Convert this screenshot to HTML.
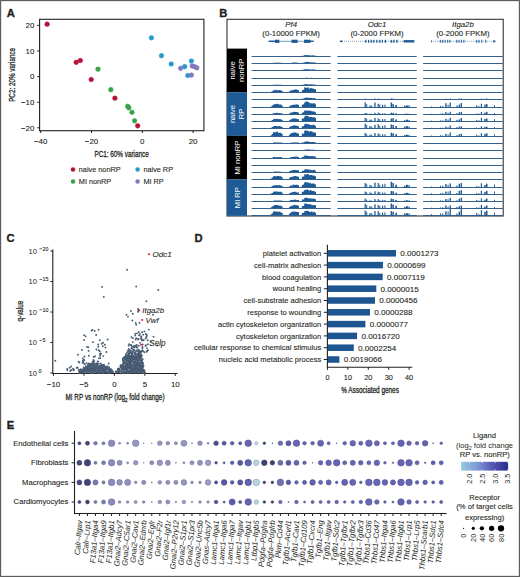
<!DOCTYPE html>
<html><head><meta charset="utf-8"><style>
html,body{margin:0;padding:0;background:#fff;}
#fig{position:relative;width:520px;height:577px;overflow:hidden;background:#fff;}
svg{position:absolute;left:0;top:0;font-family:"Liberation Sans", sans-serif;}
</style></head><body><div id="fig">
<svg width="520" height="577" viewBox="0 0 520 577">
<rect x="0.6" y="0.6" width="518.8" height="575.8" fill="none" stroke="#555" stroke-width="1.1"/>
<g id="A">
<text x="6.70" y="16.50" font-size="11.2" text-anchor="start" fill="#231f20" font-weight="bold" stroke="#231f20" stroke-width="0.35">A</text>
<rect x="39.6" y="19.3" width="164.3" height="111.4" fill="none" stroke="#231f20" stroke-width="1.1"/>
<line x1="37.2" y1="25.40" x2="39.6" y2="25.40" stroke="#231f20" stroke-width="1"/>
<text x="34.40" y="28.20" font-size="7.9" text-anchor="end" fill="#231f20" stroke="#231f20" stroke-width="0.1" >20</text>
<line x1="37.2" y1="51.00" x2="39.6" y2="51.00" stroke="#231f20" stroke-width="1"/>
<text x="34.40" y="53.80" font-size="7.9" text-anchor="end" fill="#231f20" stroke="#231f20" stroke-width="0.1" >10</text>
<line x1="37.2" y1="76.60" x2="39.6" y2="76.60" stroke="#231f20" stroke-width="1"/>
<text x="34.40" y="79.40" font-size="7.9" text-anchor="end" fill="#231f20" stroke="#231f20" stroke-width="0.1" >0</text>
<line x1="37.2" y1="102.20" x2="39.6" y2="102.20" stroke="#231f20" stroke-width="1"/>
<text x="34.40" y="105.00" font-size="7.9" text-anchor="end" fill="#231f20" stroke="#231f20" stroke-width="0.1" >−10</text>
<line x1="37.2" y1="127.80" x2="39.6" y2="127.80" stroke="#231f20" stroke-width="1"/>
<text x="34.40" y="130.60" font-size="7.9" text-anchor="end" fill="#231f20" stroke="#231f20" stroke-width="0.1" >−20</text>
<line x1="40.70" y1="130.7" x2="40.70" y2="133.0" stroke="#231f20" stroke-width="1"/>
<text x="40.70" y="144.20" font-size="7.9" text-anchor="middle" fill="#231f20" stroke="#231f20" stroke-width="0.1" >−40</text>
<line x1="91.50" y1="130.7" x2="91.50" y2="133.0" stroke="#231f20" stroke-width="1"/>
<text x="91.50" y="144.20" font-size="7.9" text-anchor="middle" fill="#231f20" stroke="#231f20" stroke-width="0.1" >−20</text>
<line x1="142.30" y1="130.7" x2="142.30" y2="133.0" stroke="#231f20" stroke-width="1"/>
<text x="142.30" y="144.20" font-size="7.9" text-anchor="middle" fill="#231f20" stroke="#231f20" stroke-width="0.1" >0</text>
<line x1="193.10" y1="130.7" x2="193.10" y2="133.0" stroke="#231f20" stroke-width="1"/>
<text x="193.10" y="144.20" font-size="7.9" text-anchor="middle" fill="#231f20" stroke="#231f20" stroke-width="0.1" >20</text>
<text transform="translate(121.6,157.0) scale(0.739,1)" font-size="8.6" text-anchor="middle" fill="#231f20" stroke="#231f20" stroke-width="0.28">PC1: 60% variance</text>
<text transform="translate(14.8,74.9) rotate(-90) scale(0.734,1)" font-size="8.6" text-anchor="middle" fill="#231f20" stroke="#231f20" stroke-width="0.28">PC2: 20% variance</text>
<circle cx="47.1" cy="24.2" r="2.35" fill="#b5123a" stroke="#b5123a" stroke-width="0.5" stroke-opacity="0.9"/>
<circle cx="76.2" cy="62.3" r="2.35" fill="#b5123a" stroke="#b5123a" stroke-width="0.5" stroke-opacity="0.9"/>
<circle cx="80.3" cy="60.5" r="2.35" fill="#b5123a" stroke="#b5123a" stroke-width="0.5" stroke-opacity="0.9"/>
<circle cx="91.2" cy="79.5" r="2.35" fill="#b5123a" stroke="#b5123a" stroke-width="0.5" stroke-opacity="0.9"/>
<circle cx="114.9" cy="98.2" r="2.35" fill="#b5123a" stroke="#b5123a" stroke-width="0.5" stroke-opacity="0.9"/>
<circle cx="137.7" cy="125.8" r="2.35" fill="#b5123a" stroke="#b5123a" stroke-width="0.5" stroke-opacity="0.9"/>
<circle cx="98.0" cy="69.2" r="2.35" fill="#37a347" stroke="#37a347" stroke-width="0.5" stroke-opacity="0.9"/>
<circle cx="110.8" cy="89.7" r="2.35" fill="#37a347" stroke="#37a347" stroke-width="0.5" stroke-opacity="0.9"/>
<circle cx="127.7" cy="106.3" r="2.35" fill="#37a347" stroke="#37a347" stroke-width="0.5" stroke-opacity="0.9"/>
<circle cx="128.8" cy="107.8" r="2.35" fill="#37a347" stroke="#37a347" stroke-width="0.5" stroke-opacity="0.9"/>
<circle cx="132.0" cy="112.3" r="2.35" fill="#37a347" stroke="#37a347" stroke-width="0.5" stroke-opacity="0.9"/>
<circle cx="134.6" cy="120.8" r="2.35" fill="#37a347" stroke="#37a347" stroke-width="0.5" stroke-opacity="0.9"/>
<circle cx="151.4" cy="37.8" r="2.35" fill="#2598d0" stroke="#2598d0" stroke-width="0.5" stroke-opacity="0.9"/>
<circle cx="161.5" cy="55.7" r="2.35" fill="#2598d0" stroke="#2598d0" stroke-width="0.5" stroke-opacity="0.9"/>
<circle cx="171.2" cy="64.0" r="2.35" fill="#2598d0" stroke="#2598d0" stroke-width="0.5" stroke-opacity="0.9"/>
<circle cx="184.7" cy="66.7" r="2.35" fill="#2598d0" stroke="#2598d0" stroke-width="0.5" stroke-opacity="0.9"/>
<circle cx="191.4" cy="61.1" r="2.35" fill="#2598d0" stroke="#2598d0" stroke-width="0.5" stroke-opacity="0.9"/>
<circle cx="187.8" cy="75.5" r="2.35" fill="#2598d0" stroke="#2598d0" stroke-width="0.5" stroke-opacity="0.9"/>
<circle cx="180.6" cy="68.3" r="2.35" fill="#8676bc" stroke="#8676bc" stroke-width="0.5" stroke-opacity="0.9"/>
<circle cx="191.4" cy="75.1" r="2.35" fill="#8676bc" stroke="#8676bc" stroke-width="0.5" stroke-opacity="0.9"/>
<circle cx="192.2" cy="66.0" r="2.35" fill="#8676bc" stroke="#8676bc" stroke-width="0.5" stroke-opacity="0.9"/>
<circle cx="194.5" cy="66.7" r="2.35" fill="#8676bc" stroke="#8676bc" stroke-width="0.5" stroke-opacity="0.9"/>
<circle cx="196.8" cy="67.8" r="2.35" fill="#8676bc" stroke="#8676bc" stroke-width="0.5" stroke-opacity="0.9"/>
<circle cx="73.0" cy="169.6" r="2.25" fill="#b5123a"/>
<text x="78.80" y="172.20" font-size="7.3" text-anchor="start" fill="#231f20" stroke="#231f20" stroke-width="0.1" >naive nonRP</text>
<circle cx="73.0" cy="181.4" r="2.25" fill="#37a347"/>
<text x="78.80" y="184.00" font-size="7.3" text-anchor="start" fill="#231f20" stroke="#231f20" stroke-width="0.1" >MI nonRP</text>
<circle cx="137.6" cy="169.6" r="2.25" fill="#2598d0"/>
<text x="143.40" y="172.20" font-size="7.3" text-anchor="start" fill="#231f20" stroke="#231f20" stroke-width="0.1" >naive RP</text>
<circle cx="137.6" cy="181.4" r="2.25" fill="#8676bc"/>
<text x="143.40" y="184.00" font-size="7.3" text-anchor="start" fill="#231f20" stroke="#231f20" stroke-width="0.1" >MI RP</text>
</g>
<g id="B">
<text x="219.30" y="16.50" font-size="11.2" text-anchor="start" fill="#231f20" font-weight="bold" stroke="#231f20" stroke-width="0.35">B</text>
<rect x="227.0" y="19.3" width="276.2" height="196.7" fill="none" stroke="#333" stroke-width="1.1"/>
<rect x="227.0" y="48.60" width="20" height="43.62" fill="#000"/>
<text transform="translate(235.05,70.41) rotate(-90)" font-size="7.6" text-anchor="middle" fill="#fff">naive</text>
<text transform="translate(243.95,70.41) rotate(-90)" font-size="7.6" text-anchor="middle" fill="#fff">nonRP</text>
<rect x="227.0" y="92.22" width="20" height="43.62" fill="#1d5a96"/>
<text transform="translate(235.05,114.03) rotate(-90)" font-size="7.6" text-anchor="middle" fill="#fff">naive</text>
<text transform="translate(243.95,114.03) rotate(-90)" font-size="7.6" text-anchor="middle" fill="#fff">RP</text>
<rect x="227.0" y="135.84" width="20" height="43.62" fill="#000"/>
<text transform="translate(239.50,157.65) rotate(-90)" font-size="7.6" text-anchor="middle" fill="#fff">MI nonRP</text>
<rect x="227.0" y="179.46" width="20" height="36.35" fill="#1d5a96"/>
<text transform="translate(239.50,197.63) rotate(-90)" font-size="7.6" text-anchor="middle" fill="#fff">MI RP</text>
<text x="291.15" y="27.30" font-size="7.8" text-anchor="middle" fill="#231f20" stroke="#231f20" stroke-width="0.1" font-style="italic">Pf4</text>
<text x="291.15" y="36.40" font-size="7.8" text-anchor="middle" fill="#231f20" stroke="#231f20" stroke-width="0.1" >(0-10000 FPKM)</text>
<text x="377.05" y="27.30" font-size="7.8" text-anchor="middle" fill="#231f20" stroke="#231f20" stroke-width="0.1" font-style="italic">Odc1</text>
<text x="377.05" y="36.40" font-size="7.8" text-anchor="middle" fill="#231f20" stroke="#231f20" stroke-width="0.1" >(0-2000 FPKM)</text>
<text x="462.90" y="27.30" font-size="7.8" text-anchor="middle" fill="#231f20" stroke="#231f20" stroke-width="0.1" font-style="italic">Itga2b</text>
<text x="462.90" y="36.40" font-size="7.8" text-anchor="middle" fill="#231f20" stroke="#231f20" stroke-width="0.1" >(0-2000 FPKM)</text>
<line x1="268.7" y1="41.3" x2="313.7" y2="41.3" stroke="#1d5a96" stroke-width="0.6"/>
<rect x="268.7" y="40.60" width="6.30" height="1.4" fill="#1d5a96"/>
<rect x="275" y="39.70" width="4.40" height="3.2" fill="#1d5a96"/>
<rect x="291.5" y="39.70" width="6.10" height="3.2" fill="#1d5a96"/>
<rect x="304" y="39.70" width="6.60" height="3.2" fill="#1d5a96"/>
<rect x="310.6" y="40.60" width="3.10" height="1.4" fill="#1d5a96"/>
<line x1="342" y1="41.3" x2="403.6" y2="41.3" stroke="#1d5a96" stroke-width="0.6" stroke-dasharray="1,1"/>
<rect x="339.9" y="40.50" width="2.50" height="1.6" fill="#1d5a96"/>
<rect x="365.2" y="39.80" width="1.20" height="3.0" fill="#1d5a96"/>
<rect x="368" y="39.80" width="1.20" height="3.0" fill="#1d5a96"/>
<rect x="370.6" y="39.80" width="1.20" height="3.0" fill="#1d5a96"/>
<rect x="373.2" y="39.80" width="1.20" height="3.0" fill="#1d5a96"/>
<rect x="376.2" y="39.80" width="1.20" height="3.0" fill="#1d5a96"/>
<rect x="379.2" y="39.80" width="1.20" height="3.0" fill="#1d5a96"/>
<rect x="381.8" y="39.80" width="1.20" height="3.0" fill="#1d5a96"/>
<rect x="384.8" y="39.80" width="1.20" height="3.0" fill="#1d5a96"/>
<rect x="390.6" y="39.80" width="1.30" height="3.0" fill="#1d5a96"/>
<rect x="393.2" y="39.80" width="1.30" height="3.0" fill="#1d5a96"/>
<rect x="396.2" y="39.80" width="1.30" height="3.0" fill="#1d5a96"/>
<rect x="403.6" y="40.10" width="10.70" height="2.4" fill="#1d5a96"/>
<line x1="431.2" y1="41.3" x2="495.8" y2="41.3" stroke="#1d5a96" stroke-width="0.6" stroke-dasharray="1,1"/>
<rect x="439.8" y="39.80" width="1.30" height="3.0" fill="#4f7fae"/>
<rect x="442.0" y="39.80" width="1.30" height="3.0" fill="#4f7fae"/>
<rect x="444.5" y="39.80" width="1.30" height="3.0" fill="#4f7fae"/>
<rect x="447.0" y="39.80" width="1.30" height="3.0" fill="#4f7fae"/>
<rect x="449.2" y="39.80" width="1.30" height="3.0" fill="#4f7fae"/>
<rect x="456.0" y="39.80" width="1.30" height="3.0" fill="#4f7fae"/>
<rect x="458.4" y="39.80" width="1.30" height="3.0" fill="#4f7fae"/>
<rect x="460.8" y="39.80" width="1.30" height="3.0" fill="#4f7fae"/>
<rect x="463.2" y="39.80" width="1.30" height="3.0" fill="#4f7fae"/>
<rect x="476.0" y="39.80" width="1.30" height="3.0" fill="#4f7fae"/>
<rect x="478.4" y="39.80" width="1.30" height="3.0" fill="#4f7fae"/>
<rect x="481.0" y="39.80" width="1.30" height="3.0" fill="#4f7fae"/>
<rect x="485.0" y="39.80" width="1.30" height="3.0" fill="#4f7fae"/>
<path d="M493.4,39.699999999999996 L495.8,41.3 L493.4,42.9 Z" fill="#1d5a96"/>
<rect x="431.2" y="40.3" width="0.8" height="2" fill="#1d5a96"/>
<path d="M270.60,56.50 L270.60,56.35 L271.81,56.35 L271.81,56.21 L273.02,56.21 L273.02,56.02 L274.23,56.02 L274.23,55.95 L275.44,55.95 L275.44,56.00 L276.65,56.00 L276.65,55.95 L277.86,55.95 L277.86,56.10 L279.07,56.10 L279.07,56.03 L280.28,56.03 L280.28,56.03 L281.49,56.03 L281.49,56.19 L282.70,56.19 L282.70,56.50 Z M289.00,56.50 L289.00,56.40 L290.25,56.40 L290.25,56.37 L291.50,56.37 L291.50,56.33 L292.75,56.33 L292.75,56.32 L294.00,56.32 L294.00,56.30 L295.25,56.30 L295.25,56.30 L296.50,56.30 L296.50,56.33 L297.75,56.33 L297.75,56.35 L299.00,56.35 L299.00,56.50 Z M301.80,56.50 L301.80,55.84 L302.98,55.84 L302.98,55.65 L304.17,55.65 L304.17,55.09 L305.35,55.09 L305.35,55.21 L306.53,55.21 L306.53,55.00 L307.72,55.00 L307.72,55.29 L308.90,55.29 L308.90,55.28 L310.08,55.28 L310.08,55.42 L311.27,55.42 L311.27,55.51 L312.45,55.51 L312.45,55.36 L313.63,55.36 L313.63,55.52 L314.82,55.52 L314.82,55.72 L316.00,55.72 L316.00,56.50 Z " fill="#1d5a96"/>
<line x1="251.6" y1="56.50" x2="330.7" y2="56.50" stroke="#34608c" stroke-width="1"/>
<line x1="337.4" y1="56.50" x2="416.7" y2="56.50" stroke="#34608c" stroke-width="1"/>
<line x1="423.1" y1="56.50" x2="502.7" y2="56.50" stroke="#34608c" stroke-width="1"/>
<path d="M270.60,63.50 L270.60,63.25 L271.81,63.25 L271.81,62.99 L273.02,62.99 L273.02,62.72 L274.23,62.72 L274.23,62.67 L275.44,62.67 L275.44,62.65 L276.65,62.65 L276.65,62.60 L277.86,62.60 L277.86,62.69 L279.07,62.69 L279.07,62.65 L280.28,62.65 L280.28,62.78 L281.49,62.78 L281.49,62.99 L282.70,62.99 L282.70,63.50 Z M289.00,63.50 L289.00,63.08 L290.25,63.08 L290.25,62.90 L291.50,62.90 L291.50,62.70 L292.75,62.70 L292.75,62.59 L294.00,62.59 L294.00,62.52 L295.25,62.52 L295.25,62.50 L296.50,62.50 L296.50,62.70 L297.75,62.70 L297.75,62.83 L299.00,62.83 L299.00,63.50 Z M301.80,63.50 L301.80,62.71 L302.98,62.71 L302.98,62.66 L304.17,62.66 L304.17,62.18 L305.35,62.18 L305.35,61.94 L306.53,61.94 L306.53,61.87 L307.72,61.87 L307.72,61.96 L308.90,61.96 L308.90,62.31 L310.08,62.31 L310.08,62.29 L311.27,62.29 L311.27,62.44 L312.45,62.44 L312.45,62.25 L313.63,62.25 L313.63,62.45 L314.82,62.45 L314.82,62.55 L316.00,62.55 L316.00,63.50 Z " fill="#1d5a96"/>
<line x1="251.6" y1="63.50" x2="330.7" y2="63.50" stroke="#34608c" stroke-width="1"/>
<line x1="337.4" y1="63.50" x2="416.7" y2="63.50" stroke="#34608c" stroke-width="1"/>
<line x1="423.1" y1="63.50" x2="502.7" y2="63.50" stroke="#34608c" stroke-width="1"/>
<path d="M270.60,70.50 L270.60,70.47 L271.81,70.47 L271.81,70.45 L273.02,70.45 L273.02,70.41 L274.23,70.41 L274.23,70.40 L275.44,70.40 L275.44,70.41 L276.65,70.41 L276.65,70.41 L277.86,70.41 L277.86,70.42 L279.07,70.42 L279.07,70.40 L280.28,70.40 L280.28,70.42 L281.49,70.42 L281.49,70.44 L282.70,70.44 L282.70,70.50 Z M289.00,70.50 L289.00,70.27 L290.25,70.27 L290.25,70.18 L291.50,70.18 L291.50,70.07 L292.75,70.07 L292.75,70.03 L294.00,70.03 L294.00,70.01 L295.25,70.01 L295.25,69.94 L296.50,69.94 L296.50,70.07 L297.75,70.07 L297.75,70.15 L299.00,70.15 L299.00,70.50 Z M301.80,70.50 L301.80,69.78 L302.98,69.78 L302.98,69.80 L304.17,69.80 L304.17,69.35 L305.35,69.35 L305.35,69.25 L306.53,69.25 L306.53,69.24 L307.72,69.24 L307.72,69.13 L308.90,69.13 L308.90,69.47 L310.08,69.47 L310.08,69.47 L311.27,69.47 L311.27,69.44 L312.45,69.44 L312.45,69.51 L313.63,69.51 L313.63,69.42 L314.82,69.42 L314.82,69.66 L316.00,69.66 L316.00,70.50 Z " fill="#1d5a96"/>
<line x1="251.6" y1="70.50" x2="330.7" y2="70.50" stroke="#34608c" stroke-width="1"/>
<line x1="337.4" y1="70.50" x2="416.7" y2="70.50" stroke="#34608c" stroke-width="1"/>
<line x1="423.1" y1="70.50" x2="502.7" y2="70.50" stroke="#34608c" stroke-width="1"/>
<path d="M270.60,78.50 L270.60,78.47 L271.81,78.47 L271.81,78.44 L273.02,78.44 L273.02,78.40 L274.23,78.40 L274.23,78.41 L275.44,78.41 L275.44,78.41 L276.65,78.41 L276.65,78.41 L277.86,78.41 L277.86,78.42 L279.07,78.42 L279.07,78.42 L280.28,78.42 L280.28,78.42 L281.49,78.42 L281.49,78.44 L282.70,78.44 L282.70,78.50 Z M289.00,78.50 L289.00,78.45 L290.25,78.45 L290.25,78.43 L291.50,78.43 L291.50,78.42 L292.75,78.42 L292.75,78.41 L294.00,78.41 L294.00,78.40 L295.25,78.40 L295.25,78.40 L296.50,78.40 L296.50,78.41 L297.75,78.41 L297.75,78.41 L299.00,78.41 L299.00,78.50 Z M301.80,78.50 L301.80,78.14 L302.98,78.14 L302.98,78.15 L304.17,78.15 L304.17,77.90 L305.35,77.90 L305.35,77.87 L306.53,77.87 L306.53,77.72 L307.72,77.72 L307.72,77.90 L308.90,77.90 L308.90,77.89 L310.08,77.89 L310.08,77.84 L311.27,77.84 L311.27,78.00 L312.45,78.00 L312.45,77.99 L313.63,77.99 L313.63,77.98 L314.82,77.98 L314.82,78.04 L316.00,78.04 L316.00,78.50 Z " fill="#1d5a96"/>
<line x1="251.6" y1="78.50" x2="330.7" y2="78.50" stroke="#34608c" stroke-width="1"/>
<line x1="337.4" y1="78.50" x2="416.7" y2="78.50" stroke="#34608c" stroke-width="1"/>
<line x1="423.1" y1="78.50" x2="502.7" y2="78.50" stroke="#34608c" stroke-width="1"/>
<path d="M270.60,85.50 L270.60,85.29 L271.81,85.29 L271.81,85.05 L273.02,85.05 L273.02,84.86 L274.23,84.86 L274.23,84.70 L275.44,84.70 L275.44,84.65 L276.65,84.65 L276.65,84.74 L277.86,84.74 L277.86,84.70 L279.07,84.70 L279.07,84.72 L280.28,84.72 L280.28,84.76 L281.49,84.76 L281.49,85.08 L282.70,85.08 L282.70,85.50 Z M289.00,85.50 L289.00,85.26 L290.25,85.26 L290.25,85.15 L291.50,85.15 L291.50,85.06 L292.75,85.06 L292.75,85.04 L294.00,85.04 L294.00,84.94 L295.25,84.94 L295.25,84.98 L296.50,84.98 L296.50,85.00 L297.75,85.00 L297.75,85.08 L299.00,85.08 L299.00,85.50 Z M301.80,85.50 L301.80,84.79 L302.98,84.79 L302.98,84.67 L304.17,84.67 L304.17,84.13 L305.35,84.13 L305.35,84.08 L306.53,84.08 L306.53,84.22 L307.72,84.22 L307.72,84.15 L308.90,84.15 L308.90,84.41 L310.08,84.41 L310.08,84.29 L311.27,84.29 L311.27,84.40 L312.45,84.40 L312.45,84.38 L313.63,84.38 L313.63,84.43 L314.82,84.43 L314.82,84.69 L316.00,84.69 L316.00,85.50 Z " fill="#1d5a96"/>
<line x1="251.6" y1="85.50" x2="330.7" y2="85.50" stroke="#34608c" stroke-width="1"/>
<line x1="337.4" y1="85.50" x2="416.7" y2="85.50" stroke="#34608c" stroke-width="1"/>
<line x1="423.1" y1="85.50" x2="502.7" y2="85.50" stroke="#34608c" stroke-width="1"/>
<path d="M270.60,92.50 L270.60,91.68 L271.81,91.68 L271.81,91.19 L273.02,91.19 L273.02,90.27 L274.23,90.27 L274.23,90.22 L275.44,90.22 L275.44,89.84 L276.65,89.84 L276.65,90.21 L277.86,90.21 L277.86,90.16 L279.07,90.16 L279.07,90.07 L280.28,90.07 L280.28,90.27 L281.49,90.27 L281.49,91.03 L282.70,91.03 L282.70,92.50 Z M289.00,92.50 L289.00,91.19 L290.25,91.19 L290.25,90.45 L291.50,90.45 L291.50,90.21 L292.75,90.21 L292.75,89.77 L294.00,89.77 L294.00,89.66 L295.25,89.66 L295.25,89.30 L296.50,89.30 L296.50,89.69 L297.75,89.69 L297.75,90.33 L299.00,90.33 L299.00,92.50 Z M301.80,92.50 L301.80,90.28 L302.98,90.28 L302.98,89.85 L304.17,89.85 L304.17,87.20 L305.35,87.20 L305.35,88.07 L306.53,88.07 L306.53,87.56 L307.72,87.56 L307.72,87.44 L308.90,87.44 L308.90,88.64 L310.08,88.64 L310.08,87.94 L311.27,87.94 L311.27,88.13 L312.45,88.13 L312.45,88.46 L313.63,88.46 L313.63,89.08 L314.82,89.08 L314.82,89.19 L316.00,89.19 L316.00,92.50 Z " fill="#1d5a96"/>
<line x1="251.6" y1="92.50" x2="330.7" y2="92.50" stroke="#34608c" stroke-width="1"/>
<line x1="337.4" y1="92.50" x2="416.7" y2="92.50" stroke="#34608c" stroke-width="1"/>
<line x1="423.1" y1="92.50" x2="502.7" y2="92.50" stroke="#34608c" stroke-width="1"/>
<path d="M270.60,99.50 L270.60,99.41 L271.81,99.41 L271.81,99.32 L273.02,99.32 L273.02,99.26 L274.23,99.26 L274.23,99.21 L275.44,99.21 L275.44,99.25 L276.65,99.25 L276.65,99.19 L277.86,99.19 L277.86,99.25 L279.07,99.25 L279.07,99.23 L280.28,99.23 L280.28,99.23 L281.49,99.23 L281.49,99.34 L282.70,99.34 L282.70,99.50 Z M289.00,99.50 L289.00,99.25 L290.25,99.25 L290.25,99.10 L291.50,99.10 L291.50,98.95 L292.75,98.95 L292.75,98.93 L294.00,98.93 L294.00,98.88 L295.25,98.88 L295.25,98.84 L296.50,98.84 L296.50,98.97 L297.75,98.97 L297.75,99.03 L299.00,99.03 L299.00,99.50 Z M301.80,99.50 L301.80,98.67 L302.98,98.67 L302.98,98.44 L304.17,98.44 L304.17,97.99 L305.35,97.99 L305.35,97.59 L306.53,97.59 L306.53,97.77 L307.72,97.77 L307.72,97.76 L308.90,97.76 L308.90,98.09 L310.08,98.09 L310.08,97.81 L311.27,97.81 L311.27,98.12 L312.45,98.12 L312.45,98.16 L313.63,98.16 L313.63,98.01 L314.82,98.01 L314.82,98.40 L316.00,98.40 L316.00,99.50 Z " fill="#1d5a96"/>
<line x1="251.6" y1="99.50" x2="330.7" y2="99.50" stroke="#34608c" stroke-width="1"/>
<line x1="337.4" y1="99.50" x2="416.7" y2="99.50" stroke="#34608c" stroke-width="1"/>
<rect x="364.60" y="98.65" width="1.2" height="0.85" fill="#1d5a96"/>
<rect x="366.20" y="98.89" width="1.0" height="0.61" fill="#1d5a96"/>
<rect x="369.40" y="98.96" width="1.3" height="0.54" fill="#1d5a96"/>
<rect x="371.20" y="99.09" width="1.0" height="0.41" fill="#1d5a96"/>
<rect x="374.30" y="98.61" width="1.3" height="0.89" fill="#1d5a96"/>
<rect x="377.60" y="98.68" width="1.2" height="0.82" fill="#1d5a96"/>
<rect x="379.30" y="98.85" width="1.0" height="0.65" fill="#1d5a96"/>
<rect x="382.00" y="99.04" width="1.2" height="0.46" fill="#1d5a96"/>
<rect x="384.40" y="98.91" width="1.1" height="0.59" fill="#1d5a96"/>
<rect x="390.60" y="98.51" width="1.5" height="0.99" fill="#1d5a96"/>
<rect x="392.40" y="98.70" width="1.5" height="0.80" fill="#1d5a96"/>
<rect x="395.30" y="98.96" width="1.6" height="0.54" fill="#1d5a96"/>
<rect x="404.00" y="99.15" width="1.6" height="0.35" fill="#1d5a96"/>
<rect x="406.00" y="99.03" width="2.0" height="0.47" fill="#1d5a96"/>
<rect x="408.40" y="99.11" width="1.3" height="0.39" fill="#1d5a96"/>
<line x1="423.1" y1="99.50" x2="502.7" y2="99.50" stroke="#34608c" stroke-width="1"/>
<rect x="431.00" y="99.22" width="0.8" height="0.28" fill="#1d5a96"/>
<rect x="440.00" y="99.09" width="1.0" height="0.41" fill="#1d5a96"/>
<rect x="442.30" y="99.14" width="1.0" height="0.36" fill="#1d5a96"/>
<rect x="445.20" y="98.73" width="1.4" height="0.77" fill="#1d5a96"/>
<rect x="447.60" y="98.87" width="1.0" height="0.63" fill="#1d5a96"/>
<rect x="449.60" y="98.57" width="1.3" height="0.93" fill="#1d5a96"/>
<rect x="456.30" y="99.02" width="1.2" height="0.48" fill="#1d5a96"/>
<rect x="458.60" y="98.68" width="1.4" height="0.82" fill="#1d5a96"/>
<rect x="460.60" y="98.61" width="1.4" height="0.89" fill="#1d5a96"/>
<rect x="476.20" y="99.09" width="1.0" height="0.41" fill="#1d5a96"/>
<rect x="478.40" y="99.10" width="1.0" height="0.40" fill="#1d5a96"/>
<rect x="480.80" y="98.57" width="1.2" height="0.93" fill="#1d5a96"/>
<rect x="484.20" y="98.77" width="1.5" height="0.73" fill="#1d5a96"/>
<rect x="486.00" y="98.62" width="1.5" height="0.88" fill="#1d5a96"/>
<rect x="494.00" y="98.96" width="0.9" height="0.54" fill="#1d5a96"/>
<path d="M270.60,107.50 L270.60,106.48 L271.81,106.48 L271.81,105.39 L273.02,105.39 L273.02,104.43 L274.23,104.43 L274.23,104.25 L275.44,104.25 L275.44,103.92 L276.65,103.92 L276.65,103.78 L277.86,103.78 L277.86,104.20 L279.07,104.20 L279.07,104.56 L280.28,104.56 L280.28,104.59 L281.49,104.59 L281.49,105.49 L282.70,105.49 L282.70,107.50 Z M289.00,107.50 L289.00,106.23 L290.25,106.23 L290.25,105.48 L291.50,105.48 L291.50,105.09 L292.75,105.09 L292.75,104.65 L294.00,104.65 L294.00,104.85 L295.25,104.85 L295.25,104.44 L296.50,104.44 L296.50,104.32 L297.75,104.32 L297.75,105.11 L299.00,105.11 L299.00,107.50 Z M301.80,107.50 L301.80,104.87 L302.98,104.87 L302.98,104.34 L304.17,104.34 L304.17,102.47 L305.35,102.47 L305.35,101.46 L306.53,101.46 L306.53,101.50 L307.72,101.50 L307.72,101.90 L308.90,101.90 L308.90,102.81 L310.08,102.81 L310.08,103.35 L311.27,103.35 L311.27,103.56 L312.45,103.56 L312.45,103.44 L313.63,103.44 L313.63,103.05 L314.82,103.05 L314.82,104.30 L316.00,104.30 L316.00,107.50 Z " fill="#1d5a96"/>
<line x1="251.6" y1="107.50" x2="330.7" y2="107.50" stroke="#34608c" stroke-width="1"/>
<line x1="337.4" y1="107.50" x2="416.7" y2="107.50" stroke="#34608c" stroke-width="1"/>
<rect x="364.60" y="102.30" width="1.2" height="5.20" fill="#1d5a96"/>
<rect x="366.20" y="104.08" width="1.0" height="3.42" fill="#1d5a96"/>
<rect x="369.40" y="105.41" width="1.3" height="2.09" fill="#1d5a96"/>
<rect x="371.20" y="105.57" width="1.0" height="1.93" fill="#1d5a96"/>
<rect x="374.30" y="102.58" width="1.3" height="4.92" fill="#1d5a96"/>
<rect x="377.60" y="103.71" width="1.2" height="3.79" fill="#1d5a96"/>
<rect x="379.30" y="104.35" width="1.0" height="3.15" fill="#1d5a96"/>
<rect x="382.00" y="104.76" width="1.2" height="2.74" fill="#1d5a96"/>
<rect x="384.40" y="104.65" width="1.1" height="2.85" fill="#1d5a96"/>
<rect x="390.60" y="102.56" width="1.5" height="4.94" fill="#1d5a96"/>
<rect x="392.40" y="104.07" width="1.5" height="3.43" fill="#1d5a96"/>
<rect x="395.30" y="104.94" width="1.6" height="2.56" fill="#1d5a96"/>
<rect x="404.00" y="105.70" width="1.6" height="1.80" fill="#1d5a96"/>
<rect x="406.00" y="105.46" width="2.0" height="2.04" fill="#1d5a96"/>
<rect x="408.40" y="105.38" width="1.3" height="2.12" fill="#1d5a96"/>
<line x1="423.1" y1="107.50" x2="502.7" y2="107.50" stroke="#34608c" stroke-width="1"/>
<rect x="431.00" y="106.38" width="0.8" height="1.12" fill="#1d5a96"/>
<rect x="440.00" y="105.99" width="1.0" height="1.51" fill="#1d5a96"/>
<rect x="442.30" y="105.74" width="1.0" height="1.76" fill="#1d5a96"/>
<rect x="445.20" y="103.22" width="1.4" height="4.28" fill="#1d5a96"/>
<rect x="447.60" y="104.76" width="1.0" height="2.74" fill="#1d5a96"/>
<rect x="449.60" y="102.53" width="1.3" height="4.97" fill="#1d5a96"/>
<rect x="456.30" y="105.53" width="1.2" height="1.97" fill="#1d5a96"/>
<rect x="458.60" y="104.59" width="1.4" height="2.91" fill="#1d5a96"/>
<rect x="460.60" y="103.05" width="1.4" height="4.45" fill="#1d5a96"/>
<rect x="476.20" y="105.22" width="1.0" height="2.28" fill="#1d5a96"/>
<rect x="478.40" y="105.83" width="1.0" height="1.67" fill="#1d5a96"/>
<rect x="480.80" y="103.73" width="1.2" height="3.77" fill="#1d5a96"/>
<rect x="484.20" y="104.57" width="1.5" height="2.93" fill="#1d5a96"/>
<rect x="486.00" y="104.01" width="1.5" height="3.49" fill="#1d5a96"/>
<rect x="494.00" y="105.19" width="0.9" height="2.31" fill="#1d5a96"/>
<path d="M270.60,114.50 L270.60,114.07 L271.81,114.07 L271.81,113.68 L273.02,113.68 L273.02,113.13 L274.23,113.13 L274.23,113.14 L275.44,113.14 L275.44,113.07 L276.65,113.07 L276.65,112.84 L277.86,112.84 L277.86,113.13 L279.07,113.13 L279.07,113.07 L280.28,113.07 L280.28,113.14 L281.49,113.14 L281.49,113.61 L282.70,113.61 L282.70,114.50 Z M289.00,114.50 L289.00,113.44 L290.25,113.44 L290.25,112.61 L291.50,112.61 L291.50,112.54 L292.75,112.54 L292.75,111.90 L294.00,111.90 L294.00,111.77 L295.25,111.77 L295.25,111.97 L296.50,111.97 L296.50,112.12 L297.75,112.12 L297.75,112.71 L299.00,112.71 L299.00,114.50 Z M301.80,114.50 L301.80,112.66 L302.98,112.66 L302.98,112.16 L304.17,112.16 L304.17,110.49 L305.35,110.49 L305.35,110.38 L306.53,110.38 L306.53,110.85 L307.72,110.85 L307.72,110.50 L308.90,110.50 L308.90,110.70 L310.08,110.70 L310.08,110.80 L311.27,110.80 L311.27,111.17 L312.45,111.17 L312.45,111.54 L313.63,111.54 L313.63,111.55 L314.82,111.55 L314.82,112.30 L316.00,112.30 L316.00,114.50 Z " fill="#1d5a96"/>
<line x1="251.6" y1="114.50" x2="330.7" y2="114.50" stroke="#34608c" stroke-width="1"/>
<line x1="337.4" y1="114.50" x2="416.7" y2="114.50" stroke="#34608c" stroke-width="1"/>
<rect x="364.60" y="112.96" width="1.2" height="1.54" fill="#1d5a96"/>
<rect x="366.20" y="112.97" width="1.0" height="1.53" fill="#1d5a96"/>
<rect x="369.40" y="113.58" width="1.3" height="0.92" fill="#1d5a96"/>
<rect x="371.20" y="113.77" width="1.0" height="0.73" fill="#1d5a96"/>
<rect x="374.30" y="112.80" width="1.3" height="1.70" fill="#1d5a96"/>
<rect x="377.60" y="112.64" width="1.2" height="1.86" fill="#1d5a96"/>
<rect x="379.30" y="113.21" width="1.0" height="1.29" fill="#1d5a96"/>
<rect x="382.00" y="113.39" width="1.2" height="1.11" fill="#1d5a96"/>
<rect x="384.40" y="113.15" width="1.1" height="1.35" fill="#1d5a96"/>
<rect x="390.60" y="112.68" width="1.5" height="1.82" fill="#1d5a96"/>
<rect x="392.40" y="112.91" width="1.5" height="1.59" fill="#1d5a96"/>
<rect x="395.30" y="113.36" width="1.6" height="1.14" fill="#1d5a96"/>
<rect x="404.00" y="113.80" width="1.6" height="0.70" fill="#1d5a96"/>
<rect x="406.00" y="113.69" width="2.0" height="0.81" fill="#1d5a96"/>
<rect x="408.40" y="113.75" width="1.3" height="0.75" fill="#1d5a96"/>
<line x1="423.1" y1="114.50" x2="502.7" y2="114.50" stroke="#34608c" stroke-width="1"/>
<rect x="431.00" y="113.76" width="0.8" height="0.74" fill="#1d5a96"/>
<rect x="440.00" y="113.58" width="1.0" height="0.92" fill="#1d5a96"/>
<rect x="442.30" y="113.32" width="1.0" height="1.18" fill="#1d5a96"/>
<rect x="445.20" y="112.11" width="1.4" height="2.39" fill="#1d5a96"/>
<rect x="447.60" y="112.85" width="1.0" height="1.65" fill="#1d5a96"/>
<rect x="449.60" y="111.82" width="1.3" height="2.68" fill="#1d5a96"/>
<rect x="456.30" y="113.23" width="1.2" height="1.27" fill="#1d5a96"/>
<rect x="458.60" y="112.29" width="1.4" height="2.21" fill="#1d5a96"/>
<rect x="460.60" y="111.95" width="1.4" height="2.55" fill="#1d5a96"/>
<rect x="476.20" y="113.41" width="1.0" height="1.09" fill="#1d5a96"/>
<rect x="478.40" y="113.60" width="1.0" height="0.90" fill="#1d5a96"/>
<rect x="480.80" y="111.94" width="1.2" height="2.56" fill="#1d5a96"/>
<rect x="484.20" y="112.67" width="1.5" height="1.83" fill="#1d5a96"/>
<rect x="486.00" y="111.88" width="1.5" height="2.62" fill="#1d5a96"/>
<rect x="494.00" y="112.99" width="0.9" height="1.51" fill="#1d5a96"/>
<path d="M270.60,121.50 L270.60,120.75 L271.81,120.75 L271.81,120.09 L273.02,120.09 L273.02,119.36 L274.23,119.36 L274.23,118.74 L275.44,118.74 L275.44,118.99 L276.65,118.99 L276.65,118.84 L277.86,118.84 L277.86,119.27 L279.07,119.27 L279.07,118.93 L280.28,118.93 L280.28,119.26 L281.49,119.26 L281.49,119.97 L282.70,119.97 L282.70,121.50 Z M289.00,121.50 L289.00,120.28 L290.25,120.28 L290.25,119.43 L291.50,119.43 L291.50,118.66 L292.75,118.66 L292.75,118.61 L294.00,118.61 L294.00,118.59 L295.25,118.59 L295.25,118.41 L296.50,118.41 L296.50,118.89 L297.75,118.89 L297.75,119.20 L299.00,119.20 L299.00,121.50 Z M301.80,121.50 L301.80,118.57 L302.98,118.57 L302.98,118.50 L304.17,118.50 L304.17,116.42 L305.35,116.42 L305.35,115.38 L306.53,115.38 L306.53,115.97 L307.72,115.97 L307.72,116.34 L308.90,116.34 L308.90,117.29 L310.08,117.29 L310.08,116.72 L311.27,116.72 L311.27,117.11 L312.45,117.11 L312.45,117.59 L313.63,117.59 L313.63,116.95 L314.82,116.95 L314.82,118.10 L316.00,118.10 L316.00,121.50 Z " fill="#1d5a96"/>
<line x1="251.6" y1="121.50" x2="330.7" y2="121.50" stroke="#34608c" stroke-width="1"/>
<line x1="337.4" y1="121.50" x2="416.7" y2="121.50" stroke="#34608c" stroke-width="1"/>
<rect x="364.60" y="117.84" width="1.2" height="3.66" fill="#1d5a96"/>
<rect x="366.20" y="118.54" width="1.0" height="2.96" fill="#1d5a96"/>
<rect x="369.40" y="119.66" width="1.3" height="1.84" fill="#1d5a96"/>
<rect x="371.20" y="119.75" width="1.0" height="1.75" fill="#1d5a96"/>
<rect x="374.30" y="117.88" width="1.3" height="3.62" fill="#1d5a96"/>
<rect x="377.60" y="118.39" width="1.2" height="3.11" fill="#1d5a96"/>
<rect x="379.30" y="119.25" width="1.0" height="2.25" fill="#1d5a96"/>
<rect x="382.00" y="119.10" width="1.2" height="2.40" fill="#1d5a96"/>
<rect x="384.40" y="118.95" width="1.1" height="2.55" fill="#1d5a96"/>
<rect x="390.60" y="118.44" width="1.5" height="3.06" fill="#1d5a96"/>
<rect x="392.40" y="118.12" width="1.5" height="3.38" fill="#1d5a96"/>
<rect x="395.30" y="119.47" width="1.6" height="2.03" fill="#1d5a96"/>
<rect x="404.00" y="120.25" width="1.6" height="1.25" fill="#1d5a96"/>
<rect x="406.00" y="119.61" width="2.0" height="1.89" fill="#1d5a96"/>
<rect x="408.40" y="120.12" width="1.3" height="1.38" fill="#1d5a96"/>
<line x1="423.1" y1="121.50" x2="502.7" y2="121.50" stroke="#34608c" stroke-width="1"/>
<rect x="431.00" y="120.53" width="0.8" height="0.97" fill="#1d5a96"/>
<rect x="440.00" y="120.36" width="1.0" height="1.14" fill="#1d5a96"/>
<rect x="442.30" y="120.26" width="1.0" height="1.24" fill="#1d5a96"/>
<rect x="445.20" y="118.81" width="1.4" height="2.69" fill="#1d5a96"/>
<rect x="447.60" y="119.49" width="1.0" height="2.01" fill="#1d5a96"/>
<rect x="449.60" y="117.79" width="1.3" height="3.71" fill="#1d5a96"/>
<rect x="456.30" y="119.85" width="1.2" height="1.65" fill="#1d5a96"/>
<rect x="458.60" y="119.45" width="1.4" height="2.05" fill="#1d5a96"/>
<rect x="460.60" y="117.88" width="1.4" height="3.62" fill="#1d5a96"/>
<rect x="476.20" y="119.87" width="1.0" height="1.63" fill="#1d5a96"/>
<rect x="478.40" y="120.19" width="1.0" height="1.31" fill="#1d5a96"/>
<rect x="480.80" y="117.87" width="1.2" height="3.63" fill="#1d5a96"/>
<rect x="484.20" y="118.92" width="1.5" height="2.58" fill="#1d5a96"/>
<rect x="486.00" y="118.44" width="1.5" height="3.06" fill="#1d5a96"/>
<rect x="494.00" y="119.22" width="0.9" height="2.28" fill="#1d5a96"/>
<path d="M270.60,128.50 L270.60,127.72 L271.81,127.72 L271.81,127.08 L273.02,127.08 L273.02,126.21 L274.23,126.21 L274.23,126.01 L275.44,126.01 L275.44,125.94 L276.65,125.94 L276.65,126.23 L277.86,126.23 L277.86,126.37 L279.07,126.37 L279.07,126.07 L280.28,126.07 L280.28,126.55 L281.49,126.55 L281.49,126.95 L282.70,126.95 L282.70,128.50 Z M289.00,128.50 L289.00,127.19 L290.25,127.19 L290.25,126.23 L291.50,126.23 L291.50,126.09 L292.75,126.09 L292.75,125.42 L294.00,125.42 L294.00,125.19 L295.25,125.19 L295.25,125.66 L296.50,125.66 L296.50,125.82 L297.75,125.82 L297.75,126.37 L299.00,126.37 L299.00,128.50 Z M301.80,128.50 L301.80,126.37 L302.98,126.37 L302.98,126.17 L304.17,126.17 L304.17,124.20 L305.35,124.20 L305.35,123.48 L306.53,123.48 L306.53,124.22 L307.72,124.22 L307.72,124.00 L308.90,124.00 L308.90,124.81 L310.08,124.81 L310.08,124.82 L311.27,124.82 L311.27,125.13 L312.45,125.13 L312.45,124.85 L313.63,124.85 L313.63,124.75 L314.82,124.75 L314.82,125.98 L316.00,125.98 L316.00,128.50 Z " fill="#1d5a96"/>
<line x1="251.6" y1="128.50" x2="330.7" y2="128.50" stroke="#34608c" stroke-width="1"/>
<line x1="337.4" y1="128.50" x2="416.7" y2="128.50" stroke="#34608c" stroke-width="1"/>
<rect x="364.60" y="123.68" width="1.2" height="4.82" fill="#1d5a96"/>
<rect x="366.20" y="124.95" width="1.0" height="3.55" fill="#1d5a96"/>
<rect x="369.40" y="125.98" width="1.3" height="2.52" fill="#1d5a96"/>
<rect x="371.20" y="126.67" width="1.0" height="1.83" fill="#1d5a96"/>
<rect x="374.30" y="124.74" width="1.3" height="3.76" fill="#1d5a96"/>
<rect x="377.60" y="124.18" width="1.2" height="4.32" fill="#1d5a96"/>
<rect x="379.30" y="125.67" width="1.0" height="2.83" fill="#1d5a96"/>
<rect x="382.00" y="125.95" width="1.2" height="2.55" fill="#1d5a96"/>
<rect x="384.40" y="125.13" width="1.1" height="3.37" fill="#1d5a96"/>
<rect x="390.60" y="124.47" width="1.5" height="4.03" fill="#1d5a96"/>
<rect x="392.40" y="125.01" width="1.5" height="3.49" fill="#1d5a96"/>
<rect x="395.30" y="126.05" width="1.6" height="2.45" fill="#1d5a96"/>
<rect x="404.00" y="126.58" width="1.6" height="1.92" fill="#1d5a96"/>
<rect x="406.00" y="126.14" width="2.0" height="2.36" fill="#1d5a96"/>
<rect x="408.40" y="126.58" width="1.3" height="1.92" fill="#1d5a96"/>
<line x1="423.1" y1="128.50" x2="502.7" y2="128.50" stroke="#34608c" stroke-width="1"/>
<rect x="431.00" y="127.70" width="0.8" height="0.80" fill="#1d5a96"/>
<rect x="440.00" y="127.71" width="1.0" height="0.79" fill="#1d5a96"/>
<rect x="442.30" y="127.68" width="1.0" height="0.82" fill="#1d5a96"/>
<rect x="445.20" y="126.55" width="1.4" height="1.95" fill="#1d5a96"/>
<rect x="447.60" y="127.09" width="1.0" height="1.41" fill="#1d5a96"/>
<rect x="449.60" y="125.52" width="1.3" height="2.98" fill="#1d5a96"/>
<rect x="456.30" y="127.21" width="1.2" height="1.29" fill="#1d5a96"/>
<rect x="458.60" y="126.59" width="1.4" height="1.91" fill="#1d5a96"/>
<rect x="460.60" y="126.33" width="1.4" height="2.17" fill="#1d5a96"/>
<rect x="476.20" y="127.56" width="1.0" height="0.94" fill="#1d5a96"/>
<rect x="478.40" y="127.78" width="1.0" height="0.72" fill="#1d5a96"/>
<rect x="480.80" y="126.28" width="1.2" height="2.22" fill="#1d5a96"/>
<rect x="484.20" y="126.78" width="1.5" height="1.72" fill="#1d5a96"/>
<rect x="486.00" y="126.69" width="1.5" height="1.81" fill="#1d5a96"/>
<rect x="494.00" y="126.97" width="0.9" height="1.53" fill="#1d5a96"/>
<path d="M270.60,136.50 L270.60,135.18 L271.81,135.18 L271.81,133.94 L273.02,133.94 L273.02,131.99 L274.23,131.99 L274.23,132.50 L275.44,132.50 L275.44,132.04 L276.65,132.04 L276.65,131.48 L277.86,131.48 L277.86,132.66 L279.07,132.66 L279.07,132.63 L280.28,132.63 L280.28,132.68 L281.49,132.68 L281.49,134.07 L282.70,134.07 L282.70,136.50 Z M289.00,136.50 L289.00,134.81 L290.25,134.81 L290.25,133.48 L291.50,133.48 L291.50,132.97 L292.75,132.97 L292.75,132.52 L294.00,132.52 L294.00,132.58 L295.25,132.58 L295.25,132.59 L296.50,132.59 L296.50,133.14 L297.75,133.14 L297.75,133.42 L299.00,133.42 L299.00,136.50 Z M301.80,136.50 L301.80,133.52 L302.98,133.52 L302.98,133.72 L304.17,133.72 L304.17,130.67 L305.35,130.67 L305.35,130.18 L306.53,130.18 L306.53,130.67 L307.72,130.67 L307.72,131.00 L308.90,131.00 L308.90,131.65 L310.08,131.65 L310.08,131.08 L311.27,131.08 L311.27,131.41 L312.45,131.41 L312.45,132.29 L313.63,132.29 L313.63,132.30 L314.82,132.30 L314.82,132.73 L316.00,132.73 L316.00,136.50 Z " fill="#1d5a96"/>
<line x1="251.6" y1="136.50" x2="330.7" y2="136.50" stroke="#34608c" stroke-width="1"/>
<line x1="337.4" y1="136.50" x2="416.7" y2="136.50" stroke="#34608c" stroke-width="1"/>
<rect x="364.60" y="132.93" width="1.2" height="3.57" fill="#1d5a96"/>
<rect x="366.20" y="134.15" width="1.0" height="2.35" fill="#1d5a96"/>
<rect x="369.40" y="134.59" width="1.3" height="1.91" fill="#1d5a96"/>
<rect x="371.20" y="134.80" width="1.0" height="1.70" fill="#1d5a96"/>
<rect x="374.30" y="133.04" width="1.3" height="3.46" fill="#1d5a96"/>
<rect x="377.60" y="133.45" width="1.2" height="3.05" fill="#1d5a96"/>
<rect x="379.30" y="134.08" width="1.0" height="2.42" fill="#1d5a96"/>
<rect x="382.00" y="134.37" width="1.2" height="2.13" fill="#1d5a96"/>
<rect x="384.40" y="134.23" width="1.1" height="2.27" fill="#1d5a96"/>
<rect x="390.60" y="132.72" width="1.5" height="3.78" fill="#1d5a96"/>
<rect x="392.40" y="133.28" width="1.5" height="3.22" fill="#1d5a96"/>
<rect x="395.30" y="134.14" width="1.6" height="2.36" fill="#1d5a96"/>
<rect x="404.00" y="135.06" width="1.6" height="1.44" fill="#1d5a96"/>
<rect x="406.00" y="134.73" width="2.0" height="1.77" fill="#1d5a96"/>
<rect x="408.40" y="135.00" width="1.3" height="1.50" fill="#1d5a96"/>
<line x1="423.1" y1="136.50" x2="502.7" y2="136.50" stroke="#34608c" stroke-width="1"/>
<rect x="431.00" y="135.43" width="0.8" height="1.07" fill="#1d5a96"/>
<rect x="440.00" y="135.21" width="1.0" height="1.29" fill="#1d5a96"/>
<rect x="442.30" y="135.36" width="1.0" height="1.14" fill="#1d5a96"/>
<rect x="445.20" y="133.84" width="1.4" height="2.66" fill="#1d5a96"/>
<rect x="447.60" y="134.62" width="1.0" height="1.88" fill="#1d5a96"/>
<rect x="449.60" y="132.41" width="1.3" height="4.09" fill="#1d5a96"/>
<rect x="456.30" y="135.19" width="1.2" height="1.31" fill="#1d5a96"/>
<rect x="458.60" y="134.23" width="1.4" height="2.27" fill="#1d5a96"/>
<rect x="460.60" y="133.78" width="1.4" height="2.72" fill="#1d5a96"/>
<rect x="476.20" y="134.80" width="1.0" height="1.70" fill="#1d5a96"/>
<rect x="478.40" y="135.43" width="1.0" height="1.07" fill="#1d5a96"/>
<rect x="480.80" y="133.19" width="1.2" height="3.31" fill="#1d5a96"/>
<rect x="484.20" y="133.94" width="1.5" height="2.56" fill="#1d5a96"/>
<rect x="486.00" y="133.29" width="1.5" height="3.21" fill="#1d5a96"/>
<rect x="494.00" y="134.29" width="0.9" height="2.21" fill="#1d5a96"/>
<path d="M270.60,143.50 L270.60,143.17 L271.81,143.17 L271.81,142.89 L273.02,142.89 L273.02,142.57 L274.23,142.57 L274.23,142.29 L275.44,142.29 L275.44,142.42 L276.65,142.42 L276.65,142.41 L277.86,142.41 L277.86,142.45 L279.07,142.45 L279.07,142.40 L280.28,142.40 L280.28,142.48 L281.49,142.48 L281.49,142.84 L282.70,142.84 L282.70,143.50 Z M289.00,143.50 L289.00,143.06 L290.25,143.06 L290.25,142.69 L291.50,142.69 L291.50,142.57 L292.75,142.57 L292.75,142.42 L294.00,142.42 L294.00,142.51 L295.25,142.51 L295.25,142.41 L296.50,142.41 L296.50,142.38 L297.75,142.38 L297.75,142.54 L299.00,142.54 L299.00,143.50 Z M301.80,143.50 L301.80,142.47 L302.98,142.47 L302.98,142.38 L304.17,142.38 L304.17,141.68 L305.35,141.68 L305.35,141.38 L306.53,141.38 L306.53,141.41 L307.72,141.41 L307.72,141.52 L308.90,141.52 L308.90,141.92 L310.08,141.92 L310.08,142.00 L311.27,142.00 L311.27,142.04 L312.45,142.04 L312.45,142.01 L313.63,142.01 L313.63,142.06 L314.82,142.06 L314.82,142.38 L316.00,142.38 L316.00,143.50 Z " fill="#1d5a96"/>
<line x1="251.6" y1="143.50" x2="330.7" y2="143.50" stroke="#34608c" stroke-width="1"/>
<line x1="337.4" y1="143.50" x2="416.7" y2="143.50" stroke="#34608c" stroke-width="1"/>
<line x1="423.1" y1="143.50" x2="502.7" y2="143.50" stroke="#34608c" stroke-width="1"/>
<path d="M270.60,150.50 L270.60,150.37 L271.81,150.37 L271.81,150.28 L273.02,150.28 L273.02,150.18 L274.23,150.18 L274.23,150.11 L275.44,150.11 L275.44,150.15 L276.65,150.15 L276.65,150.12 L277.86,150.12 L277.86,150.11 L279.07,150.11 L279.07,150.13 L280.28,150.13 L280.28,150.15 L281.49,150.15 L281.49,150.27 L282.70,150.27 L282.70,150.50 Z M289.00,150.50 L289.00,150.36 L290.25,150.36 L290.25,150.28 L291.50,150.28 L291.50,150.23 L292.75,150.23 L292.75,150.21 L294.00,150.21 L294.00,150.19 L295.25,150.19 L295.25,150.19 L296.50,150.19 L296.50,150.25 L297.75,150.25 L297.75,150.24 L299.00,150.24 L299.00,150.50 Z M301.80,150.50 L301.80,150.05 L302.98,150.05 L302.98,149.94 L304.17,149.94 L304.17,149.65 L305.35,149.65 L305.35,149.51 L306.53,149.51 L306.53,149.56 L307.72,149.56 L307.72,149.61 L308.90,149.61 L308.90,149.61 L310.08,149.61 L310.08,149.74 L311.27,149.74 L311.27,149.68 L312.45,149.68 L312.45,149.69 L313.63,149.69 L313.63,149.83 L314.82,149.83 L314.82,149.94 L316.00,149.94 L316.00,150.50 Z " fill="#1d5a96"/>
<line x1="251.6" y1="150.50" x2="330.7" y2="150.50" stroke="#34608c" stroke-width="1"/>
<line x1="337.4" y1="150.50" x2="416.7" y2="150.50" stroke="#34608c" stroke-width="1"/>
<line x1="423.1" y1="150.50" x2="502.7" y2="150.50" stroke="#34608c" stroke-width="1"/>
<path d="M270.60,158.50 L270.60,158.07 L271.81,158.07 L271.81,157.68 L273.02,157.68 L273.02,157.12 L274.23,157.12 L274.23,156.97 L275.44,156.97 L275.44,157.24 L276.65,157.24 L276.65,156.97 L277.86,156.97 L277.86,157.23 L279.07,157.23 L279.07,156.99 L280.28,156.99 L280.28,157.07 L281.49,157.07 L281.49,157.54 L282.70,157.54 L282.70,158.50 Z M289.00,158.50 L289.00,157.76 L290.25,157.76 L290.25,157.26 L291.50,157.26 L291.50,157.07 L292.75,157.07 L292.75,156.86 L294.00,156.86 L294.00,156.81 L295.25,156.81 L295.25,156.55 L296.50,156.55 L296.50,156.70 L297.75,156.70 L297.75,157.01 L299.00,157.01 L299.00,158.50 Z M301.80,158.50 L301.80,157.12 L302.98,157.12 L302.98,156.80 L304.17,156.80 L304.17,155.56 L305.35,155.56 L305.35,155.58 L306.53,155.58 L306.53,155.69 L307.72,155.69 L307.72,155.91 L308.90,155.91 L308.90,156.07 L310.08,156.07 L310.08,156.32 L311.27,156.32 L311.27,156.07 L312.45,156.07 L312.45,156.33 L313.63,156.33 L313.63,156.30 L314.82,156.30 L314.82,156.63 L316.00,156.63 L316.00,158.50 Z " fill="#1d5a96"/>
<line x1="251.6" y1="158.50" x2="330.7" y2="158.50" stroke="#34608c" stroke-width="1"/>
<line x1="337.4" y1="158.50" x2="416.7" y2="158.50" stroke="#34608c" stroke-width="1"/>
<line x1="423.1" y1="158.50" x2="502.7" y2="158.50" stroke="#34608c" stroke-width="1"/>
<path d="M301.80,165.50 L301.80,165.41 L302.98,165.41 L302.98,165.40 L304.17,165.40 L304.17,165.30 L305.35,165.30 L305.35,165.32 L306.53,165.32 L306.53,165.28 L307.72,165.28 L307.72,165.32 L308.90,165.32 L308.90,165.35 L310.08,165.35 L310.08,165.33 L311.27,165.33 L311.27,165.35 L312.45,165.35 L312.45,165.37 L313.63,165.37 L313.63,165.36 L314.82,165.36 L314.82,165.38 L316.00,165.38 L316.00,165.50 Z " fill="#1d5a96"/>
<line x1="251.6" y1="165.50" x2="330.7" y2="165.50" stroke="#34608c" stroke-width="1"/>
<line x1="337.4" y1="165.50" x2="416.7" y2="165.50" stroke="#34608c" stroke-width="1"/>
<line x1="423.1" y1="165.50" x2="502.7" y2="165.50" stroke="#34608c" stroke-width="1"/>
<path d="M270.60,172.50 L270.60,172.23 L271.81,172.23 L271.81,171.99 L273.02,171.99 L273.02,171.70 L274.23,171.70 L274.23,171.52 L275.44,171.52 L275.44,171.55 L276.65,171.55 L276.65,171.55 L277.86,171.55 L277.86,171.63 L279.07,171.63 L279.07,171.55 L280.28,171.55 L280.28,171.71 L281.49,171.71 L281.49,171.92 L282.70,171.92 L282.70,172.50 Z M289.00,172.50 L289.00,171.36 L290.25,171.36 L290.25,170.76 L291.50,170.76 L291.50,170.22 L292.75,170.22 L292.75,169.95 L294.00,169.95 L294.00,169.89 L295.25,169.89 L295.25,169.95 L296.50,169.95 L296.50,170.24 L297.75,170.24 L297.75,170.37 L299.00,170.37 L299.00,172.50 Z M301.80,172.50 L301.80,170.76 L302.98,170.76 L302.98,170.77 L304.17,170.77 L304.17,169.58 L305.35,169.58 L305.35,169.24 L306.53,169.24 L306.53,169.33 L307.72,169.33 L307.72,169.48 L308.90,169.48 L308.90,169.79 L310.08,169.79 L310.08,169.78 L311.27,169.78 L311.27,170.16 L312.45,170.16 L312.45,170.02 L313.63,170.02 L313.63,169.77 L314.82,169.77 L314.82,170.71 L316.00,170.71 L316.00,172.50 Z " fill="#1d5a96"/>
<line x1="251.6" y1="172.50" x2="330.7" y2="172.50" stroke="#34608c" stroke-width="1"/>
<line x1="337.4" y1="172.50" x2="416.7" y2="172.50" stroke="#34608c" stroke-width="1"/>
<line x1="423.1" y1="172.50" x2="502.7" y2="172.50" stroke="#34608c" stroke-width="1"/>
<path d="M270.60,179.50 L270.60,178.45 L271.81,178.45 L271.81,177.41 L273.02,177.41 L273.02,176.31 L274.23,176.31 L274.23,175.92 L275.44,175.92 L275.44,176.53 L276.65,176.53 L276.65,176.11 L277.86,176.11 L277.86,176.02 L279.07,176.02 L279.07,176.27 L280.28,176.27 L280.28,176.19 L281.49,176.19 L281.49,177.24 L282.70,177.24 L282.70,179.50 Z M289.00,179.50 L289.00,177.76 L290.25,177.76 L290.25,177.02 L291.50,177.02 L291.50,176.63 L292.75,176.63 L292.75,176.50 L294.00,176.50 L294.00,176.12 L295.25,176.12 L295.25,175.98 L296.50,175.98 L296.50,176.44 L297.75,176.44 L297.75,176.67 L299.00,176.67 L299.00,179.50 Z M301.80,179.50 L301.80,176.86 L302.98,176.86 L302.98,176.43 L304.17,176.43 L304.17,174.37 L305.35,174.37 L305.35,174.47 L306.53,174.47 L306.53,174.13 L307.72,174.13 L307.72,173.96 L308.90,173.96 L308.90,175.35 L310.08,175.35 L310.08,174.93 L311.27,174.93 L311.27,175.03 L312.45,175.03 L312.45,175.86 L313.63,175.86 L313.63,175.49 L314.82,175.49 L314.82,176.30 L316.00,176.30 L316.00,179.50 Z " fill="#1d5a96"/>
<line x1="251.6" y1="179.50" x2="330.7" y2="179.50" stroke="#34608c" stroke-width="1"/>
<line x1="337.4" y1="179.50" x2="416.7" y2="179.50" stroke="#34608c" stroke-width="1"/>
<line x1="423.1" y1="179.50" x2="502.7" y2="179.50" stroke="#34608c" stroke-width="1"/>
<path d="M270.60,187.50 L270.60,186.82 L271.81,186.82 L271.81,186.02 L273.02,186.02 L273.02,185.44 L274.23,185.44 L274.23,185.24 L275.44,185.24 L275.44,185.37 L276.65,185.37 L276.65,185.08 L277.86,185.08 L277.86,185.51 L279.07,185.51 L279.07,184.98 L280.28,184.98 L280.28,185.50 L281.49,185.50 L281.49,185.88 L282.70,185.88 L282.70,187.50 Z M289.00,187.50 L289.00,186.35 L290.25,186.35 L290.25,185.51 L291.50,185.51 L291.50,185.39 L292.75,185.39 L292.75,184.60 L294.00,184.60 L294.00,184.96 L295.25,184.96 L295.25,184.87 L296.50,184.87 L296.50,184.63 L297.75,184.63 L297.75,185.27 L299.00,185.27 L299.00,187.50 Z M301.80,187.50 L301.80,184.94 L302.98,184.94 L302.98,184.43 L304.17,184.43 L304.17,182.22 L305.35,182.22 L305.35,182.19 L306.53,182.19 L306.53,182.19 L307.72,182.19 L307.72,182.46 L308.90,182.46 L308.90,183.27 L310.08,183.27 L310.08,182.75 L311.27,182.75 L311.27,183.89 L312.45,183.89 L312.45,183.34 L313.63,183.34 L313.63,183.69 L314.82,183.69 L314.82,184.55 L316.00,184.55 L316.00,187.50 Z " fill="#1d5a96"/>
<line x1="251.6" y1="187.50" x2="330.7" y2="187.50" stroke="#34608c" stroke-width="1"/>
<line x1="337.4" y1="187.50" x2="416.7" y2="187.50" stroke="#34608c" stroke-width="1"/>
<rect x="364.60" y="182.98" width="1.2" height="4.52" fill="#1d5a96"/>
<rect x="366.20" y="184.15" width="1.0" height="3.35" fill="#1d5a96"/>
<rect x="369.40" y="185.03" width="1.3" height="2.47" fill="#1d5a96"/>
<rect x="371.20" y="185.69" width="1.0" height="1.81" fill="#1d5a96"/>
<rect x="374.30" y="182.66" width="1.3" height="4.84" fill="#1d5a96"/>
<rect x="377.60" y="182.93" width="1.2" height="4.57" fill="#1d5a96"/>
<rect x="379.30" y="184.66" width="1.0" height="2.84" fill="#1d5a96"/>
<rect x="382.00" y="184.37" width="1.2" height="3.13" fill="#1d5a96"/>
<rect x="384.40" y="183.77" width="1.1" height="3.73" fill="#1d5a96"/>
<rect x="390.60" y="181.82" width="1.5" height="5.68" fill="#1d5a96"/>
<rect x="392.40" y="182.98" width="1.5" height="4.52" fill="#1d5a96"/>
<rect x="395.30" y="184.68" width="1.6" height="2.82" fill="#1d5a96"/>
<rect x="404.00" y="185.80" width="1.6" height="1.70" fill="#1d5a96"/>
<rect x="406.00" y="184.82" width="2.0" height="2.68" fill="#1d5a96"/>
<rect x="408.40" y="185.12" width="1.3" height="2.38" fill="#1d5a96"/>
<line x1="423.1" y1="187.50" x2="502.7" y2="187.50" stroke="#34608c" stroke-width="1"/>
<rect x="431.00" y="186.44" width="0.8" height="1.06" fill="#1d5a96"/>
<rect x="440.00" y="185.87" width="1.0" height="1.63" fill="#1d5a96"/>
<rect x="442.30" y="185.60" width="1.0" height="1.90" fill="#1d5a96"/>
<rect x="445.20" y="183.97" width="1.4" height="3.53" fill="#1d5a96"/>
<rect x="447.60" y="184.84" width="1.0" height="2.66" fill="#1d5a96"/>
<rect x="449.60" y="183.42" width="1.3" height="4.08" fill="#1d5a96"/>
<rect x="456.30" y="185.59" width="1.2" height="1.91" fill="#1d5a96"/>
<rect x="458.60" y="183.81" width="1.4" height="3.69" fill="#1d5a96"/>
<rect x="460.60" y="183.03" width="1.4" height="4.47" fill="#1d5a96"/>
<rect x="476.20" y="185.94" width="1.0" height="1.56" fill="#1d5a96"/>
<rect x="478.40" y="186.31" width="1.0" height="1.19" fill="#1d5a96"/>
<rect x="480.80" y="183.24" width="1.2" height="4.26" fill="#1d5a96"/>
<rect x="484.20" y="184.94" width="1.5" height="2.56" fill="#1d5a96"/>
<rect x="486.00" y="183.70" width="1.5" height="3.80" fill="#1d5a96"/>
<rect x="494.00" y="184.48" width="0.9" height="3.02" fill="#1d5a96"/>
<path d="M270.60,194.50 L270.60,193.54 L271.81,193.54 L271.81,193.04 L273.02,193.04 L273.02,191.68 L274.23,191.68 L274.23,191.47 L275.44,191.47 L275.44,191.44 L276.65,191.44 L276.65,191.62 L277.86,191.62 L277.86,191.83 L279.07,191.83 L279.07,191.81 L280.28,191.81 L280.28,191.76 L281.49,191.76 L281.49,192.60 L282.70,192.60 L282.70,194.50 Z M289.00,194.50 L289.00,193.25 L290.25,193.25 L290.25,192.71 L291.50,192.71 L291.50,192.30 L292.75,192.30 L292.75,191.98 L294.00,191.98 L294.00,191.82 L295.25,191.82 L295.25,191.86 L296.50,191.86 L296.50,192.39 L297.75,192.39 L297.75,192.62 L299.00,192.62 L299.00,194.50 Z M301.80,194.50 L301.80,191.81 L302.98,191.81 L302.98,191.61 L304.17,191.61 L304.17,189.65 L305.35,189.65 L305.35,189.95 L306.53,189.95 L306.53,189.30 L307.72,189.30 L307.72,190.01 L308.90,190.01 L308.90,190.68 L310.08,190.68 L310.08,190.09 L311.27,190.09 L311.27,190.75 L312.45,190.75 L312.45,190.92 L313.63,190.92 L313.63,191.13 L314.82,191.13 L314.82,191.71 L316.00,191.71 L316.00,194.50 Z " fill="#1d5a96"/>
<line x1="251.6" y1="194.50" x2="330.7" y2="194.50" stroke="#34608c" stroke-width="1"/>
<line x1="337.4" y1="194.50" x2="416.7" y2="194.50" stroke="#34608c" stroke-width="1"/>
<rect x="364.60" y="191.55" width="1.2" height="2.95" fill="#1d5a96"/>
<rect x="366.20" y="192.26" width="1.0" height="2.24" fill="#1d5a96"/>
<rect x="369.40" y="192.42" width="1.3" height="2.08" fill="#1d5a96"/>
<rect x="371.20" y="192.94" width="1.0" height="1.56" fill="#1d5a96"/>
<rect x="374.30" y="191.31" width="1.3" height="3.19" fill="#1d5a96"/>
<rect x="377.60" y="191.68" width="1.2" height="2.82" fill="#1d5a96"/>
<rect x="379.30" y="192.19" width="1.0" height="2.31" fill="#1d5a96"/>
<rect x="382.00" y="192.50" width="1.2" height="2.00" fill="#1d5a96"/>
<rect x="384.40" y="192.45" width="1.1" height="2.05" fill="#1d5a96"/>
<rect x="390.60" y="191.03" width="1.5" height="3.47" fill="#1d5a96"/>
<rect x="392.40" y="191.21" width="1.5" height="3.29" fill="#1d5a96"/>
<rect x="395.30" y="192.74" width="1.6" height="1.76" fill="#1d5a96"/>
<rect x="404.00" y="193.15" width="1.6" height="1.35" fill="#1d5a96"/>
<rect x="406.00" y="192.78" width="2.0" height="1.72" fill="#1d5a96"/>
<rect x="408.40" y="193.20" width="1.3" height="1.30" fill="#1d5a96"/>
<line x1="423.1" y1="194.50" x2="502.7" y2="194.50" stroke="#34608c" stroke-width="1"/>
<rect x="431.00" y="193.18" width="0.8" height="1.32" fill="#1d5a96"/>
<rect x="440.00" y="193.20" width="1.0" height="1.30" fill="#1d5a96"/>
<rect x="442.30" y="192.85" width="1.0" height="1.65" fill="#1d5a96"/>
<rect x="445.20" y="191.64" width="1.4" height="2.86" fill="#1d5a96"/>
<rect x="447.60" y="191.54" width="1.0" height="2.96" fill="#1d5a96"/>
<rect x="449.60" y="190.78" width="1.3" height="3.72" fill="#1d5a96"/>
<rect x="456.30" y="192.98" width="1.2" height="1.52" fill="#1d5a96"/>
<rect x="458.60" y="190.92" width="1.4" height="3.58" fill="#1d5a96"/>
<rect x="460.60" y="190.17" width="1.4" height="4.33" fill="#1d5a96"/>
<rect x="476.20" y="192.94" width="1.0" height="1.56" fill="#1d5a96"/>
<rect x="478.40" y="193.18" width="1.0" height="1.32" fill="#1d5a96"/>
<rect x="480.80" y="190.77" width="1.2" height="3.73" fill="#1d5a96"/>
<rect x="484.20" y="191.92" width="1.5" height="2.58" fill="#1d5a96"/>
<rect x="486.00" y="190.84" width="1.5" height="3.66" fill="#1d5a96"/>
<rect x="494.00" y="191.44" width="0.9" height="3.06" fill="#1d5a96"/>
<path d="M270.60,201.50 L270.60,201.18 L271.81,201.18 L271.81,200.95 L273.02,200.95 L273.02,200.64 L274.23,200.64 L274.23,200.49 L275.44,200.49 L275.44,200.59 L276.65,200.59 L276.65,200.45 L277.86,200.45 L277.86,200.49 L279.07,200.49 L279.07,200.60 L280.28,200.60 L280.28,200.62 L281.49,200.62 L281.49,200.86 L282.70,200.86 L282.70,201.50 Z M289.00,201.50 L289.00,200.78 L290.25,200.78 L290.25,200.11 L291.50,200.11 L291.50,200.00 L292.75,200.00 L292.75,199.90 L294.00,199.90 L294.00,199.55 L295.25,199.55 L295.25,199.69 L296.50,199.69 L296.50,199.88 L297.75,199.88 L297.75,200.02 L299.00,200.02 L299.00,201.50 Z M301.80,201.50 L301.80,199.58 L302.98,199.58 L302.98,199.55 L304.17,199.55 L304.17,197.97 L305.35,197.97 L305.35,197.64 L306.53,197.64 L306.53,197.76 L307.72,197.76 L307.72,198.26 L308.90,198.26 L308.90,198.62 L310.08,198.62 L310.08,198.22 L311.27,198.22 L311.27,198.69 L312.45,198.69 L312.45,198.54 L313.63,198.54 L313.63,198.74 L314.82,198.74 L314.82,199.31 L316.00,199.31 L316.00,201.50 Z " fill="#1d5a96"/>
<line x1="251.6" y1="201.50" x2="330.7" y2="201.50" stroke="#34608c" stroke-width="1"/>
<line x1="337.4" y1="201.50" x2="416.7" y2="201.50" stroke="#34608c" stroke-width="1"/>
<rect x="364.60" y="198.63" width="1.2" height="2.87" fill="#1d5a96"/>
<rect x="366.20" y="199.71" width="1.0" height="1.79" fill="#1d5a96"/>
<rect x="369.40" y="200.38" width="1.3" height="1.12" fill="#1d5a96"/>
<rect x="371.20" y="200.53" width="1.0" height="0.97" fill="#1d5a96"/>
<rect x="374.30" y="199.08" width="1.3" height="2.42" fill="#1d5a96"/>
<rect x="377.60" y="199.05" width="1.2" height="2.45" fill="#1d5a96"/>
<rect x="379.30" y="200.02" width="1.0" height="1.48" fill="#1d5a96"/>
<rect x="382.00" y="199.82" width="1.2" height="1.68" fill="#1d5a96"/>
<rect x="384.40" y="199.90" width="1.1" height="1.60" fill="#1d5a96"/>
<rect x="390.60" y="198.72" width="1.5" height="2.78" fill="#1d5a96"/>
<rect x="392.40" y="199.13" width="1.5" height="2.37" fill="#1d5a96"/>
<rect x="395.30" y="199.92" width="1.6" height="1.58" fill="#1d5a96"/>
<rect x="404.00" y="200.50" width="1.6" height="1.00" fill="#1d5a96"/>
<rect x="406.00" y="200.28" width="2.0" height="1.22" fill="#1d5a96"/>
<rect x="408.40" y="200.38" width="1.3" height="1.12" fill="#1d5a96"/>
<line x1="423.1" y1="201.50" x2="502.7" y2="201.50" stroke="#34608c" stroke-width="1"/>
<rect x="431.00" y="200.61" width="0.8" height="0.89" fill="#1d5a96"/>
<rect x="440.00" y="200.42" width="1.0" height="1.08" fill="#1d5a96"/>
<rect x="442.30" y="200.42" width="1.0" height="1.08" fill="#1d5a96"/>
<rect x="445.20" y="199.01" width="1.4" height="2.49" fill="#1d5a96"/>
<rect x="447.60" y="199.22" width="1.0" height="2.28" fill="#1d5a96"/>
<rect x="449.60" y="197.77" width="1.3" height="3.73" fill="#1d5a96"/>
<rect x="456.30" y="200.32" width="1.2" height="1.18" fill="#1d5a96"/>
<rect x="458.60" y="198.72" width="1.4" height="2.78" fill="#1d5a96"/>
<rect x="460.60" y="197.67" width="1.4" height="3.83" fill="#1d5a96"/>
<rect x="476.20" y="199.88" width="1.0" height="1.62" fill="#1d5a96"/>
<rect x="478.40" y="200.49" width="1.0" height="1.01" fill="#1d5a96"/>
<rect x="480.80" y="198.41" width="1.2" height="3.09" fill="#1d5a96"/>
<rect x="484.20" y="199.73" width="1.5" height="1.77" fill="#1d5a96"/>
<rect x="486.00" y="198.52" width="1.5" height="2.98" fill="#1d5a96"/>
<rect x="494.00" y="199.92" width="0.9" height="1.58" fill="#1d5a96"/>
<path d="M270.60,208.50 L270.60,207.35 L271.81,207.35 L271.81,206.58 L273.02,206.58 L273.02,205.70 L274.23,205.70 L274.23,204.89 L275.44,204.89 L275.44,205.03 L276.65,205.03 L276.65,205.12 L277.86,205.12 L277.86,205.38 L279.07,205.38 L279.07,205.38 L280.28,205.38 L280.28,205.63 L281.49,205.63 L281.49,206.48 L282.70,206.48 L282.70,208.50 Z M289.00,208.50 L289.00,206.97 L290.25,206.97 L290.25,206.03 L291.50,206.03 L291.50,205.82 L292.75,205.82 L292.75,205.25 L294.00,205.25 L294.00,204.70 L295.25,204.70 L295.25,205.21 L296.50,205.21 L296.50,205.25 L297.75,205.25 L297.75,205.64 L299.00,205.64 L299.00,208.50 Z M301.80,208.50 L301.80,205.90 L302.98,205.90 L302.98,205.97 L304.17,205.97 L304.17,203.77 L305.35,203.77 L305.35,203.29 L306.53,203.29 L306.53,204.08 L307.72,204.08 L307.72,204.19 L308.90,204.19 L308.90,204.04 L310.08,204.04 L310.08,204.47 L311.27,204.47 L311.27,204.69 L312.45,204.69 L312.45,205.15 L313.63,205.15 L313.63,204.89 L314.82,204.89 L314.82,205.29 L316.00,205.29 L316.00,208.50 Z " fill="#1d5a96"/>
<line x1="251.6" y1="208.50" x2="330.7" y2="208.50" stroke="#34608c" stroke-width="1"/>
<line x1="337.4" y1="208.50" x2="416.7" y2="208.50" stroke="#34608c" stroke-width="1"/>
<rect x="364.60" y="203.77" width="1.2" height="4.73" fill="#1d5a96"/>
<rect x="366.20" y="205.08" width="1.0" height="3.42" fill="#1d5a96"/>
<rect x="369.40" y="206.22" width="1.3" height="2.28" fill="#1d5a96"/>
<rect x="371.20" y="206.48" width="1.0" height="2.02" fill="#1d5a96"/>
<rect x="374.30" y="204.38" width="1.3" height="4.12" fill="#1d5a96"/>
<rect x="377.60" y="204.89" width="1.2" height="3.61" fill="#1d5a96"/>
<rect x="379.30" y="205.88" width="1.0" height="2.62" fill="#1d5a96"/>
<rect x="382.00" y="205.77" width="1.2" height="2.73" fill="#1d5a96"/>
<rect x="384.40" y="205.35" width="1.1" height="3.15" fill="#1d5a96"/>
<rect x="390.60" y="203.62" width="1.5" height="4.88" fill="#1d5a96"/>
<rect x="392.40" y="204.59" width="1.5" height="3.91" fill="#1d5a96"/>
<rect x="395.30" y="205.77" width="1.6" height="2.73" fill="#1d5a96"/>
<rect x="404.00" y="206.93" width="1.6" height="1.57" fill="#1d5a96"/>
<rect x="406.00" y="206.24" width="2.0" height="2.26" fill="#1d5a96"/>
<rect x="408.40" y="206.53" width="1.3" height="1.97" fill="#1d5a96"/>
<line x1="423.1" y1="208.50" x2="502.7" y2="208.50" stroke="#34608c" stroke-width="1"/>
<rect x="431.00" y="207.71" width="0.8" height="0.79" fill="#1d5a96"/>
<rect x="440.00" y="207.46" width="1.0" height="1.04" fill="#1d5a96"/>
<rect x="442.30" y="207.12" width="1.0" height="1.38" fill="#1d5a96"/>
<rect x="445.20" y="205.44" width="1.4" height="3.06" fill="#1d5a96"/>
<rect x="447.60" y="206.68" width="1.0" height="1.82" fill="#1d5a96"/>
<rect x="449.60" y="205.32" width="1.3" height="3.18" fill="#1d5a96"/>
<rect x="456.30" y="206.92" width="1.2" height="1.58" fill="#1d5a96"/>
<rect x="458.60" y="206.14" width="1.4" height="2.36" fill="#1d5a96"/>
<rect x="460.60" y="205.68" width="1.4" height="2.82" fill="#1d5a96"/>
<rect x="476.20" y="207.34" width="1.0" height="1.16" fill="#1d5a96"/>
<rect x="478.40" y="207.37" width="1.0" height="1.13" fill="#1d5a96"/>
<rect x="480.80" y="204.85" width="1.2" height="3.65" fill="#1d5a96"/>
<rect x="484.20" y="206.67" width="1.5" height="1.83" fill="#1d5a96"/>
<rect x="486.00" y="205.51" width="1.5" height="2.99" fill="#1d5a96"/>
<rect x="494.00" y="206.88" width="0.9" height="1.62" fill="#1d5a96"/>
<path d="M270.60,215.50 L270.60,214.25 L271.81,214.25 L271.81,213.18 L273.02,213.18 L273.02,211.49 L274.23,211.49 L274.23,211.18 L275.44,211.18 L275.44,211.80 L276.65,211.80 L276.65,211.35 L277.86,211.35 L277.86,211.92 L279.07,211.92 L279.07,211.48 L280.28,211.48 L280.28,212.29 L281.49,212.29 L281.49,212.93 L282.70,212.93 L282.70,215.50 Z M289.00,215.50 L289.00,213.80 L290.25,213.80 L290.25,212.40 L291.50,212.40 L291.50,211.81 L292.75,211.81 L292.75,211.54 L294.00,211.54 L294.00,211.73 L295.25,211.73 L295.25,211.57 L296.50,211.57 L296.50,212.00 L297.75,212.00 L297.75,212.03 L299.00,212.03 L299.00,215.50 Z M301.80,215.50 L301.80,213.01 L302.98,213.01 L302.98,212.68 L304.17,212.68 L304.17,211.33 L305.35,211.33 L305.35,210.65 L306.53,210.65 L306.53,211.09 L307.72,211.09 L307.72,210.67 L308.90,210.67 L308.90,212.00 L310.08,212.00 L310.08,211.87 L311.27,211.87 L311.27,211.39 L312.45,211.39 L312.45,212.24 L313.63,212.24 L313.63,211.76 L314.82,211.76 L314.82,212.67 L316.00,212.67 L316.00,215.50 Z " fill="#1d5a96"/>
<line x1="251.6" y1="215.50" x2="330.7" y2="215.50" stroke="#34608c" stroke-width="1"/>
<line x1="337.4" y1="215.50" x2="416.7" y2="215.50" stroke="#34608c" stroke-width="1"/>
<rect x="364.60" y="210.48" width="1.2" height="5.02" fill="#1d5a96"/>
<rect x="366.20" y="211.83" width="1.0" height="3.67" fill="#1d5a96"/>
<rect x="369.40" y="213.15" width="1.3" height="2.35" fill="#1d5a96"/>
<rect x="371.20" y="213.19" width="1.0" height="2.31" fill="#1d5a96"/>
<rect x="374.30" y="211.07" width="1.3" height="4.43" fill="#1d5a96"/>
<rect x="377.60" y="210.87" width="1.2" height="4.63" fill="#1d5a96"/>
<rect x="379.30" y="212.85" width="1.0" height="2.65" fill="#1d5a96"/>
<rect x="382.00" y="212.64" width="1.2" height="2.86" fill="#1d5a96"/>
<rect x="384.40" y="212.41" width="1.1" height="3.09" fill="#1d5a96"/>
<rect x="390.60" y="211.11" width="1.5" height="4.39" fill="#1d5a96"/>
<rect x="392.40" y="211.77" width="1.5" height="3.73" fill="#1d5a96"/>
<rect x="395.30" y="212.67" width="1.6" height="2.83" fill="#1d5a96"/>
<rect x="404.00" y="213.42" width="1.6" height="2.08" fill="#1d5a96"/>
<rect x="406.00" y="213.22" width="2.0" height="2.28" fill="#1d5a96"/>
<rect x="408.40" y="213.42" width="1.3" height="2.08" fill="#1d5a96"/>
<line x1="423.1" y1="215.50" x2="502.7" y2="215.50" stroke="#34608c" stroke-width="1"/>
<rect x="431.00" y="214.02" width="0.8" height="1.48" fill="#1d5a96"/>
<rect x="440.00" y="213.46" width="1.0" height="2.04" fill="#1d5a96"/>
<rect x="442.30" y="213.25" width="1.0" height="2.25" fill="#1d5a96"/>
<rect x="445.20" y="211.32" width="1.4" height="4.18" fill="#1d5a96"/>
<rect x="447.60" y="211.36" width="1.0" height="4.14" fill="#1d5a96"/>
<rect x="449.60" y="209.08" width="1.3" height="6.42" fill="#1d5a96"/>
<rect x="456.30" y="213.64" width="1.2" height="1.86" fill="#1d5a96"/>
<rect x="458.60" y="211.66" width="1.4" height="3.84" fill="#1d5a96"/>
<rect x="460.60" y="209.08" width="1.4" height="6.42" fill="#1d5a96"/>
<rect x="476.20" y="212.89" width="1.0" height="2.61" fill="#1d5a96"/>
<rect x="478.40" y="213.86" width="1.0" height="1.64" fill="#1d5a96"/>
<rect x="480.80" y="210.22" width="1.2" height="5.28" fill="#1d5a96"/>
<rect x="484.20" y="211.80" width="1.5" height="3.70" fill="#1d5a96"/>
<rect x="486.00" y="210.68" width="1.5" height="4.82" fill="#1d5a96"/>
<rect x="494.00" y="212.55" width="0.9" height="2.95" fill="#1d5a96"/>
</g>
<g id="C">
<text x="6.60" y="241.50" font-size="11.2" text-anchor="start" fill="#231f20" font-weight="bold" stroke="#231f20" stroke-width="0.35">C</text>
<line x1="52.8" y1="249.6" x2="52.8" y2="373.5" stroke="#231f20" stroke-width="1.1"/>
<line x1="52.3" y1="373.5" x2="177.6" y2="373.5" stroke="#231f20" stroke-width="1.1"/>
<line x1="50.4" y1="251.00" x2="52.8" y2="251.00" stroke="#231f20" stroke-width="1"/>
<text x="37.0" y="253.70" font-size="7.6" text-anchor="end" fill="#231f20">10</text>
<rect x="39.5" y="248.50" width="2.6" height="0.65" fill="#231f20"/>
<text x="42.6" y="250.50" font-size="5.3" fill="#231f20" stroke="#231f20" stroke-width="0.1">20</text>
<line x1="50.4" y1="281.50" x2="52.8" y2="281.50" stroke="#231f20" stroke-width="1"/>
<text x="37.0" y="284.20" font-size="7.6" text-anchor="end" fill="#231f20">10</text>
<rect x="39.5" y="279.00" width="2.6" height="0.65" fill="#231f20"/>
<text x="42.6" y="281.00" font-size="5.3" fill="#231f20" stroke="#231f20" stroke-width="0.1">15</text>
<line x1="50.4" y1="312.00" x2="52.8" y2="312.00" stroke="#231f20" stroke-width="1"/>
<text x="37.0" y="314.70" font-size="7.6" text-anchor="end" fill="#231f20">10</text>
<rect x="39.5" y="309.50" width="2.6" height="0.65" fill="#231f20"/>
<text x="42.6" y="311.50" font-size="5.3" fill="#231f20" stroke="#231f20" stroke-width="0.1">10</text>
<line x1="50.4" y1="342.50" x2="52.8" y2="342.50" stroke="#231f20" stroke-width="1"/>
<text x="37.0" y="345.20" font-size="7.6" text-anchor="end" fill="#231f20">10</text>
<rect x="39.5" y="340.00" width="2.6" height="0.65" fill="#231f20"/>
<text x="42.6" y="342.00" font-size="5.3" fill="#231f20" stroke="#231f20" stroke-width="0.1">5</text>
<line x1="50.4" y1="373.00" x2="52.8" y2="373.00" stroke="#231f20" stroke-width="1"/>
<text x="37.0" y="375.70" font-size="7.6" text-anchor="end" fill="#231f20">10</text>
<text x="38.6" y="372.50" font-size="5.3" fill="#231f20" stroke="#231f20" stroke-width="0.1">0</text>
<line x1="53.50" y1="373.5" x2="53.50" y2="375.8" stroke="#231f20" stroke-width="1"/>
<text x="53.50" y="386.90" font-size="7.9" text-anchor="middle" fill="#231f20" stroke="#231f20" stroke-width="0.1" >−10</text>
<line x1="83.95" y1="373.5" x2="83.95" y2="375.8" stroke="#231f20" stroke-width="1"/>
<text x="83.95" y="386.90" font-size="7.9" text-anchor="middle" fill="#231f20" stroke="#231f20" stroke-width="0.1" >−5</text>
<line x1="114.40" y1="373.5" x2="114.40" y2="375.8" stroke="#231f20" stroke-width="1"/>
<text x="114.40" y="386.90" font-size="7.9" text-anchor="middle" fill="#231f20" stroke="#231f20" stroke-width="0.1" >0</text>
<line x1="144.85" y1="373.5" x2="144.85" y2="375.8" stroke="#231f20" stroke-width="1"/>
<text x="144.85" y="386.90" font-size="7.9" text-anchor="middle" fill="#231f20" stroke="#231f20" stroke-width="0.1" >5</text>
<line x1="175.30" y1="373.5" x2="175.30" y2="375.8" stroke="#231f20" stroke-width="1"/>
<text x="175.30" y="386.90" font-size="7.9" text-anchor="middle" fill="#231f20" stroke="#231f20" stroke-width="0.1" >10</text>
<text transform="translate(115,400.2) scale(0.745,1)" font-size="8.6" text-anchor="middle" fill="#231f20" stroke="#231f20" stroke-width="0.28">MI RP vs nonRP (log<tspan font-size="6" dy="1.5">2</tspan><tspan dy="-1.5"> fold change)</tspan></text>
<text transform="translate(22.7,311.1) rotate(-90) scale(0.735,1)" font-size="8.6" text-anchor="middle" fill="#231f20" stroke="#231f20" stroke-width="0.28">q-value</text>
<circle cx="133.87" cy="366.29" r="0.95" fill="#475b72"/>
<circle cx="141.57" cy="362.71" r="0.95" fill="#475b72"/>
<circle cx="130.99" cy="358.62" r="0.95" fill="#475b72"/>
<circle cx="135.66" cy="369.21" r="0.95" fill="#475b72"/>
<circle cx="143.55" cy="370.74" r="0.95" fill="#475b72"/>
<circle cx="138.98" cy="359.92" r="0.95" fill="#475b72"/>
<circle cx="139.66" cy="351.97" r="0.95" fill="#475b72"/>
<circle cx="131.98" cy="371.88" r="0.95" fill="#475b72"/>
<circle cx="121.34" cy="371.05" r="0.95" fill="#475b72"/>
<circle cx="121.49" cy="366.22" r="0.95" fill="#475b72"/>
<circle cx="133.76" cy="363.97" r="0.95" fill="#475b72"/>
<circle cx="134.13" cy="368.82" r="0.95" fill="#475b72"/>
<circle cx="136.60" cy="363.74" r="0.95" fill="#475b72"/>
<circle cx="135.25" cy="354.07" r="0.95" fill="#475b72"/>
<circle cx="141.09" cy="357.01" r="0.95" fill="#475b72"/>
<circle cx="126.45" cy="361.80" r="0.95" fill="#475b72"/>
<circle cx="129.92" cy="371.85" r="0.95" fill="#475b72"/>
<circle cx="127.25" cy="363.69" r="0.95" fill="#475b72"/>
<circle cx="135.16" cy="366.49" r="0.95" fill="#475b72"/>
<circle cx="133.92" cy="362.39" r="0.95" fill="#475b72"/>
<circle cx="122.42" cy="368.64" r="0.95" fill="#475b72"/>
<circle cx="142.19" cy="365.72" r="0.95" fill="#475b72"/>
<circle cx="133.86" cy="369.27" r="0.95" fill="#475b72"/>
<circle cx="137.62" cy="354.00" r="0.95" fill="#475b72"/>
<circle cx="130.55" cy="365.09" r="0.95" fill="#475b72"/>
<circle cx="139.72" cy="371.59" r="0.95" fill="#475b72"/>
<circle cx="141.14" cy="370.91" r="0.95" fill="#475b72"/>
<circle cx="137.72" cy="361.40" r="0.95" fill="#475b72"/>
<circle cx="127.28" cy="359.84" r="0.95" fill="#475b72"/>
<circle cx="136.63" cy="365.39" r="0.95" fill="#475b72"/>
<circle cx="130.16" cy="367.52" r="0.95" fill="#475b72"/>
<circle cx="124.69" cy="367.39" r="0.95" fill="#475b72"/>
<circle cx="131.79" cy="353.86" r="0.95" fill="#475b72"/>
<circle cx="138.99" cy="370.63" r="0.95" fill="#475b72"/>
<circle cx="127.53" cy="361.60" r="0.95" fill="#475b72"/>
<circle cx="140.64" cy="368.36" r="0.95" fill="#475b72"/>
<circle cx="128.06" cy="366.20" r="0.95" fill="#475b72"/>
<circle cx="140.63" cy="371.77" r="0.95" fill="#475b72"/>
<circle cx="142.61" cy="368.94" r="0.95" fill="#475b72"/>
<circle cx="129.19" cy="363.21" r="0.95" fill="#475b72"/>
<circle cx="131.32" cy="369.22" r="0.95" fill="#475b72"/>
<circle cx="130.91" cy="371.61" r="0.95" fill="#475b72"/>
<circle cx="119.19" cy="371.05" r="0.95" fill="#475b72"/>
<circle cx="127.17" cy="360.24" r="0.95" fill="#475b72"/>
<circle cx="141.17" cy="369.15" r="0.95" fill="#475b72"/>
<circle cx="139.79" cy="358.08" r="0.95" fill="#475b72"/>
<circle cx="144.46" cy="372.81" r="0.95" fill="#475b72"/>
<circle cx="139.28" cy="356.81" r="0.95" fill="#475b72"/>
<circle cx="142.99" cy="370.18" r="0.95" fill="#475b72"/>
<circle cx="132.82" cy="368.03" r="0.95" fill="#475b72"/>
<circle cx="133.71" cy="361.08" r="0.95" fill="#475b72"/>
<circle cx="141.97" cy="370.75" r="0.95" fill="#475b72"/>
<circle cx="127.30" cy="372.91" r="0.95" fill="#475b72"/>
<circle cx="137.88" cy="366.61" r="0.95" fill="#475b72"/>
<circle cx="136.97" cy="362.56" r="0.95" fill="#475b72"/>
<circle cx="132.14" cy="369.89" r="0.95" fill="#475b72"/>
<circle cx="140.61" cy="367.87" r="0.95" fill="#475b72"/>
<circle cx="141.32" cy="357.86" r="0.95" fill="#475b72"/>
<circle cx="123.69" cy="367.45" r="0.95" fill="#475b72"/>
<circle cx="140.72" cy="366.19" r="0.95" fill="#475b72"/>
<circle cx="130.73" cy="370.19" r="0.95" fill="#475b72"/>
<circle cx="136.58" cy="358.21" r="0.95" fill="#475b72"/>
<circle cx="129.97" cy="358.93" r="0.95" fill="#475b72"/>
<circle cx="122.16" cy="372.96" r="0.95" fill="#475b72"/>
<circle cx="136.99" cy="364.11" r="0.95" fill="#475b72"/>
<circle cx="123.54" cy="363.04" r="0.95" fill="#475b72"/>
<circle cx="126.65" cy="369.89" r="0.95" fill="#475b72"/>
<circle cx="127.20" cy="356.47" r="0.95" fill="#475b72"/>
<circle cx="141.89" cy="365.66" r="0.95" fill="#475b72"/>
<circle cx="131.08" cy="366.00" r="0.95" fill="#475b72"/>
<circle cx="127.49" cy="357.03" r="0.95" fill="#475b72"/>
<circle cx="128.56" cy="367.79" r="0.95" fill="#475b72"/>
<circle cx="128.81" cy="353.58" r="0.95" fill="#475b72"/>
<circle cx="137.27" cy="367.52" r="0.95" fill="#475b72"/>
<circle cx="120.46" cy="367.03" r="0.95" fill="#475b72"/>
<circle cx="128.87" cy="371.22" r="0.95" fill="#475b72"/>
<circle cx="127.02" cy="368.26" r="0.95" fill="#475b72"/>
<circle cx="135.60" cy="367.05" r="0.95" fill="#475b72"/>
<circle cx="137.85" cy="362.63" r="0.95" fill="#475b72"/>
<circle cx="128.30" cy="356.71" r="0.95" fill="#475b72"/>
<circle cx="141.54" cy="355.45" r="0.95" fill="#475b72"/>
<circle cx="129.77" cy="359.63" r="0.95" fill="#475b72"/>
<circle cx="141.72" cy="361.42" r="0.95" fill="#475b72"/>
<circle cx="137.72" cy="357.71" r="0.95" fill="#475b72"/>
<circle cx="122.76" cy="366.03" r="0.95" fill="#475b72"/>
<circle cx="135.91" cy="363.05" r="0.95" fill="#475b72"/>
<circle cx="130.92" cy="367.95" r="0.95" fill="#475b72"/>
<circle cx="127.19" cy="358.75" r="0.95" fill="#475b72"/>
<circle cx="135.58" cy="354.32" r="0.95" fill="#475b72"/>
<circle cx="125.98" cy="364.42" r="0.95" fill="#475b72"/>
<circle cx="127.16" cy="359.67" r="0.95" fill="#475b72"/>
<circle cx="132.77" cy="367.65" r="0.95" fill="#475b72"/>
<circle cx="127.67" cy="364.80" r="0.95" fill="#475b72"/>
<circle cx="135.08" cy="368.97" r="0.95" fill="#475b72"/>
<circle cx="128.46" cy="363.75" r="0.95" fill="#475b72"/>
<circle cx="122.08" cy="372.53" r="0.95" fill="#475b72"/>
<circle cx="130.83" cy="364.46" r="0.95" fill="#475b72"/>
<circle cx="134.20" cy="357.10" r="0.95" fill="#475b72"/>
<circle cx="137.37" cy="368.14" r="0.95" fill="#475b72"/>
<circle cx="134.79" cy="367.68" r="0.95" fill="#475b72"/>
<circle cx="135.70" cy="368.91" r="0.95" fill="#475b72"/>
<circle cx="132.89" cy="370.21" r="0.95" fill="#475b72"/>
<circle cx="139.35" cy="370.36" r="0.95" fill="#475b72"/>
<circle cx="138.23" cy="362.55" r="0.95" fill="#475b72"/>
<circle cx="125.68" cy="364.67" r="0.95" fill="#475b72"/>
<circle cx="140.27" cy="370.42" r="0.95" fill="#475b72"/>
<circle cx="135.94" cy="355.10" r="0.95" fill="#475b72"/>
<circle cx="130.79" cy="362.37" r="0.95" fill="#475b72"/>
<circle cx="137.49" cy="357.24" r="0.95" fill="#475b72"/>
<circle cx="129.35" cy="370.73" r="0.95" fill="#475b72"/>
<circle cx="121.15" cy="365.53" r="0.95" fill="#475b72"/>
<circle cx="132.11" cy="360.05" r="0.95" fill="#475b72"/>
<circle cx="127.36" cy="364.93" r="0.95" fill="#475b72"/>
<circle cx="135.80" cy="366.87" r="0.95" fill="#475b72"/>
<circle cx="118.07" cy="370.08" r="0.95" fill="#475b72"/>
<circle cx="130.72" cy="368.48" r="0.95" fill="#475b72"/>
<circle cx="129.35" cy="358.99" r="0.95" fill="#475b72"/>
<circle cx="128.69" cy="368.50" r="0.95" fill="#475b72"/>
<circle cx="139.43" cy="371.19" r="0.95" fill="#475b72"/>
<circle cx="133.57" cy="369.36" r="0.95" fill="#475b72"/>
<circle cx="138.48" cy="360.25" r="0.95" fill="#475b72"/>
<circle cx="119.18" cy="371.17" r="0.95" fill="#475b72"/>
<circle cx="135.81" cy="356.23" r="0.95" fill="#475b72"/>
<circle cx="134.53" cy="362.63" r="0.95" fill="#475b72"/>
<circle cx="139.57" cy="368.95" r="0.95" fill="#475b72"/>
<circle cx="135.71" cy="360.79" r="0.95" fill="#475b72"/>
<circle cx="129.44" cy="372.03" r="0.95" fill="#475b72"/>
<circle cx="127.56" cy="366.89" r="0.95" fill="#475b72"/>
<circle cx="134.87" cy="372.02" r="0.95" fill="#475b72"/>
<circle cx="137.43" cy="357.10" r="0.95" fill="#475b72"/>
<circle cx="133.73" cy="370.77" r="0.95" fill="#475b72"/>
<circle cx="140.52" cy="356.07" r="0.95" fill="#475b72"/>
<circle cx="131.15" cy="365.33" r="0.95" fill="#475b72"/>
<circle cx="124.24" cy="363.14" r="0.95" fill="#475b72"/>
<circle cx="130.07" cy="356.95" r="0.95" fill="#475b72"/>
<circle cx="130.92" cy="368.42" r="0.95" fill="#475b72"/>
<circle cx="137.54" cy="359.60" r="0.95" fill="#475b72"/>
<circle cx="142.20" cy="370.13" r="0.95" fill="#475b72"/>
<circle cx="139.74" cy="355.51" r="0.95" fill="#475b72"/>
<circle cx="126.08" cy="360.60" r="0.95" fill="#475b72"/>
<circle cx="141.18" cy="366.26" r="0.95" fill="#475b72"/>
<circle cx="129.86" cy="366.10" r="0.95" fill="#475b72"/>
<circle cx="129.31" cy="359.86" r="0.95" fill="#475b72"/>
<circle cx="128.27" cy="368.40" r="0.95" fill="#475b72"/>
<circle cx="135.64" cy="367.30" r="0.95" fill="#475b72"/>
<circle cx="135.87" cy="363.58" r="0.95" fill="#475b72"/>
<circle cx="129.48" cy="360.74" r="0.95" fill="#475b72"/>
<circle cx="132.37" cy="351.67" r="0.95" fill="#475b72"/>
<circle cx="127.81" cy="361.85" r="0.95" fill="#475b72"/>
<circle cx="136.40" cy="357.02" r="0.95" fill="#475b72"/>
<circle cx="140.34" cy="352.03" r="0.95" fill="#475b72"/>
<circle cx="137.52" cy="372.12" r="0.95" fill="#475b72"/>
<circle cx="131.63" cy="368.85" r="0.95" fill="#475b72"/>
<circle cx="121.73" cy="369.51" r="0.95" fill="#475b72"/>
<circle cx="128.44" cy="366.77" r="0.95" fill="#475b72"/>
<circle cx="135.03" cy="362.22" r="0.95" fill="#475b72"/>
<circle cx="134.44" cy="359.19" r="0.95" fill="#475b72"/>
<circle cx="135.28" cy="371.80" r="0.95" fill="#475b72"/>
<circle cx="135.04" cy="356.92" r="0.95" fill="#475b72"/>
<circle cx="134.08" cy="362.24" r="0.95" fill="#475b72"/>
<circle cx="132.05" cy="370.80" r="0.95" fill="#475b72"/>
<circle cx="123.39" cy="368.71" r="0.95" fill="#475b72"/>
<circle cx="130.56" cy="352.74" r="0.95" fill="#475b72"/>
<circle cx="138.96" cy="364.74" r="0.95" fill="#475b72"/>
<circle cx="117.91" cy="369.57" r="0.95" fill="#475b72"/>
<circle cx="125.54" cy="372.66" r="0.95" fill="#475b72"/>
<circle cx="130.74" cy="356.58" r="0.95" fill="#475b72"/>
<circle cx="134.87" cy="352.93" r="0.95" fill="#475b72"/>
<circle cx="143.03" cy="367.29" r="0.95" fill="#475b72"/>
<circle cx="142.27" cy="371.46" r="0.95" fill="#475b72"/>
<circle cx="139.49" cy="365.63" r="0.95" fill="#475b72"/>
<circle cx="123.67" cy="370.63" r="0.95" fill="#475b72"/>
<circle cx="141.42" cy="361.93" r="0.95" fill="#475b72"/>
<circle cx="127.16" cy="369.23" r="0.95" fill="#475b72"/>
<circle cx="127.03" cy="361.06" r="0.95" fill="#475b72"/>
<circle cx="126.83" cy="372.20" r="0.95" fill="#475b72"/>
<circle cx="140.45" cy="356.27" r="0.95" fill="#475b72"/>
<circle cx="130.98" cy="364.25" r="0.95" fill="#475b72"/>
<circle cx="126.52" cy="370.02" r="0.95" fill="#475b72"/>
<circle cx="140.22" cy="356.83" r="0.95" fill="#475b72"/>
<circle cx="133.94" cy="372.48" r="0.95" fill="#475b72"/>
<circle cx="138.36" cy="369.93" r="0.95" fill="#475b72"/>
<circle cx="118.36" cy="368.74" r="0.95" fill="#475b72"/>
<circle cx="134.53" cy="372.64" r="0.95" fill="#475b72"/>
<circle cx="138.46" cy="365.10" r="0.95" fill="#475b72"/>
<circle cx="130.42" cy="361.38" r="0.95" fill="#475b72"/>
<circle cx="138.09" cy="370.34" r="0.95" fill="#475b72"/>
<circle cx="129.74" cy="371.94" r="0.95" fill="#475b72"/>
<circle cx="138.25" cy="360.28" r="0.95" fill="#475b72"/>
<circle cx="128.35" cy="371.52" r="0.95" fill="#475b72"/>
<circle cx="128.98" cy="356.26" r="0.95" fill="#475b72"/>
<circle cx="129.33" cy="371.21" r="0.95" fill="#475b72"/>
<circle cx="116.86" cy="371.40" r="0.95" fill="#475b72"/>
<circle cx="124.30" cy="360.05" r="0.95" fill="#475b72"/>
<circle cx="128.22" cy="370.58" r="0.95" fill="#475b72"/>
<circle cx="135.77" cy="357.12" r="0.95" fill="#475b72"/>
<circle cx="137.81" cy="367.75" r="0.95" fill="#475b72"/>
<circle cx="128.15" cy="364.73" r="0.95" fill="#475b72"/>
<circle cx="128.21" cy="370.68" r="0.95" fill="#475b72"/>
<circle cx="127.39" cy="363.87" r="0.95" fill="#475b72"/>
<circle cx="119.05" cy="371.36" r="0.95" fill="#475b72"/>
<circle cx="139.73" cy="370.64" r="0.95" fill="#475b72"/>
<circle cx="136.90" cy="359.42" r="0.95" fill="#475b72"/>
<circle cx="132.26" cy="364.96" r="0.95" fill="#475b72"/>
<circle cx="137.25" cy="355.41" r="0.95" fill="#475b72"/>
<circle cx="132.00" cy="356.98" r="0.95" fill="#475b72"/>
<circle cx="125.59" cy="358.99" r="0.95" fill="#475b72"/>
<circle cx="139.32" cy="357.32" r="0.95" fill="#475b72"/>
<circle cx="123.81" cy="372.85" r="0.95" fill="#475b72"/>
<circle cx="140.89" cy="363.22" r="0.95" fill="#475b72"/>
<circle cx="118.72" cy="372.25" r="0.95" fill="#475b72"/>
<circle cx="137.12" cy="362.76" r="0.95" fill="#475b72"/>
<circle cx="138.05" cy="370.93" r="0.95" fill="#475b72"/>
<circle cx="134.92" cy="356.85" r="0.95" fill="#475b72"/>
<circle cx="129.19" cy="366.33" r="0.95" fill="#475b72"/>
<circle cx="137.39" cy="362.51" r="0.95" fill="#475b72"/>
<circle cx="134.71" cy="363.36" r="0.95" fill="#475b72"/>
<circle cx="132.65" cy="365.65" r="0.95" fill="#475b72"/>
<circle cx="120.83" cy="366.77" r="0.95" fill="#475b72"/>
<circle cx="129.63" cy="353.33" r="0.95" fill="#475b72"/>
<circle cx="116.59" cy="371.97" r="0.95" fill="#475b72"/>
<circle cx="131.93" cy="355.69" r="0.95" fill="#475b72"/>
<circle cx="127.12" cy="372.49" r="0.95" fill="#475b72"/>
<circle cx="139.74" cy="370.85" r="0.95" fill="#475b72"/>
<circle cx="140.11" cy="358.63" r="0.95" fill="#475b72"/>
<circle cx="130.35" cy="365.43" r="0.95" fill="#475b72"/>
<circle cx="124.74" cy="368.90" r="0.95" fill="#475b72"/>
<circle cx="129.94" cy="360.56" r="0.95" fill="#475b72"/>
<circle cx="139.34" cy="367.24" r="0.95" fill="#475b72"/>
<circle cx="137.55" cy="368.68" r="0.95" fill="#475b72"/>
<circle cx="137.93" cy="354.59" r="0.95" fill="#475b72"/>
<circle cx="131.59" cy="357.76" r="0.95" fill="#475b72"/>
<circle cx="140.72" cy="369.32" r="0.95" fill="#475b72"/>
<circle cx="123.85" cy="371.61" r="0.95" fill="#475b72"/>
<circle cx="140.44" cy="360.63" r="0.95" fill="#475b72"/>
<circle cx="134.25" cy="361.39" r="0.95" fill="#475b72"/>
<circle cx="118.99" cy="370.47" r="0.95" fill="#475b72"/>
<circle cx="129.76" cy="366.96" r="0.95" fill="#475b72"/>
<circle cx="127.73" cy="360.24" r="0.95" fill="#475b72"/>
<circle cx="138.43" cy="371.39" r="0.95" fill="#475b72"/>
<circle cx="140.99" cy="358.78" r="0.95" fill="#475b72"/>
<circle cx="135.67" cy="358.48" r="0.95" fill="#475b72"/>
<circle cx="142.96" cy="363.81" r="0.95" fill="#475b72"/>
<circle cx="138.51" cy="356.65" r="0.95" fill="#475b72"/>
<circle cx="139.64" cy="356.28" r="0.95" fill="#475b72"/>
<circle cx="130.43" cy="362.67" r="0.95" fill="#475b72"/>
<circle cx="125.42" cy="368.60" r="0.95" fill="#475b72"/>
<circle cx="121.30" cy="371.12" r="0.95" fill="#475b72"/>
<circle cx="139.83" cy="372.08" r="0.95" fill="#475b72"/>
<circle cx="124.65" cy="369.80" r="0.95" fill="#475b72"/>
<circle cx="137.88" cy="368.96" r="0.95" fill="#475b72"/>
<circle cx="121.63" cy="366.05" r="0.95" fill="#475b72"/>
<circle cx="137.19" cy="359.97" r="0.95" fill="#475b72"/>
<circle cx="123.82" cy="361.56" r="0.95" fill="#475b72"/>
<circle cx="139.27" cy="369.62" r="0.95" fill="#475b72"/>
<circle cx="140.32" cy="354.38" r="0.95" fill="#475b72"/>
<circle cx="122.71" cy="369.40" r="0.95" fill="#475b72"/>
<circle cx="127.72" cy="367.58" r="0.95" fill="#475b72"/>
<circle cx="128.14" cy="372.35" r="0.95" fill="#475b72"/>
<circle cx="144.68" cy="372.31" r="0.95" fill="#475b72"/>
<circle cx="138.50" cy="366.00" r="0.95" fill="#475b72"/>
<circle cx="139.67" cy="369.61" r="0.95" fill="#475b72"/>
<circle cx="135.88" cy="372.87" r="0.95" fill="#475b72"/>
<circle cx="131.11" cy="360.12" r="0.95" fill="#475b72"/>
<circle cx="132.57" cy="360.42" r="0.95" fill="#475b72"/>
<circle cx="133.12" cy="362.84" r="0.95" fill="#475b72"/>
<circle cx="137.89" cy="364.89" r="0.95" fill="#475b72"/>
<circle cx="135.57" cy="353.20" r="0.95" fill="#475b72"/>
<circle cx="123.34" cy="368.13" r="0.95" fill="#475b72"/>
<circle cx="137.34" cy="364.29" r="0.95" fill="#475b72"/>
<circle cx="138.18" cy="364.90" r="0.95" fill="#475b72"/>
<circle cx="137.03" cy="363.57" r="0.95" fill="#475b72"/>
<circle cx="136.54" cy="358.30" r="0.95" fill="#475b72"/>
<circle cx="139.44" cy="365.16" r="0.95" fill="#475b72"/>
<circle cx="132.75" cy="356.17" r="0.95" fill="#475b72"/>
<circle cx="125.14" cy="366.30" r="0.95" fill="#475b72"/>
<circle cx="144.24" cy="371.17" r="0.95" fill="#475b72"/>
<circle cx="135.09" cy="369.52" r="0.95" fill="#475b72"/>
<circle cx="132.90" cy="372.15" r="0.95" fill="#475b72"/>
<circle cx="135.08" cy="363.92" r="0.95" fill="#475b72"/>
<circle cx="137.64" cy="360.08" r="0.95" fill="#475b72"/>
<circle cx="126.52" cy="366.91" r="0.95" fill="#475b72"/>
<circle cx="126.18" cy="366.61" r="0.95" fill="#475b72"/>
<circle cx="123.10" cy="361.01" r="0.95" fill="#475b72"/>
<circle cx="141.76" cy="370.86" r="0.95" fill="#475b72"/>
<circle cx="135.16" cy="365.20" r="0.95" fill="#475b72"/>
<circle cx="141.54" cy="355.63" r="0.95" fill="#475b72"/>
<circle cx="129.89" cy="368.10" r="0.95" fill="#475b72"/>
<circle cx="118.63" cy="372.36" r="0.95" fill="#475b72"/>
<circle cx="131.20" cy="370.90" r="0.95" fill="#475b72"/>
<circle cx="130.41" cy="352.91" r="0.95" fill="#475b72"/>
<circle cx="128.10" cy="364.59" r="0.95" fill="#475b72"/>
<circle cx="141.13" cy="357.39" r="0.95" fill="#475b72"/>
<circle cx="142.13" cy="369.97" r="0.95" fill="#475b72"/>
<circle cx="141.65" cy="366.89" r="0.95" fill="#475b72"/>
<circle cx="133.74" cy="369.95" r="0.95" fill="#475b72"/>
<circle cx="119.53" cy="369.24" r="0.95" fill="#475b72"/>
<circle cx="134.46" cy="358.23" r="0.95" fill="#475b72"/>
<circle cx="140.06" cy="352.86" r="0.95" fill="#475b72"/>
<circle cx="131.96" cy="354.29" r="0.95" fill="#475b72"/>
<circle cx="127.09" cy="360.85" r="0.95" fill="#475b72"/>
<circle cx="129.11" cy="356.29" r="0.95" fill="#475b72"/>
<circle cx="123.46" cy="371.54" r="0.95" fill="#475b72"/>
<circle cx="127.79" cy="368.02" r="0.95" fill="#475b72"/>
<circle cx="132.87" cy="355.47" r="0.95" fill="#475b72"/>
<circle cx="124.12" cy="366.47" r="0.95" fill="#475b72"/>
<circle cx="121.95" cy="365.92" r="0.95" fill="#475b72"/>
<circle cx="126.10" cy="366.94" r="0.95" fill="#475b72"/>
<circle cx="140.75" cy="365.01" r="0.95" fill="#475b72"/>
<circle cx="131.99" cy="354.38" r="0.95" fill="#475b72"/>
<circle cx="129.57" cy="360.83" r="0.95" fill="#475b72"/>
<circle cx="129.79" cy="367.75" r="0.95" fill="#475b72"/>
<circle cx="141.27" cy="361.52" r="0.95" fill="#475b72"/>
<circle cx="130.74" cy="362.49" r="0.95" fill="#475b72"/>
<circle cx="141.27" cy="354.36" r="0.95" fill="#475b72"/>
<circle cx="120.33" cy="371.21" r="0.95" fill="#475b72"/>
<circle cx="129.75" cy="366.17" r="0.95" fill="#475b72"/>
<circle cx="128.83" cy="358.21" r="0.95" fill="#475b72"/>
<circle cx="130.10" cy="358.04" r="0.95" fill="#475b72"/>
<circle cx="130.61" cy="365.69" r="0.95" fill="#475b72"/>
<circle cx="139.24" cy="356.56" r="0.95" fill="#475b72"/>
<circle cx="136.49" cy="372.35" r="0.95" fill="#475b72"/>
<circle cx="128.85" cy="353.90" r="0.95" fill="#475b72"/>
<circle cx="138.03" cy="355.40" r="0.95" fill="#475b72"/>
<circle cx="132.17" cy="357.65" r="0.95" fill="#475b72"/>
<circle cx="133.27" cy="369.39" r="0.95" fill="#475b72"/>
<circle cx="138.00" cy="351.70" r="0.95" fill="#475b72"/>
<circle cx="136.81" cy="369.63" r="0.95" fill="#475b72"/>
<circle cx="130.40" cy="368.77" r="0.95" fill="#475b72"/>
<circle cx="142.17" cy="364.36" r="0.95" fill="#475b72"/>
<circle cx="137.91" cy="357.30" r="0.95" fill="#475b72"/>
<circle cx="135.51" cy="368.31" r="0.95" fill="#475b72"/>
<circle cx="121.91" cy="367.51" r="0.95" fill="#475b72"/>
<circle cx="120.71" cy="365.26" r="0.95" fill="#475b72"/>
<circle cx="143.47" cy="365.91" r="0.95" fill="#475b72"/>
<circle cx="123.16" cy="364.55" r="0.95" fill="#475b72"/>
<circle cx="127.87" cy="361.31" r="0.95" fill="#475b72"/>
<circle cx="135.60" cy="357.98" r="0.95" fill="#475b72"/>
<circle cx="132.27" cy="356.66" r="0.95" fill="#475b72"/>
<circle cx="130.57" cy="371.72" r="0.95" fill="#475b72"/>
<circle cx="126.99" cy="370.55" r="0.95" fill="#475b72"/>
<circle cx="137.87" cy="359.57" r="0.95" fill="#475b72"/>
<circle cx="141.15" cy="368.13" r="0.95" fill="#475b72"/>
<circle cx="140.31" cy="368.30" r="0.95" fill="#475b72"/>
<circle cx="138.48" cy="354.52" r="0.95" fill="#475b72"/>
<circle cx="139.58" cy="370.88" r="0.95" fill="#475b72"/>
<circle cx="134.78" cy="369.57" r="0.95" fill="#475b72"/>
<circle cx="124.25" cy="366.64" r="0.95" fill="#475b72"/>
<circle cx="123.59" cy="372.72" r="0.95" fill="#475b72"/>
<circle cx="134.30" cy="371.48" r="0.95" fill="#475b72"/>
<circle cx="129.70" cy="355.83" r="0.95" fill="#475b72"/>
<circle cx="123.38" cy="367.65" r="0.95" fill="#475b72"/>
<circle cx="132.84" cy="359.60" r="0.95" fill="#475b72"/>
<circle cx="128.74" cy="356.80" r="0.95" fill="#475b72"/>
<circle cx="140.99" cy="362.10" r="0.95" fill="#475b72"/>
<circle cx="135.83" cy="359.23" r="0.95" fill="#475b72"/>
<circle cx="131.84" cy="364.99" r="0.95" fill="#475b72"/>
<circle cx="130.24" cy="367.99" r="0.95" fill="#475b72"/>
<circle cx="132.16" cy="360.55" r="0.95" fill="#475b72"/>
<circle cx="139.02" cy="360.48" r="0.95" fill="#475b72"/>
<circle cx="128.31" cy="361.72" r="0.95" fill="#475b72"/>
<circle cx="138.97" cy="363.34" r="0.95" fill="#475b72"/>
<circle cx="139.26" cy="358.89" r="0.95" fill="#475b72"/>
<circle cx="115.78" cy="371.44" r="0.95" fill="#475b72"/>
<circle cx="130.82" cy="364.51" r="0.95" fill="#475b72"/>
<circle cx="136.56" cy="372.92" r="0.95" fill="#475b72"/>
<circle cx="130.98" cy="352.91" r="0.95" fill="#475b72"/>
<circle cx="121.94" cy="366.27" r="0.95" fill="#475b72"/>
<circle cx="142.94" cy="370.25" r="0.95" fill="#475b72"/>
<circle cx="139.05" cy="354.31" r="0.95" fill="#475b72"/>
<circle cx="141.31" cy="367.97" r="0.95" fill="#475b72"/>
<circle cx="126.65" cy="367.70" r="0.95" fill="#475b72"/>
<circle cx="140.70" cy="360.70" r="0.95" fill="#475b72"/>
<circle cx="124.16" cy="369.50" r="0.95" fill="#475b72"/>
<circle cx="134.50" cy="365.67" r="0.95" fill="#475b72"/>
<circle cx="142.16" cy="362.58" r="0.95" fill="#475b72"/>
<circle cx="134.84" cy="365.22" r="0.95" fill="#475b72"/>
<circle cx="127.08" cy="363.81" r="0.95" fill="#475b72"/>
<circle cx="131.37" cy="367.07" r="0.95" fill="#475b72"/>
<circle cx="132.76" cy="368.41" r="0.95" fill="#475b72"/>
<circle cx="137.59" cy="359.36" r="0.95" fill="#475b72"/>
<circle cx="129.00" cy="364.88" r="0.95" fill="#475b72"/>
<circle cx="128.98" cy="358.25" r="0.95" fill="#475b72"/>
<circle cx="138.01" cy="359.98" r="0.95" fill="#475b72"/>
<circle cx="121.14" cy="366.64" r="0.95" fill="#475b72"/>
<circle cx="142.86" cy="362.81" r="0.95" fill="#475b72"/>
<circle cx="139.78" cy="357.03" r="0.95" fill="#475b72"/>
<circle cx="119.52" cy="368.87" r="0.95" fill="#475b72"/>
<circle cx="130.91" cy="371.57" r="0.95" fill="#475b72"/>
<circle cx="134.75" cy="362.94" r="0.95" fill="#475b72"/>
<circle cx="140.06" cy="355.75" r="0.95" fill="#475b72"/>
<circle cx="133.21" cy="357.96" r="0.95" fill="#475b72"/>
<circle cx="129.11" cy="372.84" r="0.95" fill="#475b72"/>
<circle cx="131.20" cy="360.08" r="0.95" fill="#475b72"/>
<circle cx="122.77" cy="372.58" r="0.95" fill="#475b72"/>
<circle cx="139.16" cy="353.33" r="0.95" fill="#475b72"/>
<circle cx="142.10" cy="370.65" r="0.95" fill="#475b72"/>
<circle cx="139.22" cy="363.32" r="0.95" fill="#475b72"/>
<circle cx="140.22" cy="352.06" r="0.95" fill="#475b72"/>
<circle cx="137.53" cy="363.75" r="0.95" fill="#475b72"/>
<circle cx="131.23" cy="372.77" r="0.95" fill="#475b72"/>
<circle cx="117.30" cy="371.96" r="0.95" fill="#475b72"/>
<circle cx="128.88" cy="371.19" r="0.95" fill="#475b72"/>
<circle cx="142.58" cy="359.25" r="0.95" fill="#475b72"/>
<circle cx="136.10" cy="371.12" r="0.95" fill="#475b72"/>
<circle cx="126.25" cy="364.91" r="0.95" fill="#475b72"/>
<circle cx="126.48" cy="372.28" r="0.95" fill="#475b72"/>
<circle cx="125.23" cy="362.46" r="0.95" fill="#475b72"/>
<circle cx="135.10" cy="370.91" r="0.95" fill="#475b72"/>
<circle cx="133.24" cy="355.60" r="0.95" fill="#475b72"/>
<circle cx="133.70" cy="365.27" r="0.95" fill="#475b72"/>
<circle cx="125.36" cy="369.77" r="0.95" fill="#475b72"/>
<circle cx="126.82" cy="364.36" r="0.95" fill="#475b72"/>
<circle cx="126.13" cy="363.54" r="0.95" fill="#475b72"/>
<circle cx="125.99" cy="365.65" r="0.95" fill="#475b72"/>
<circle cx="129.42" cy="362.39" r="0.95" fill="#475b72"/>
<circle cx="127.22" cy="371.12" r="0.95" fill="#475b72"/>
<circle cx="132.48" cy="370.39" r="0.95" fill="#475b72"/>
<circle cx="123.68" cy="364.89" r="0.95" fill="#475b72"/>
<circle cx="133.28" cy="364.96" r="0.95" fill="#475b72"/>
<circle cx="143.24" cy="365.33" r="0.95" fill="#475b72"/>
<circle cx="135.56" cy="358.95" r="0.95" fill="#475b72"/>
<circle cx="132.43" cy="356.37" r="0.95" fill="#475b72"/>
<circle cx="131.15" cy="361.74" r="0.95" fill="#475b72"/>
<circle cx="135.97" cy="365.89" r="0.95" fill="#475b72"/>
<circle cx="135.50" cy="353.59" r="0.95" fill="#475b72"/>
<circle cx="128.99" cy="360.64" r="0.95" fill="#475b72"/>
<circle cx="142.43" cy="359.74" r="0.95" fill="#475b72"/>
<circle cx="130.75" cy="370.93" r="0.95" fill="#475b72"/>
<circle cx="137.81" cy="364.34" r="0.95" fill="#475b72"/>
<circle cx="135.03" cy="354.63" r="0.95" fill="#475b72"/>
<circle cx="143.81" cy="372.74" r="0.95" fill="#475b72"/>
<circle cx="132.08" cy="362.12" r="0.95" fill="#475b72"/>
<circle cx="126.31" cy="358.64" r="0.95" fill="#475b72"/>
<circle cx="129.64" cy="372.40" r="0.95" fill="#475b72"/>
<circle cx="117.93" cy="369.54" r="0.95" fill="#475b72"/>
<circle cx="123.90" cy="367.95" r="0.95" fill="#475b72"/>
<circle cx="129.11" cy="362.31" r="0.95" fill="#475b72"/>
<circle cx="135.62" cy="365.67" r="0.95" fill="#475b72"/>
<circle cx="134.13" cy="368.99" r="0.95" fill="#475b72"/>
<circle cx="121.46" cy="368.50" r="0.95" fill="#475b72"/>
<circle cx="133.90" cy="372.29" r="0.95" fill="#475b72"/>
<circle cx="133.10" cy="358.55" r="0.95" fill="#475b72"/>
<circle cx="126.24" cy="367.98" r="0.95" fill="#475b72"/>
<circle cx="137.31" cy="371.47" r="0.95" fill="#475b72"/>
<circle cx="124.33" cy="366.60" r="0.95" fill="#475b72"/>
<circle cx="140.67" cy="357.41" r="0.95" fill="#475b72"/>
<circle cx="132.58" cy="358.68" r="0.95" fill="#475b72"/>
<circle cx="139.18" cy="365.74" r="0.95" fill="#475b72"/>
<circle cx="133.11" cy="369.73" r="0.95" fill="#475b72"/>
<circle cx="135.52" cy="362.79" r="0.95" fill="#475b72"/>
<circle cx="118.60" cy="368.47" r="0.95" fill="#475b72"/>
<circle cx="133.75" cy="357.26" r="0.95" fill="#475b72"/>
<circle cx="116.03" cy="372.77" r="0.95" fill="#475b72"/>
<circle cx="129.79" cy="356.29" r="0.95" fill="#475b72"/>
<circle cx="127.06" cy="361.08" r="0.95" fill="#475b72"/>
<circle cx="137.72" cy="370.24" r="0.95" fill="#475b72"/>
<circle cx="125.57" cy="371.98" r="0.95" fill="#475b72"/>
<circle cx="123.47" cy="362.03" r="0.95" fill="#475b72"/>
<circle cx="125.01" cy="362.29" r="0.95" fill="#475b72"/>
<circle cx="139.09" cy="364.44" r="0.95" fill="#475b72"/>
<circle cx="136.04" cy="368.95" r="0.95" fill="#475b72"/>
<circle cx="130.81" cy="355.82" r="0.95" fill="#475b72"/>
<circle cx="144.41" cy="370.68" r="0.95" fill="#475b72"/>
<circle cx="140.77" cy="355.64" r="0.95" fill="#475b72"/>
<circle cx="139.63" cy="356.50" r="0.95" fill="#475b72"/>
<circle cx="129.30" cy="366.44" r="0.95" fill="#475b72"/>
<circle cx="141.20" cy="360.42" r="0.95" fill="#475b72"/>
<circle cx="122.87" cy="363.99" r="0.95" fill="#475b72"/>
<circle cx="143.34" cy="372.94" r="0.95" fill="#475b72"/>
<circle cx="137.97" cy="355.17" r="0.95" fill="#475b72"/>
<circle cx="128.36" cy="364.26" r="0.95" fill="#475b72"/>
<circle cx="127.48" cy="366.45" r="0.95" fill="#475b72"/>
<circle cx="139.62" cy="358.90" r="0.95" fill="#475b72"/>
<circle cx="131.64" cy="364.61" r="0.95" fill="#475b72"/>
<circle cx="135.18" cy="370.57" r="0.95" fill="#475b72"/>
<circle cx="138.27" cy="369.97" r="0.95" fill="#475b72"/>
<circle cx="140.52" cy="372.98" r="0.95" fill="#475b72"/>
<circle cx="118.42" cy="369.12" r="0.95" fill="#475b72"/>
<circle cx="135.70" cy="357.01" r="0.95" fill="#475b72"/>
<circle cx="135.83" cy="361.37" r="0.95" fill="#475b72"/>
<circle cx="118.45" cy="369.51" r="0.95" fill="#475b72"/>
<circle cx="127.80" cy="357.67" r="0.95" fill="#475b72"/>
<circle cx="140.59" cy="370.55" r="0.95" fill="#475b72"/>
<circle cx="137.31" cy="363.63" r="0.95" fill="#475b72"/>
<circle cx="143.73" cy="369.59" r="0.95" fill="#475b72"/>
<circle cx="132.67" cy="353.99" r="0.95" fill="#475b72"/>
<circle cx="135.42" cy="356.93" r="0.95" fill="#475b72"/>
<circle cx="137.17" cy="371.67" r="0.95" fill="#475b72"/>
<circle cx="141.74" cy="360.92" r="0.95" fill="#475b72"/>
<circle cx="131.71" cy="356.34" r="0.95" fill="#475b72"/>
<circle cx="137.63" cy="354.20" r="0.95" fill="#475b72"/>
<circle cx="129.83" cy="360.77" r="0.95" fill="#475b72"/>
<circle cx="127.05" cy="370.99" r="0.95" fill="#475b72"/>
<circle cx="130.74" cy="366.23" r="0.95" fill="#475b72"/>
<circle cx="123.84" cy="368.04" r="0.95" fill="#475b72"/>
<circle cx="139.01" cy="363.47" r="0.95" fill="#475b72"/>
<circle cx="133.71" cy="356.38" r="0.95" fill="#475b72"/>
<circle cx="140.17" cy="370.90" r="0.95" fill="#475b72"/>
<circle cx="127.63" cy="358.14" r="0.95" fill="#475b72"/>
<circle cx="138.24" cy="368.93" r="0.95" fill="#475b72"/>
<circle cx="141.39" cy="372.28" r="0.95" fill="#475b72"/>
<circle cx="138.98" cy="371.44" r="0.95" fill="#475b72"/>
<circle cx="136.09" cy="371.12" r="0.95" fill="#475b72"/>
<circle cx="128.26" cy="360.81" r="0.95" fill="#475b72"/>
<circle cx="131.66" cy="366.78" r="0.95" fill="#475b72"/>
<circle cx="121.35" cy="371.93" r="0.95" fill="#475b72"/>
<circle cx="140.68" cy="361.49" r="0.95" fill="#475b72"/>
<circle cx="136.95" cy="365.15" r="0.95" fill="#475b72"/>
<circle cx="127.08" cy="366.38" r="0.95" fill="#475b72"/>
<circle cx="144.28" cy="371.32" r="0.95" fill="#475b72"/>
<circle cx="124.37" cy="372.81" r="0.95" fill="#475b72"/>
<circle cx="120.51" cy="365.58" r="0.95" fill="#475b72"/>
<circle cx="133.36" cy="358.56" r="0.95" fill="#475b72"/>
<circle cx="129.42" cy="368.23" r="0.95" fill="#475b72"/>
<circle cx="141.82" cy="367.02" r="0.95" fill="#475b72"/>
<circle cx="140.25" cy="370.46" r="0.95" fill="#475b72"/>
<circle cx="130.53" cy="360.99" r="0.95" fill="#475b72"/>
<circle cx="130.23" cy="363.91" r="0.95" fill="#475b72"/>
<circle cx="144.08" cy="370.67" r="0.95" fill="#475b72"/>
<circle cx="124.27" cy="359.42" r="0.95" fill="#475b72"/>
<circle cx="130.62" cy="350.78" r="0.95" fill="#475b72"/>
<circle cx="128.67" cy="351.89" r="0.95" fill="#475b72"/>
<circle cx="126.13" cy="357.10" r="0.95" fill="#475b72"/>
<circle cx="126.92" cy="354.93" r="0.95" fill="#475b72"/>
<circle cx="126.97" cy="356.46" r="0.95" fill="#475b72"/>
<circle cx="125.28" cy="357.34" r="0.95" fill="#475b72"/>
<circle cx="133.72" cy="346.37" r="0.95" fill="#475b72"/>
<circle cx="124.72" cy="358.39" r="0.95" fill="#475b72"/>
<circle cx="129.13" cy="350.17" r="0.95" fill="#475b72"/>
<circle cx="125.35" cy="357.65" r="0.95" fill="#475b72"/>
<circle cx="124.07" cy="357.60" r="0.95" fill="#475b72"/>
<circle cx="124.62" cy="356.91" r="0.95" fill="#475b72"/>
<circle cx="122.91" cy="360.06" r="0.95" fill="#475b72"/>
<circle cx="123.65" cy="358.01" r="0.95" fill="#475b72"/>
<circle cx="125.94" cy="355.23" r="0.95" fill="#475b72"/>
<circle cx="132.21" cy="346.63" r="0.95" fill="#475b72"/>
<circle cx="126.12" cy="356.80" r="0.95" fill="#475b72"/>
<circle cx="128.23" cy="355.02" r="0.95" fill="#475b72"/>
<circle cx="128.93" cy="354.17" r="0.95" fill="#475b72"/>
<circle cx="129.07" cy="351.25" r="0.95" fill="#475b72"/>
<circle cx="134.07" cy="347.40" r="0.95" fill="#475b72"/>
<circle cx="134.45" cy="346.84" r="0.95" fill="#475b72"/>
<circle cx="127.76" cy="350.67" r="0.95" fill="#475b72"/>
<circle cx="131.53" cy="347.97" r="0.95" fill="#475b72"/>
<circle cx="126.10" cy="353.93" r="0.95" fill="#475b72"/>
<circle cx="134.20" cy="346.28" r="0.95" fill="#475b72"/>
<circle cx="135.51" cy="345.78" r="0.95" fill="#475b72"/>
<circle cx="128.80" cy="348.88" r="0.95" fill="#475b72"/>
<circle cx="127.16" cy="352.49" r="0.95" fill="#475b72"/>
<circle cx="124.77" cy="358.32" r="0.95" fill="#475b72"/>
<circle cx="130.70" cy="350.38" r="0.95" fill="#475b72"/>
<circle cx="122.75" cy="358.63" r="0.95" fill="#475b72"/>
<circle cx="132.30" cy="348.79" r="0.95" fill="#475b72"/>
<circle cx="125.05" cy="356.80" r="0.95" fill="#475b72"/>
<circle cx="104.17" cy="372.54" r="0.95" fill="#475b72"/>
<circle cx="91.78" cy="369.04" r="0.95" fill="#475b72"/>
<circle cx="99.35" cy="372.18" r="0.95" fill="#475b72"/>
<circle cx="104.18" cy="370.32" r="0.95" fill="#475b72"/>
<circle cx="96.69" cy="366.26" r="0.95" fill="#475b72"/>
<circle cx="100.21" cy="368.72" r="0.95" fill="#475b72"/>
<circle cx="110.74" cy="369.42" r="0.95" fill="#475b72"/>
<circle cx="84.57" cy="372.25" r="0.95" fill="#475b72"/>
<circle cx="93.81" cy="370.47" r="0.95" fill="#475b72"/>
<circle cx="103.11" cy="371.79" r="0.95" fill="#475b72"/>
<circle cx="83.55" cy="372.71" r="0.95" fill="#475b72"/>
<circle cx="92.97" cy="362.61" r="0.95" fill="#475b72"/>
<circle cx="100.75" cy="367.69" r="0.95" fill="#475b72"/>
<circle cx="110.71" cy="371.17" r="0.95" fill="#475b72"/>
<circle cx="79.30" cy="370.66" r="0.95" fill="#475b72"/>
<circle cx="80.75" cy="370.04" r="0.95" fill="#475b72"/>
<circle cx="93.73" cy="371.11" r="0.95" fill="#475b72"/>
<circle cx="108.27" cy="371.81" r="0.95" fill="#475b72"/>
<circle cx="98.08" cy="369.65" r="0.95" fill="#475b72"/>
<circle cx="111.92" cy="371.55" r="0.95" fill="#475b72"/>
<circle cx="100.56" cy="371.64" r="0.95" fill="#475b72"/>
<circle cx="96.88" cy="364.26" r="0.95" fill="#475b72"/>
<circle cx="89.29" cy="372.01" r="0.95" fill="#475b72"/>
<circle cx="83.50" cy="368.72" r="0.95" fill="#475b72"/>
<circle cx="100.68" cy="365.66" r="0.95" fill="#475b72"/>
<circle cx="91.98" cy="372.58" r="0.95" fill="#475b72"/>
<circle cx="108.66" cy="370.24" r="0.95" fill="#475b72"/>
<circle cx="87.73" cy="369.22" r="0.95" fill="#475b72"/>
<circle cx="92.47" cy="372.65" r="0.95" fill="#475b72"/>
<circle cx="108.16" cy="371.90" r="0.95" fill="#475b72"/>
<circle cx="96.53" cy="371.78" r="0.95" fill="#475b72"/>
<circle cx="100.90" cy="369.47" r="0.95" fill="#475b72"/>
<circle cx="97.41" cy="369.40" r="0.95" fill="#475b72"/>
<circle cx="83.68" cy="367.38" r="0.95" fill="#475b72"/>
<circle cx="94.83" cy="366.63" r="0.95" fill="#475b72"/>
<circle cx="82.18" cy="371.94" r="0.95" fill="#475b72"/>
<circle cx="91.48" cy="369.54" r="0.95" fill="#475b72"/>
<circle cx="81.12" cy="372.10" r="0.95" fill="#475b72"/>
<circle cx="100.22" cy="368.62" r="0.95" fill="#475b72"/>
<circle cx="85.66" cy="365.99" r="0.95" fill="#475b72"/>
<circle cx="99.07" cy="371.01" r="0.95" fill="#475b72"/>
<circle cx="80.60" cy="371.64" r="0.95" fill="#475b72"/>
<circle cx="103.95" cy="368.39" r="0.95" fill="#475b72"/>
<circle cx="99.39" cy="366.48" r="0.95" fill="#475b72"/>
<circle cx="92.15" cy="369.30" r="0.95" fill="#475b72"/>
<circle cx="103.33" cy="366.40" r="0.95" fill="#475b72"/>
<circle cx="90.81" cy="370.16" r="0.95" fill="#475b72"/>
<circle cx="80.86" cy="369.32" r="0.95" fill="#475b72"/>
<circle cx="92.96" cy="370.81" r="0.95" fill="#475b72"/>
<circle cx="103.98" cy="370.81" r="0.95" fill="#475b72"/>
<circle cx="90.74" cy="369.39" r="0.95" fill="#475b72"/>
<circle cx="90.75" cy="372.89" r="0.95" fill="#475b72"/>
<circle cx="105.18" cy="368.90" r="0.95" fill="#475b72"/>
<circle cx="100.64" cy="369.62" r="0.95" fill="#475b72"/>
<circle cx="99.89" cy="366.14" r="0.95" fill="#475b72"/>
<circle cx="90.20" cy="367.98" r="0.95" fill="#475b72"/>
<circle cx="90.75" cy="368.99" r="0.95" fill="#475b72"/>
<circle cx="90.99" cy="369.50" r="0.95" fill="#475b72"/>
<circle cx="88.42" cy="368.99" r="0.95" fill="#475b72"/>
<circle cx="90.45" cy="369.52" r="0.95" fill="#475b72"/>
<circle cx="99.11" cy="372.53" r="0.95" fill="#475b72"/>
<circle cx="88.53" cy="370.45" r="0.95" fill="#475b72"/>
<circle cx="82.37" cy="371.69" r="0.95" fill="#475b72"/>
<circle cx="102.14" cy="368.23" r="0.95" fill="#475b72"/>
<circle cx="102.29" cy="369.05" r="0.95" fill="#475b72"/>
<circle cx="93.08" cy="372.04" r="0.95" fill="#475b72"/>
<circle cx="100.45" cy="372.27" r="0.95" fill="#475b72"/>
<circle cx="83.19" cy="370.31" r="0.95" fill="#475b72"/>
<circle cx="107.94" cy="372.94" r="0.95" fill="#475b72"/>
<circle cx="104.41" cy="370.74" r="0.95" fill="#475b72"/>
<circle cx="99.66" cy="367.86" r="0.95" fill="#475b72"/>
<circle cx="105.31" cy="368.38" r="0.95" fill="#475b72"/>
<circle cx="108.30" cy="369.00" r="0.95" fill="#475b72"/>
<circle cx="103.77" cy="365.00" r="0.95" fill="#475b72"/>
<circle cx="101.88" cy="368.18" r="0.95" fill="#475b72"/>
<circle cx="90.21" cy="372.74" r="0.95" fill="#475b72"/>
<circle cx="89.20" cy="367.90" r="0.95" fill="#475b72"/>
<circle cx="94.40" cy="370.95" r="0.95" fill="#475b72"/>
<circle cx="89.00" cy="368.96" r="0.95" fill="#475b72"/>
<circle cx="90.22" cy="369.38" r="0.95" fill="#475b72"/>
<circle cx="110.57" cy="371.42" r="0.95" fill="#475b72"/>
<circle cx="110.23" cy="370.33" r="0.95" fill="#475b72"/>
<circle cx="107.03" cy="369.04" r="0.95" fill="#475b72"/>
<circle cx="80.30" cy="372.96" r="0.95" fill="#475b72"/>
<circle cx="89.95" cy="371.79" r="0.95" fill="#475b72"/>
<circle cx="95.70" cy="371.64" r="0.95" fill="#475b72"/>
<circle cx="103.58" cy="371.66" r="0.95" fill="#475b72"/>
<circle cx="108.02" cy="369.10" r="0.95" fill="#475b72"/>
<circle cx="110.93" cy="372.38" r="0.95" fill="#475b72"/>
<circle cx="83.27" cy="370.71" r="0.95" fill="#475b72"/>
<circle cx="110.27" cy="372.21" r="0.95" fill="#475b72"/>
<circle cx="92.81" cy="363.90" r="0.95" fill="#475b72"/>
<circle cx="107.78" cy="368.19" r="0.95" fill="#475b72"/>
<circle cx="110.27" cy="372.38" r="0.95" fill="#475b72"/>
<circle cx="89.63" cy="365.26" r="0.95" fill="#475b72"/>
<circle cx="93.75" cy="364.01" r="0.95" fill="#475b72"/>
<circle cx="110.92" cy="369.66" r="0.95" fill="#475b72"/>
<circle cx="101.77" cy="367.83" r="0.95" fill="#475b72"/>
<circle cx="112.41" cy="370.89" r="0.95" fill="#475b72"/>
<circle cx="90.89" cy="369.85" r="0.95" fill="#475b72"/>
<circle cx="97.62" cy="366.99" r="0.95" fill="#475b72"/>
<circle cx="83.10" cy="371.41" r="0.95" fill="#475b72"/>
<circle cx="96.23" cy="371.62" r="0.95" fill="#475b72"/>
<circle cx="99.33" cy="373.00" r="0.95" fill="#475b72"/>
<circle cx="103.27" cy="370.22" r="0.95" fill="#475b72"/>
<circle cx="89.86" cy="368.12" r="0.95" fill="#475b72"/>
<circle cx="93.93" cy="366.65" r="0.95" fill="#475b72"/>
<circle cx="90.39" cy="371.47" r="0.95" fill="#475b72"/>
<circle cx="86.65" cy="368.42" r="0.95" fill="#475b72"/>
<circle cx="84.08" cy="369.08" r="0.95" fill="#475b72"/>
<circle cx="95.33" cy="372.39" r="0.95" fill="#475b72"/>
<circle cx="107.55" cy="367.73" r="0.95" fill="#475b72"/>
<circle cx="97.70" cy="363.38" r="0.95" fill="#475b72"/>
<circle cx="97.85" cy="367.46" r="0.95" fill="#475b72"/>
<circle cx="88.82" cy="368.99" r="0.95" fill="#475b72"/>
<circle cx="88.77" cy="363.45" r="0.95" fill="#475b72"/>
<circle cx="80.22" cy="370.30" r="0.95" fill="#475b72"/>
<circle cx="91.59" cy="368.37" r="0.95" fill="#475b72"/>
<circle cx="89.83" cy="364.28" r="0.95" fill="#475b72"/>
<circle cx="102.62" cy="368.27" r="0.95" fill="#475b72"/>
<circle cx="96.85" cy="364.05" r="0.95" fill="#475b72"/>
<circle cx="95.30" cy="371.05" r="0.95" fill="#475b72"/>
<circle cx="108.52" cy="369.64" r="0.95" fill="#475b72"/>
<circle cx="83.73" cy="369.04" r="0.95" fill="#475b72"/>
<circle cx="102.98" cy="372.83" r="0.95" fill="#475b72"/>
<circle cx="89.46" cy="370.67" r="0.95" fill="#475b72"/>
<circle cx="95.62" cy="367.25" r="0.95" fill="#475b72"/>
<circle cx="90.21" cy="365.31" r="0.95" fill="#475b72"/>
<circle cx="101.32" cy="368.73" r="0.95" fill="#475b72"/>
<circle cx="106.36" cy="372.09" r="0.95" fill="#475b72"/>
<circle cx="95.94" cy="365.79" r="0.95" fill="#475b72"/>
<circle cx="102.27" cy="370.07" r="0.95" fill="#475b72"/>
<circle cx="84.30" cy="372.88" r="0.95" fill="#475b72"/>
<circle cx="100.70" cy="367.02" r="0.95" fill="#475b72"/>
<circle cx="95.62" cy="370.75" r="0.95" fill="#475b72"/>
<circle cx="79.46" cy="372.90" r="0.95" fill="#475b72"/>
<circle cx="82.79" cy="371.61" r="0.95" fill="#475b72"/>
<circle cx="102.28" cy="372.27" r="0.95" fill="#475b72"/>
<circle cx="106.08" cy="367.79" r="0.95" fill="#475b72"/>
<circle cx="91.37" cy="372.77" r="0.95" fill="#475b72"/>
<circle cx="91.81" cy="365.14" r="0.95" fill="#475b72"/>
<circle cx="110.52" cy="368.96" r="0.95" fill="#475b72"/>
<circle cx="99.96" cy="366.64" r="0.95" fill="#475b72"/>
<circle cx="94.91" cy="367.75" r="0.95" fill="#475b72"/>
<circle cx="85.35" cy="367.99" r="0.95" fill="#475b72"/>
<circle cx="94.77" cy="368.91" r="0.95" fill="#475b72"/>
<circle cx="87.06" cy="368.39" r="0.95" fill="#475b72"/>
<circle cx="99.32" cy="366.12" r="0.95" fill="#475b72"/>
<circle cx="103.78" cy="371.68" r="0.95" fill="#475b72"/>
<circle cx="87.89" cy="368.56" r="0.95" fill="#475b72"/>
<circle cx="109.72" cy="371.66" r="0.95" fill="#475b72"/>
<circle cx="91.76" cy="368.74" r="0.95" fill="#475b72"/>
<circle cx="97.93" cy="368.90" r="0.95" fill="#475b72"/>
<circle cx="93.05" cy="368.11" r="0.95" fill="#475b72"/>
<circle cx="102.84" cy="372.94" r="0.95" fill="#475b72"/>
<circle cx="98.46" cy="371.20" r="0.95" fill="#475b72"/>
<circle cx="87.62" cy="366.79" r="0.95" fill="#475b72"/>
<circle cx="101.29" cy="365.60" r="0.95" fill="#475b72"/>
<circle cx="104.78" cy="371.97" r="0.95" fill="#475b72"/>
<circle cx="92.84" cy="365.60" r="0.95" fill="#475b72"/>
<circle cx="94.54" cy="366.66" r="0.95" fill="#475b72"/>
<circle cx="86.07" cy="370.00" r="0.95" fill="#475b72"/>
<circle cx="86.19" cy="369.09" r="0.95" fill="#475b72"/>
<circle cx="97.42" cy="367.68" r="0.95" fill="#475b72"/>
<circle cx="84.93" cy="370.77" r="0.95" fill="#475b72"/>
<circle cx="95.61" cy="370.60" r="0.95" fill="#475b72"/>
<circle cx="87.51" cy="368.18" r="0.95" fill="#475b72"/>
<circle cx="106.40" cy="372.16" r="0.95" fill="#475b72"/>
<circle cx="100.90" cy="370.23" r="0.95" fill="#475b72"/>
<circle cx="102.56" cy="366.00" r="0.95" fill="#475b72"/>
<circle cx="84.08" cy="369.47" r="0.95" fill="#475b72"/>
<circle cx="96.61" cy="364.89" r="0.95" fill="#475b72"/>
<circle cx="96.06" cy="370.78" r="0.95" fill="#475b72"/>
<circle cx="111.58" cy="370.16" r="0.95" fill="#475b72"/>
<circle cx="88.08" cy="366.57" r="0.95" fill="#475b72"/>
<circle cx="108.51" cy="372.47" r="0.95" fill="#475b72"/>
<circle cx="93.49" cy="369.53" r="0.95" fill="#475b72"/>
<circle cx="90.22" cy="371.85" r="0.95" fill="#475b72"/>
<circle cx="97.99" cy="361.36" r="0.95" fill="#475b72"/>
<circle cx="85.36" cy="370.56" r="0.95" fill="#475b72"/>
<circle cx="101.88" cy="365.07" r="0.95" fill="#475b72"/>
<circle cx="106.00" cy="371.54" r="0.95" fill="#475b72"/>
<circle cx="107.01" cy="366.23" r="0.95" fill="#475b72"/>
<circle cx="99.06" cy="371.71" r="0.95" fill="#475b72"/>
<circle cx="97.01" cy="372.48" r="0.95" fill="#475b72"/>
<circle cx="85.76" cy="371.42" r="0.95" fill="#475b72"/>
<circle cx="90.68" cy="368.03" r="0.95" fill="#475b72"/>
<circle cx="85.08" cy="367.88" r="0.95" fill="#475b72"/>
<circle cx="92.88" cy="362.78" r="0.95" fill="#475b72"/>
<circle cx="88.94" cy="371.20" r="0.95" fill="#475b72"/>
<circle cx="104.05" cy="367.52" r="0.95" fill="#475b72"/>
<circle cx="93.28" cy="372.90" r="0.95" fill="#475b72"/>
<circle cx="90.48" cy="368.76" r="0.95" fill="#475b72"/>
<circle cx="105.13" cy="367.32" r="0.95" fill="#475b72"/>
<circle cx="96.77" cy="365.55" r="0.95" fill="#475b72"/>
<circle cx="105.13" cy="368.38" r="0.95" fill="#475b72"/>
<circle cx="90.31" cy="367.01" r="0.95" fill="#475b72"/>
<circle cx="88.85" cy="370.12" r="0.95" fill="#475b72"/>
<circle cx="99.76" cy="365.61" r="0.95" fill="#475b72"/>
<circle cx="88.93" cy="370.84" r="0.95" fill="#475b72"/>
<circle cx="79.15" cy="371.78" r="0.95" fill="#475b72"/>
<circle cx="109.09" cy="367.16" r="0.95" fill="#475b72"/>
<circle cx="112.06" cy="371.93" r="0.95" fill="#475b72"/>
<circle cx="92.57" cy="361.99" r="0.95" fill="#475b72"/>
<circle cx="91.00" cy="370.29" r="0.95" fill="#475b72"/>
<circle cx="90.40" cy="369.16" r="0.95" fill="#475b72"/>
<circle cx="105.93" cy="372.52" r="0.95" fill="#475b72"/>
<circle cx="105.66" cy="370.89" r="0.95" fill="#475b72"/>
<circle cx="99.96" cy="366.05" r="0.95" fill="#475b72"/>
<circle cx="87.47" cy="371.79" r="0.95" fill="#475b72"/>
<circle cx="101.68" cy="369.29" r="0.95" fill="#475b72"/>
<circle cx="93.39" cy="367.54" r="0.95" fill="#475b72"/>
<circle cx="89.03" cy="365.44" r="0.95" fill="#475b72"/>
<circle cx="97.63" cy="365.12" r="0.95" fill="#475b72"/>
<circle cx="113.40" cy="372.09" r="0.95" fill="#475b72"/>
<circle cx="91.25" cy="363.92" r="0.95" fill="#475b72"/>
<circle cx="81.15" cy="370.32" r="0.95" fill="#475b72"/>
<circle cx="87.53" cy="370.23" r="0.95" fill="#475b72"/>
<circle cx="89.71" cy="364.76" r="0.95" fill="#475b72"/>
<circle cx="86.47" cy="372.43" r="0.95" fill="#475b72"/>
<circle cx="96.78" cy="366.39" r="0.95" fill="#475b72"/>
<circle cx="94.64" cy="367.72" r="0.95" fill="#475b72"/>
<circle cx="102.51" cy="369.51" r="0.95" fill="#475b72"/>
<circle cx="94.36" cy="366.67" r="0.95" fill="#475b72"/>
<circle cx="92.00" cy="366.31" r="0.95" fill="#475b72"/>
<circle cx="106.71" cy="368.00" r="0.95" fill="#475b72"/>
<circle cx="83.18" cy="370.59" r="0.95" fill="#475b72"/>
<circle cx="109.61" cy="369.93" r="0.95" fill="#475b72"/>
<circle cx="98.61" cy="371.04" r="0.95" fill="#475b72"/>
<circle cx="91.38" cy="368.51" r="0.95" fill="#475b72"/>
<circle cx="104.98" cy="371.37" r="0.95" fill="#475b72"/>
<circle cx="82.71" cy="370.33" r="0.95" fill="#475b72"/>
<circle cx="93.36" cy="370.66" r="0.95" fill="#475b72"/>
<circle cx="102.07" cy="365.33" r="0.95" fill="#475b72"/>
<circle cx="83.38" cy="370.83" r="0.95" fill="#475b72"/>
<circle cx="106.06" cy="369.09" r="0.95" fill="#475b72"/>
<circle cx="104.63" cy="369.36" r="0.95" fill="#475b72"/>
<circle cx="98.14" cy="368.13" r="0.95" fill="#475b72"/>
<circle cx="92.95" cy="367.44" r="0.95" fill="#475b72"/>
<circle cx="90.21" cy="363.60" r="0.95" fill="#475b72"/>
<circle cx="111.47" cy="371.62" r="0.95" fill="#475b72"/>
<circle cx="111.36" cy="370.92" r="0.95" fill="#475b72"/>
<circle cx="90.47" cy="368.85" r="0.95" fill="#475b72"/>
<circle cx="109.60" cy="372.62" r="0.95" fill="#475b72"/>
<circle cx="90.15" cy="368.64" r="0.95" fill="#475b72"/>
<circle cx="97.00" cy="365.75" r="0.95" fill="#475b72"/>
<circle cx="91.34" cy="365.43" r="0.95" fill="#475b72"/>
<circle cx="95.27" cy="368.84" r="0.95" fill="#475b72"/>
<circle cx="98.25" cy="369.51" r="0.95" fill="#475b72"/>
<circle cx="96.97" cy="367.22" r="0.95" fill="#475b72"/>
<circle cx="103.70" cy="372.90" r="0.95" fill="#475b72"/>
<circle cx="100.75" cy="365.48" r="0.95" fill="#475b72"/>
<circle cx="100.16" cy="369.47" r="0.95" fill="#475b72"/>
<circle cx="99.31" cy="370.55" r="0.95" fill="#475b72"/>
<circle cx="104.46" cy="370.48" r="0.95" fill="#475b72"/>
<circle cx="107.61" cy="369.39" r="0.95" fill="#475b72"/>
<circle cx="88.27" cy="369.88" r="0.95" fill="#475b72"/>
<circle cx="108.89" cy="368.41" r="0.95" fill="#475b72"/>
<circle cx="97.46" cy="368.57" r="0.95" fill="#475b72"/>
<circle cx="83.58" cy="372.25" r="0.95" fill="#475b72"/>
<circle cx="105.30" cy="367.06" r="0.95" fill="#475b72"/>
<circle cx="97.12" cy="368.81" r="0.95" fill="#475b72"/>
<circle cx="102.60" cy="372.43" r="0.95" fill="#475b72"/>
<circle cx="82.84" cy="371.48" r="0.95" fill="#475b72"/>
<circle cx="91.27" cy="370.75" r="0.95" fill="#475b72"/>
<circle cx="97.03" cy="368.02" r="0.95" fill="#475b72"/>
<circle cx="111.13" cy="371.77" r="0.95" fill="#475b72"/>
<circle cx="88.77" cy="371.31" r="0.95" fill="#475b72"/>
<circle cx="86.75" cy="367.11" r="0.95" fill="#475b72"/>
<circle cx="107.35" cy="368.19" r="0.95" fill="#475b72"/>
<circle cx="107.47" cy="368.33" r="0.95" fill="#475b72"/>
<circle cx="80.99" cy="372.08" r="0.95" fill="#475b72"/>
<circle cx="108.74" cy="369.47" r="0.95" fill="#475b72"/>
<circle cx="100.55" cy="372.75" r="0.95" fill="#475b72"/>
<circle cx="83.09" cy="369.80" r="0.95" fill="#475b72"/>
<circle cx="88.05" cy="365.77" r="0.95" fill="#475b72"/>
<circle cx="100.24" cy="366.32" r="0.95" fill="#475b72"/>
<circle cx="94.25" cy="368.67" r="0.95" fill="#475b72"/>
<circle cx="111.96" cy="371.26" r="0.95" fill="#475b72"/>
<circle cx="111.81" cy="370.20" r="0.95" fill="#475b72"/>
<circle cx="96.44" cy="371.93" r="0.95" fill="#475b72"/>
<circle cx="88.51" cy="369.43" r="0.95" fill="#475b72"/>
<circle cx="79.88" cy="371.70" r="0.95" fill="#475b72"/>
<circle cx="87.90" cy="370.46" r="0.95" fill="#475b72"/>
<circle cx="107.86" cy="367.43" r="0.95" fill="#475b72"/>
<circle cx="98.21" cy="368.77" r="0.95" fill="#475b72"/>
<circle cx="92.17" cy="370.13" r="0.95" fill="#475b72"/>
<circle cx="86.42" cy="369.59" r="0.95" fill="#475b72"/>
<circle cx="87.86" cy="365.00" r="0.95" fill="#475b72"/>
<circle cx="95.49" cy="368.95" r="0.95" fill="#475b72"/>
<circle cx="104.32" cy="365.53" r="0.95" fill="#475b72"/>
<circle cx="80.57" cy="372.49" r="0.95" fill="#475b72"/>
<circle cx="101.40" cy="368.07" r="0.95" fill="#475b72"/>
<circle cx="93.34" cy="365.01" r="0.95" fill="#475b72"/>
<circle cx="103.42" cy="365.27" r="0.95" fill="#475b72"/>
<circle cx="101.69" cy="367.41" r="0.95" fill="#475b72"/>
<circle cx="82.69" cy="369.96" r="0.95" fill="#475b72"/>
<circle cx="90.55" cy="372.85" r="0.95" fill="#475b72"/>
<circle cx="85.99" cy="368.91" r="0.95" fill="#475b72"/>
<circle cx="96.04" cy="372.32" r="0.95" fill="#475b72"/>
<circle cx="87.67" cy="367.02" r="0.95" fill="#475b72"/>
<circle cx="92.65" cy="370.02" r="0.95" fill="#475b72"/>
<circle cx="103.81" cy="371.23" r="0.95" fill="#475b72"/>
<circle cx="111.38" cy="372.34" r="0.95" fill="#475b72"/>
<circle cx="99.81" cy="366.27" r="0.95" fill="#475b72"/>
<circle cx="86.12" cy="371.19" r="0.95" fill="#475b72"/>
<circle cx="93.96" cy="364.25" r="0.95" fill="#475b72"/>
<circle cx="102.58" cy="371.80" r="0.95" fill="#475b72"/>
<circle cx="89.85" cy="368.33" r="0.95" fill="#475b72"/>
<circle cx="102.68" cy="372.68" r="0.95" fill="#475b72"/>
<circle cx="103.26" cy="364.73" r="0.95" fill="#475b72"/>
<circle cx="97.95" cy="370.20" r="0.95" fill="#475b72"/>
<circle cx="94.74" cy="365.98" r="0.95" fill="#475b72"/>
<circle cx="109.24" cy="372.75" r="0.95" fill="#475b72"/>
<circle cx="93.10" cy="372.42" r="0.95" fill="#475b72"/>
<circle cx="94.98" cy="366.28" r="0.95" fill="#475b72"/>
<circle cx="97.67" cy="372.71" r="0.95" fill="#475b72"/>
<circle cx="105.36" cy="368.52" r="0.95" fill="#475b72"/>
<circle cx="100.03" cy="368.35" r="0.95" fill="#475b72"/>
<circle cx="101.54" cy="369.83" r="0.95" fill="#475b72"/>
<circle cx="90.40" cy="367.87" r="0.95" fill="#475b72"/>
<circle cx="106.09" cy="370.95" r="0.95" fill="#475b72"/>
<circle cx="94.59" cy="371.14" r="0.95" fill="#475b72"/>
<circle cx="103.11" cy="365.97" r="0.95" fill="#475b72"/>
<circle cx="99.27" cy="367.05" r="0.95" fill="#475b72"/>
<circle cx="104.40" cy="371.57" r="0.95" fill="#475b72"/>
<circle cx="104.65" cy="369.90" r="0.95" fill="#475b72"/>
<circle cx="105.92" cy="368.18" r="0.95" fill="#475b72"/>
<circle cx="89.26" cy="366.26" r="0.95" fill="#475b72"/>
<circle cx="92.30" cy="367.98" r="0.95" fill="#475b72"/>
<circle cx="84.20" cy="363.84" r="0.95" fill="#475b72"/>
<circle cx="101.72" cy="343.68" r="0.95" fill="#475b72"/>
<circle cx="103.25" cy="356.12" r="0.95" fill="#475b72"/>
<circle cx="82.81" cy="358.41" r="0.95" fill="#475b72"/>
<circle cx="100.95" cy="353.80" r="0.95" fill="#475b72"/>
<circle cx="84.11" cy="340.04" r="0.95" fill="#475b72"/>
<circle cx="104.86" cy="344.81" r="0.95" fill="#475b72"/>
<circle cx="93.87" cy="360.57" r="0.95" fill="#475b72"/>
<circle cx="92.54" cy="363.71" r="0.95" fill="#475b72"/>
<circle cx="98.33" cy="346.69" r="0.95" fill="#475b72"/>
<circle cx="99.82" cy="351.30" r="0.95" fill="#475b72"/>
<circle cx="87.04" cy="346.89" r="0.95" fill="#475b72"/>
<circle cx="98.98" cy="358.30" r="0.95" fill="#475b72"/>
<circle cx="84.13" cy="335.16" r="0.95" fill="#475b72"/>
<circle cx="83.21" cy="362.55" r="0.95" fill="#475b72"/>
<circle cx="84.43" cy="356.48" r="0.95" fill="#475b72"/>
<circle cx="81.99" cy="349.97" r="0.95" fill="#475b72"/>
<circle cx="78.54" cy="361.62" r="0.95" fill="#475b72"/>
<circle cx="88.59" cy="350.90" r="0.95" fill="#475b72"/>
<circle cx="99.87" cy="340.13" r="0.95" fill="#475b72"/>
<circle cx="107.65" cy="339.43" r="0.95" fill="#475b72"/>
<circle cx="82.57" cy="362.56" r="0.95" fill="#475b72"/>
<circle cx="92.93" cy="342.16" r="0.95" fill="#475b72"/>
<circle cx="100.76" cy="363.47" r="0.95" fill="#475b72"/>
<circle cx="93.73" cy="357.06" r="0.95" fill="#475b72"/>
<circle cx="82.97" cy="360.92" r="0.95" fill="#475b72"/>
<circle cx="96.00" cy="363.34" r="0.95" fill="#475b72"/>
<circle cx="91.51" cy="330.58" r="0.95" fill="#475b72"/>
<circle cx="92.55" cy="330.01" r="0.95" fill="#475b72"/>
<circle cx="96.42" cy="349.57" r="0.95" fill="#475b72"/>
<circle cx="94.67" cy="331.02" r="0.95" fill="#475b72"/>
<circle cx="98.56" cy="329.76" r="0.95" fill="#475b72"/>
<circle cx="95.15" cy="363.84" r="0.95" fill="#475b72"/>
<circle cx="98.83" cy="363.85" r="0.95" fill="#475b72"/>
<circle cx="93.46" cy="363.81" r="0.95" fill="#475b72"/>
<circle cx="96.16" cy="334.93" r="0.95" fill="#475b72"/>
<circle cx="85.63" cy="336.35" r="0.95" fill="#475b72"/>
<circle cx="98.12" cy="344.44" r="0.95" fill="#475b72"/>
<circle cx="88.31" cy="347.18" r="0.95" fill="#475b72"/>
<circle cx="83.53" cy="360.80" r="0.95" fill="#475b72"/>
<circle cx="106.47" cy="352.07" r="0.95" fill="#475b72"/>
<circle cx="102.78" cy="346.26" r="0.95" fill="#475b72"/>
<circle cx="94.15" cy="361.62" r="0.95" fill="#475b72"/>
<circle cx="86.65" cy="363.31" r="0.95" fill="#475b72"/>
<circle cx="77.87" cy="354.70" r="0.95" fill="#475b72"/>
<circle cx="103.05" cy="342.78" r="0.95" fill="#475b72"/>
<circle cx="105.42" cy="347.58" r="0.95" fill="#475b72"/>
<circle cx="100.06" cy="353.90" r="0.95" fill="#475b72"/>
<circle cx="108.72" cy="363.52" r="0.95" fill="#475b72"/>
<circle cx="93.26" cy="360.10" r="0.95" fill="#475b72"/>
<circle cx="84.12" cy="359.95" r="0.95" fill="#475b72"/>
<circle cx="84.90" cy="363.84" r="0.95" fill="#475b72"/>
<circle cx="83.80" cy="359.97" r="0.95" fill="#475b72"/>
<circle cx="96.07" cy="363.62" r="0.95" fill="#475b72"/>
<circle cx="88.80" cy="355.69" r="0.95" fill="#475b72"/>
<circle cx="79.38" cy="362.55" r="0.95" fill="#475b72"/>
<circle cx="98.68" cy="350.23" r="0.95" fill="#475b72"/>
<circle cx="100.34" cy="353.50" r="0.95" fill="#475b72"/>
<circle cx="100.15" cy="355.77" r="0.95" fill="#475b72"/>
<circle cx="97.68" cy="361.73" r="0.95" fill="#475b72"/>
<circle cx="100.29" cy="358.08" r="0.95" fill="#475b72"/>
<circle cx="95.00" cy="356.25" r="0.95" fill="#475b72"/>
<circle cx="78.64" cy="369.57" r="0.95" fill="#475b72"/>
<circle cx="73.94" cy="369.64" r="0.95" fill="#475b72"/>
<circle cx="76.58" cy="367.89" r="0.95" fill="#475b72"/>
<circle cx="70.24" cy="370.95" r="0.95" fill="#475b72"/>
<circle cx="77.57" cy="367.56" r="0.95" fill="#475b72"/>
<circle cx="67.43" cy="370.26" r="0.95" fill="#475b72"/>
<circle cx="69.59" cy="367.73" r="0.95" fill="#475b72"/>
<circle cx="71.29" cy="369.93" r="0.95" fill="#475b72"/>
<circle cx="73.04" cy="368.78" r="0.95" fill="#475b72"/>
<circle cx="71.07" cy="366.48" r="0.95" fill="#475b72"/>
<circle cx="73.47" cy="370.20" r="0.95" fill="#475b72"/>
<circle cx="67.18" cy="368.95" r="0.95" fill="#475b72"/>
<circle cx="55.33" cy="360.80" r="0.95" fill="#475b72"/>
<circle cx="138.08" cy="349.51" r="0.95" fill="#475b72"/>
<circle cx="141.09" cy="344.80" r="0.95" fill="#475b72"/>
<circle cx="144.41" cy="352.18" r="0.95" fill="#475b72"/>
<circle cx="129.14" cy="344.08" r="0.95" fill="#475b72"/>
<circle cx="135.33" cy="333.63" r="0.95" fill="#475b72"/>
<circle cx="132.75" cy="342.10" r="0.95" fill="#475b72"/>
<circle cx="137.00" cy="333.35" r="0.95" fill="#475b72"/>
<circle cx="137.03" cy="347.38" r="0.95" fill="#475b72"/>
<circle cx="134.50" cy="352.39" r="0.95" fill="#475b72"/>
<circle cx="143.30" cy="334.66" r="0.95" fill="#475b72"/>
<circle cx="136.49" cy="346.57" r="0.95" fill="#475b72"/>
<circle cx="134.68" cy="350.37" r="0.95" fill="#475b72"/>
<circle cx="147.89" cy="344.26" r="0.95" fill="#475b72"/>
<circle cx="145.42" cy="345.85" r="0.95" fill="#475b72"/>
<circle cx="136.58" cy="350.51" r="0.95" fill="#475b72"/>
<circle cx="139.63" cy="350.41" r="0.95" fill="#475b72"/>
<circle cx="140.10" cy="342.87" r="0.95" fill="#475b72"/>
<circle cx="135.94" cy="351.58" r="0.95" fill="#475b72"/>
<circle cx="144.40" cy="331.38" r="0.95" fill="#475b72"/>
<circle cx="138.71" cy="332.03" r="0.95" fill="#475b72"/>
<circle cx="141.38" cy="337.01" r="0.95" fill="#475b72"/>
<circle cx="138.81" cy="345.74" r="0.95" fill="#475b72"/>
<circle cx="132.43" cy="352.29" r="0.95" fill="#475b72"/>
<circle cx="146.68" cy="336.20" r="0.95" fill="#475b72"/>
<circle cx="146.74" cy="335.05" r="0.95" fill="#475b72"/>
<circle cx="139.15" cy="352.78" r="0.95" fill="#475b72"/>
<circle cx="131.20" cy="345.17" r="0.95" fill="#475b72"/>
<circle cx="136.36" cy="347.41" r="0.95" fill="#475b72"/>
<circle cx="131.53" cy="337.23" r="0.95" fill="#475b72"/>
<circle cx="133.01" cy="338.17" r="0.95" fill="#475b72"/>
<circle cx="142.41" cy="348.25" r="0.95" fill="#475b72"/>
<circle cx="141.66" cy="338.91" r="0.95" fill="#475b72"/>
<circle cx="135.62" cy="339.50" r="0.95" fill="#475b72"/>
<circle cx="128.65" cy="345.50" r="0.95" fill="#475b72"/>
<circle cx="146.65" cy="351.79" r="0.95" fill="#475b72"/>
<circle cx="136.25" cy="338.17" r="0.95" fill="#475b72"/>
<circle cx="142.24" cy="350.51" r="0.95" fill="#475b72"/>
<circle cx="145.90" cy="345.18" r="0.95" fill="#475b72"/>
<circle cx="142.84" cy="340.16" r="0.95" fill="#475b72"/>
<circle cx="141.80" cy="351.48" r="0.95" fill="#475b72"/>
<circle cx="139.87" cy="333.83" r="0.95" fill="#475b72"/>
<circle cx="141.81" cy="340.61" r="0.95" fill="#475b72"/>
<circle cx="133.40" cy="350.81" r="0.95" fill="#475b72"/>
<circle cx="132.54" cy="352.30" r="0.95" fill="#475b72"/>
<circle cx="143.26" cy="351.10" r="0.95" fill="#475b72"/>
<circle cx="140.45" cy="338.66" r="0.95" fill="#475b72"/>
<circle cx="131.22" cy="345.19" r="0.95" fill="#475b72"/>
<circle cx="138.09" cy="339.06" r="0.95" fill="#475b72"/>
<circle cx="139.10" cy="335.25" r="0.95" fill="#475b72"/>
<circle cx="142.12" cy="332.21" r="0.95" fill="#475b72"/>
<circle cx="142.42" cy="347.07" r="0.95" fill="#475b72"/>
<circle cx="139.22" cy="351.90" r="0.95" fill="#475b72"/>
<circle cx="146.23" cy="337.33" r="0.95" fill="#475b72"/>
<circle cx="147.90" cy="350.32" r="0.95" fill="#475b72"/>
<circle cx="139.46" cy="351.98" r="0.95" fill="#475b72"/>
<circle cx="145.70" cy="338.55" r="0.95" fill="#475b72"/>
<circle cx="147.01" cy="348.12" r="0.95" fill="#475b72"/>
<circle cx="139.95" cy="352.57" r="0.95" fill="#475b72"/>
<circle cx="141.07" cy="336.25" r="0.95" fill="#475b72"/>
<circle cx="138.25" cy="351.02" r="0.95" fill="#475b72"/>
<circle cx="147.69" cy="340.23" r="0.95" fill="#475b72"/>
<circle cx="146.87" cy="351.31" r="0.95" fill="#475b72"/>
<circle cx="136.65" cy="344.95" r="0.95" fill="#475b72"/>
<circle cx="133.72" cy="349.79" r="0.95" fill="#475b72"/>
<circle cx="137.92" cy="339.61" r="0.95" fill="#475b72"/>
<circle cx="135.21" cy="335.46" r="0.95" fill="#475b72"/>
<circle cx="141.62" cy="351.46" r="0.95" fill="#475b72"/>
<circle cx="130.61" cy="345.35" r="0.95" fill="#475b72"/>
<circle cx="130.68" cy="352.77" r="0.95" fill="#475b72"/>
<circle cx="143.71" cy="340.28" r="0.95" fill="#475b72"/>
<circle cx="127.10" cy="269.80" r="0.95" fill="#475b72"/>
<circle cx="102.10" cy="286.90" r="0.95" fill="#475b72"/>
<circle cx="136.20" cy="286.50" r="0.95" fill="#475b72"/>
<circle cx="158.30" cy="290.00" r="0.95" fill="#475b72"/>
<circle cx="103.80" cy="296.90" r="0.95" fill="#475b72"/>
<circle cx="146.30" cy="301.30" r="0.95" fill="#475b72"/>
<circle cx="138.10" cy="308.90" r="0.95" fill="#475b72"/>
<circle cx="139.30" cy="310.40" r="0.95" fill="#475b72"/>
<circle cx="138.10" cy="311.80" r="0.95" fill="#475b72"/>
<circle cx="130.90" cy="310.90" r="0.95" fill="#475b72"/>
<circle cx="132.80" cy="313.80" r="0.95" fill="#475b72"/>
<circle cx="126.50" cy="314.70" r="0.95" fill="#475b72"/>
<circle cx="128.00" cy="316.60" r="0.95" fill="#475b72"/>
<circle cx="153.00" cy="314.70" r="0.95" fill="#475b72"/>
<circle cx="132.30" cy="320.50" r="0.95" fill="#475b72"/>
<circle cx="135.70" cy="322.90" r="0.95" fill="#475b72"/>
<circle cx="136.20" cy="324.80" r="0.95" fill="#475b72"/>
<circle cx="139.50" cy="322.90" r="0.95" fill="#475b72"/>
<circle cx="148.70" cy="329.60" r="0.95" fill="#475b72"/>
<circle cx="145.80" cy="334.00" r="0.95" fill="#475b72"/>
<circle cx="153.50" cy="336.80" r="0.95" fill="#475b72"/>
<circle cx="157.50" cy="345.50" r="0.95" fill="#475b72"/>
<circle cx="150.50" cy="341.50" r="0.95" fill="#475b72"/>
<circle cx="149.0" cy="254.2" r="1.0" fill="#d0143c"/>
<circle cx="138.4" cy="310.0" r="1.0" fill="#d0143c"/>
<circle cx="142.2" cy="320.1" r="1.0" fill="#d0143c"/>
<circle cx="142.6" cy="344.4" r="1.0" fill="#d0143c"/>
<text x="152.50" y="257.30" font-size="8.1" text-anchor="start" fill="#231f20" stroke="#231f20" stroke-width="0.1" font-style="italic">Odc1</text>
<text x="142.30" y="312.90" font-size="7.8" text-anchor="start" fill="#231f20" stroke="#231f20" stroke-width="0.1" font-style="italic">Itga2b</text>
<text x="145.60" y="322.50" font-size="7.8" text-anchor="start" fill="#231f20" stroke="#231f20" stroke-width="0.1" font-style="italic">Vwf</text>
<text x="149.20" y="346.20" font-size="8.2" text-anchor="start" fill="#231f20" stroke="#231f20" stroke-width="0.1" font-style="italic">Selp</text>
</g>
<g id="D">
<text x="194.60" y="241.50" font-size="11.2" text-anchor="start" fill="#231f20" font-weight="bold" stroke="#231f20" stroke-width="0.35">D</text>
<line x1="327.4" y1="244.8" x2="327.4" y2="367.8" stroke="#231f20" stroke-width="1.1"/>
<line x1="326.9" y1="367.3" x2="412.3" y2="367.3" stroke="#231f20" stroke-width="1.1"/>
<rect x="327.9" y="250.05" width="68.10" height="6.5" fill="#1d5591"/>
<line x1="323.8" y1="253.30" x2="327.4" y2="253.30" stroke="#231f20" stroke-width="1"/>
<text x="321.20" y="255.90" font-size="7.55" text-anchor="end" fill="#231f20" stroke="#231f20" stroke-width="0.1" >platelet activation</text>
<text x="400.30" y="256.20" font-size="8.1" text-anchor="start" fill="#231f20" stroke="#231f20" stroke-width="0.1" >0.0001273</text>
<rect x="327.9" y="261.85" width="55.10" height="6.5" fill="#1d5591"/>
<line x1="323.8" y1="265.10" x2="327.4" y2="265.10" stroke="#231f20" stroke-width="1"/>
<text x="321.20" y="267.70" font-size="7.55" text-anchor="end" fill="#231f20" stroke="#231f20" stroke-width="0.1" >cell-matrix adhesion</text>
<text x="387.30" y="268.00" font-size="8.1" text-anchor="start" fill="#231f20" stroke="#231f20" stroke-width="0.1" >0.0000699</text>
<rect x="327.9" y="273.65" width="54.80" height="6.5" fill="#1d5591"/>
<line x1="323.8" y1="276.90" x2="327.4" y2="276.90" stroke="#231f20" stroke-width="1"/>
<text x="321.20" y="279.50" font-size="7.55" text-anchor="end" fill="#231f20" stroke="#231f20" stroke-width="0.1" >blood coagulation</text>
<text x="387.00" y="279.80" font-size="8.1" text-anchor="start" fill="#231f20" stroke="#231f20" stroke-width="0.1" >0.0007119</text>
<rect x="327.9" y="285.45" width="48.40" height="6.5" fill="#1d5591"/>
<line x1="323.8" y1="288.70" x2="327.4" y2="288.70" stroke="#231f20" stroke-width="1"/>
<text x="321.20" y="291.30" font-size="7.55" text-anchor="end" fill="#231f20" stroke="#231f20" stroke-width="0.1" >wound healing</text>
<text x="380.60" y="291.60" font-size="8.1" text-anchor="start" fill="#231f20" stroke="#231f20" stroke-width="0.1" >0.0000015</text>
<rect x="327.9" y="297.25" width="47.10" height="6.5" fill="#1d5591"/>
<line x1="323.8" y1="300.50" x2="327.4" y2="300.50" stroke="#231f20" stroke-width="1"/>
<text x="321.20" y="303.10" font-size="7.55" text-anchor="end" fill="#231f20" stroke="#231f20" stroke-width="0.1" >cell-substrate adhesion</text>
<text x="379.30" y="303.40" font-size="8.1" text-anchor="start" fill="#231f20" stroke="#231f20" stroke-width="0.1" >0.0000456</text>
<rect x="327.9" y="309.05" width="42.10" height="6.5" fill="#1d5591"/>
<line x1="323.8" y1="312.30" x2="327.4" y2="312.30" stroke="#231f20" stroke-width="1"/>
<text x="321.20" y="314.90" font-size="7.55" text-anchor="end" fill="#231f20" stroke="#231f20" stroke-width="0.1" >response to wounding</text>
<text x="374.30" y="315.20" font-size="8.1" text-anchor="start" fill="#231f20" stroke="#231f20" stroke-width="0.1" >0.0000288</text>
<rect x="327.9" y="320.85" width="37.50" height="6.5" fill="#1d5591"/>
<line x1="323.8" y1="324.10" x2="327.4" y2="324.10" stroke="#231f20" stroke-width="1"/>
<text x="321.20" y="326.70" font-size="7.55" text-anchor="end" fill="#231f20" stroke="#231f20" stroke-width="0.1" >actin cytoskeleton organization</text>
<text x="369.70" y="327.00" font-size="8.1" text-anchor="start" fill="#231f20" stroke="#231f20" stroke-width="0.1" >0.0000077</text>
<rect x="327.9" y="332.65" width="29.20" height="6.5" fill="#1d5591"/>
<line x1="323.8" y1="335.90" x2="327.4" y2="335.90" stroke="#231f20" stroke-width="1"/>
<text x="321.20" y="338.50" font-size="7.55" text-anchor="end" fill="#231f20" stroke="#231f20" stroke-width="0.1" >cytoskeleton organization</text>
<text x="361.40" y="338.80" font-size="8.1" text-anchor="start" fill="#231f20" stroke="#231f20" stroke-width="0.1" >0.0016720</text>
<rect x="327.9" y="344.45" width="25.90" height="6.5" fill="#1d5591"/>
<line x1="323.8" y1="347.70" x2="327.4" y2="347.70" stroke="#231f20" stroke-width="1"/>
<text x="321.20" y="350.30" font-size="7.55" text-anchor="end" fill="#231f20" stroke="#231f20" stroke-width="0.1" >cellular response to chemical stimulus</text>
<text x="358.10" y="350.60" font-size="8.1" text-anchor="start" fill="#231f20" stroke="#231f20" stroke-width="0.1" >0.0002254</text>
<rect x="327.9" y="356.25" width="11.50" height="6.5" fill="#1d5591"/>
<line x1="323.8" y1="359.50" x2="327.4" y2="359.50" stroke="#231f20" stroke-width="1"/>
<text x="321.20" y="362.10" font-size="7.55" text-anchor="end" fill="#231f20" stroke="#231f20" stroke-width="0.1" >nucleic acid metabolic process</text>
<text x="343.70" y="362.40" font-size="8.1" text-anchor="start" fill="#231f20" stroke="#231f20" stroke-width="0.1" >0.0019066</text>
<line x1="327.50" y1="367.3" x2="327.50" y2="369.8" stroke="#231f20" stroke-width="1"/>
<text x="327.50" y="380.00" font-size="7.3" text-anchor="middle" fill="#231f20" stroke="#231f20" stroke-width="0.1" >0</text>
<line x1="347.90" y1="367.3" x2="347.90" y2="369.8" stroke="#231f20" stroke-width="1"/>
<text x="347.90" y="380.00" font-size="7.3" text-anchor="middle" fill="#231f20" stroke="#231f20" stroke-width="0.1" >10</text>
<line x1="368.30" y1="367.3" x2="368.30" y2="369.8" stroke="#231f20" stroke-width="1"/>
<text x="368.30" y="380.00" font-size="7.3" text-anchor="middle" fill="#231f20" stroke="#231f20" stroke-width="0.1" >20</text>
<line x1="388.70" y1="367.3" x2="388.70" y2="369.8" stroke="#231f20" stroke-width="1"/>
<text x="388.70" y="380.00" font-size="7.3" text-anchor="middle" fill="#231f20" stroke="#231f20" stroke-width="0.1" >30</text>
<line x1="409.10" y1="367.3" x2="409.10" y2="369.8" stroke="#231f20" stroke-width="1"/>
<text x="409.10" y="380.00" font-size="7.3" text-anchor="middle" fill="#231f20" stroke="#231f20" stroke-width="0.1" >40</text>
<text transform="translate(370,392.7) scale(0.745,1)" font-size="8.6" text-anchor="middle" fill="#231f20" stroke="#231f20" stroke-width="0.28">% Associated genes</text>
</g>
<g id="E">
<text x="6.80" y="429.40" font-size="11.2" text-anchor="start" fill="#231f20" font-weight="bold" stroke="#231f20" stroke-width="0.35">E</text>
<line x1="74.5" y1="431" x2="74.5" y2="514" stroke="#231f20" stroke-width="1.1"/>
<line x1="74" y1="513.5" x2="446.7" y2="513.5" stroke="#231f20" stroke-width="1.1"/>
<line x1="71.6" y1="443.2" x2="74.5" y2="443.2" stroke="#231f20" stroke-width="1"/>
<text x="68.40" y="445.50" font-size="7.65" text-anchor="end" fill="#231f20" stroke="#231f20" stroke-width="0.1" >Endothelial cells</text>
<line x1="71.6" y1="462.8" x2="74.5" y2="462.8" stroke="#231f20" stroke-width="1"/>
<text x="68.40" y="465.10" font-size="7.65" text-anchor="end" fill="#231f20" stroke="#231f20" stroke-width="0.1" >Fibroblasts</text>
<line x1="71.6" y1="482.4" x2="74.5" y2="482.4" stroke="#231f20" stroke-width="1"/>
<text x="68.40" y="484.70" font-size="7.65" text-anchor="end" fill="#231f20" stroke="#231f20" stroke-width="0.1" >Macrophages</text>
<line x1="71.6" y1="502.0" x2="74.5" y2="502.0" stroke="#231f20" stroke-width="1"/>
<text x="68.40" y="504.30" font-size="7.65" text-anchor="end" fill="#231f20" stroke="#231f20" stroke-width="0.1" >Cardiomyocytes</text>
<line x1="79.40" y1="513.5" x2="79.40" y2="516.0" stroke="#231f20" stroke-width="1"/>
<circle cx="79.40" cy="443.2" r="1.55" fill="#48487e" stroke="#333362" stroke-width="0.5"/>
<circle cx="79.40" cy="462.8" r="2.50" fill="#48487e" stroke="#333362" stroke-width="0.5"/>
<circle cx="79.40" cy="482.4" r="2.50" fill="#48487e" stroke="#333362" stroke-width="0.5"/>
<circle cx="79.40" cy="502.0" r="1.55" fill="#48487e" stroke="#333362" stroke-width="0.5"/>
<text transform="translate(82.20,520.4) rotate(-86)" font-size="7.7" text-anchor="end" fill="#231f20" font-style="italic">Calr–Itgav</text>
<line x1="87.44" y1="513.5" x2="87.44" y2="516.0" stroke="#231f20" stroke-width="1"/>
<circle cx="87.44" cy="443.2" r="2.05" fill="#44447a" stroke="#30305f" stroke-width="0.5"/>
<circle cx="87.44" cy="462.8" r="3.20" fill="#44447a" stroke="#30305f" stroke-width="0.5"/>
<circle cx="87.44" cy="482.4" r="3.20" fill="#44447a" stroke="#30305f" stroke-width="0.5"/>
<circle cx="87.44" cy="502.0" r="1.95" fill="#44447a" stroke="#30305f" stroke-width="0.5"/>
<text transform="translate(90.24,520.4) rotate(-86)" font-size="7.7" text-anchor="end" fill="#231f20" font-style="italic">Calr–Lrp1</text>
<line x1="95.48" y1="513.5" x2="95.48" y2="516.0" stroke="#231f20" stroke-width="1"/>
<circle cx="95.48" cy="443.2" r="1.80" fill="#7a7aae" stroke="#575787" stroke-width="0.5"/>
<circle cx="95.48" cy="462.8" r="1.50" fill="#7a7aae" stroke="#575787" stroke-width="0.5"/>
<circle cx="95.48" cy="482.4" r="2.55" fill="#7a7aae" stroke="#575787" stroke-width="0.5"/>
<circle cx="95.48" cy="502.0" r="1.55" fill="#7a7aae" stroke="#575787" stroke-width="0.5"/>
<text transform="translate(98.28,520.4) rotate(-86)" font-size="7.7" text-anchor="end" fill="#231f20" font-style="italic">F13a1–Itga4</text>
<line x1="103.52" y1="513.5" x2="103.52" y2="516.0" stroke="#231f20" stroke-width="1"/>
<circle cx="103.52" cy="443.2" r="1.55" fill="#7c7cae" stroke="#595987" stroke-width="0.5"/>
<circle cx="103.52" cy="462.8" r="1.95" fill="#7c7cae" stroke="#595987" stroke-width="0.5"/>
<circle cx="103.52" cy="482.4" r="1.55" fill="#7c7cae" stroke="#595987" stroke-width="0.5"/>
<circle cx="103.52" cy="502.0" r="2.05" fill="#7c7cae" stroke="#595987" stroke-width="0.5"/>
<text transform="translate(106.32,520.4) rotate(-86)" font-size="7.7" text-anchor="end" fill="#231f20" font-style="italic">F13a1–Itga9</text>
<line x1="111.56" y1="513.5" x2="111.56" y2="516.0" stroke="#231f20" stroke-width="1"/>
<circle cx="111.56" cy="443.2" r="3.30" fill="#8a8ac2" stroke="#636397" stroke-width="0.5"/>
<circle cx="111.56" cy="462.8" r="3.25" fill="#8a8ac2" stroke="#636397" stroke-width="0.5"/>
<circle cx="111.56" cy="482.4" r="3.30" fill="#8a8ac2" stroke="#636397" stroke-width="0.5"/>
<circle cx="111.56" cy="502.0" r="3.30" fill="#8a8ac2" stroke="#636397" stroke-width="0.5"/>
<text transform="translate(114.36,520.4) rotate(-86)" font-size="7.7" text-anchor="end" fill="#231f20" font-style="italic">F13a1–Itgb1</text>
<line x1="119.60" y1="513.5" x2="119.60" y2="516.0" stroke="#231f20" stroke-width="1"/>
<circle cx="119.60" cy="443.2" r="1.05" fill="#9292bc" stroke="#696992" stroke-width="0.5"/>
<circle cx="119.60" cy="462.8" r="2.55" fill="#9292bc" stroke="#696992" stroke-width="0.5"/>
<circle cx="119.60" cy="482.4" r="2.80" fill="#9292bc" stroke="#696992" stroke-width="0.5"/>
<circle cx="119.60" cy="502.0" r="1.30" fill="#9292bc" stroke="#696992" stroke-width="0.5"/>
<text transform="translate(122.40,520.4) rotate(-86)" font-size="7.7" text-anchor="end" fill="#231f20" font-style="italic">Gnai2–Adcy7</text>
<line x1="127.64" y1="513.5" x2="127.64" y2="516.0" stroke="#231f20" stroke-width="1"/>
<circle cx="127.64" cy="443.2" r="1.05" fill="#9292bc" stroke="#696992" stroke-width="0.5"/>
<circle cx="127.64" cy="462.8" r="1.05" fill="#9292bc" stroke="#696992" stroke-width="0.5"/>
<circle cx="127.64" cy="482.4" r="3.05" fill="#9292bc" stroke="#696992" stroke-width="0.5"/>
<circle cx="127.64" cy="502.0" r="1.30" fill="#9292bc" stroke="#696992" stroke-width="0.5"/>
<text transform="translate(130.44,520.4) rotate(-86)" font-size="7.7" text-anchor="end" fill="#231f20" font-style="italic">Gnai2–C5ar1</text>
<line x1="135.68" y1="513.5" x2="135.68" y2="516.0" stroke="#231f20" stroke-width="1"/>
<circle cx="135.68" cy="443.2" r="3.30" fill="#9696c0" stroke="#6c6c95" stroke-width="0.5"/>
<circle cx="135.68" cy="462.8" r="2.30" fill="#9696c0" stroke="#6c6c95" stroke-width="0.5"/>
<circle cx="135.68" cy="482.4" r="1.30" fill="#9696c0" stroke="#6c6c95" stroke-width="0.5"/>
<circle cx="135.68" cy="502.0" r="1.55" fill="#9696c0" stroke="#6c6c95" stroke-width="0.5"/>
<text transform="translate(138.48,520.4) rotate(-86)" font-size="7.7" text-anchor="end" fill="#231f20" font-style="italic">Gnai2–Cav1</text>
<line x1="143.72" y1="513.5" x2="143.72" y2="516.0" stroke="#231f20" stroke-width="1"/>
<circle cx="143.72" cy="443.2" r="0.45" fill="#8e8eb8" stroke="#66668f" stroke-width="0.5"/>
<circle cx="143.72" cy="462.8" r="0.45" fill="#8e8eb8" stroke="#66668f" stroke-width="0.5"/>
<circle cx="143.72" cy="482.4" r="2.05" fill="#8e8eb8" stroke="#66668f" stroke-width="0.5"/>
<circle cx="143.72" cy="502.0" r="1.30" fill="#8e8eb8" stroke="#66668f" stroke-width="0.5"/>
<text transform="translate(146.52,520.4) rotate(-86)" font-size="7.7" text-anchor="end" fill="#231f20" font-style="italic">Gnai2–Ednrb</text>
<line x1="151.76" y1="513.5" x2="151.76" y2="516.0" stroke="#231f20" stroke-width="1"/>
<circle cx="151.76" cy="443.2" r="0.45" fill="#8e8eb8" stroke="#66668f" stroke-width="0.5"/>
<circle cx="151.76" cy="462.8" r="2.05" fill="#8e8eb8" stroke="#66668f" stroke-width="0.5"/>
<circle cx="151.76" cy="482.4" r="0.55" fill="#8e8eb8" stroke="#66668f" stroke-width="0.5"/>
<circle cx="151.76" cy="502.0" r="0.55" fill="#8e8eb8" stroke="#66668f" stroke-width="0.5"/>
<text transform="translate(154.56,520.4) rotate(-86)" font-size="7.7" text-anchor="end" fill="#231f20" font-style="italic">Gnai2–Egfr</text>
<line x1="159.80" y1="513.5" x2="159.80" y2="516.0" stroke="#231f20" stroke-width="1"/>
<circle cx="159.80" cy="443.2" r="2.30" fill="#9696c0" stroke="#6c6c95" stroke-width="0.5"/>
<circle cx="159.80" cy="462.8" r="2.80" fill="#9696c0" stroke="#6c6c95" stroke-width="0.5"/>
<circle cx="159.80" cy="482.4" r="1.80" fill="#9696c0" stroke="#6c6c95" stroke-width="0.5"/>
<circle cx="159.80" cy="502.0" r="1.80" fill="#9696c0" stroke="#6c6c95" stroke-width="0.5"/>
<text transform="translate(162.60,520.4) rotate(-86)" font-size="7.7" text-anchor="end" fill="#231f20" font-style="italic">Gnai2–F2r</text>
<line x1="167.84" y1="513.5" x2="167.84" y2="516.0" stroke="#231f20" stroke-width="1"/>
<circle cx="167.84" cy="443.2" r="1.80" fill="#9292bc" stroke="#696992" stroke-width="0.5"/>
<circle cx="167.84" cy="462.8" r="2.55" fill="#9292bc" stroke="#696992" stroke-width="0.5"/>
<circle cx="167.84" cy="482.4" r="2.05" fill="#9292bc" stroke="#696992" stroke-width="0.5"/>
<circle cx="167.84" cy="502.0" r="2.05" fill="#9292bc" stroke="#696992" stroke-width="0.5"/>
<text transform="translate(170.64,520.4) rotate(-86)" font-size="7.7" text-anchor="end" fill="#231f20" font-style="italic">Gnai2–Igf1r</text>
<line x1="175.88" y1="513.5" x2="175.88" y2="516.0" stroke="#231f20" stroke-width="1"/>
<circle cx="175.88" cy="443.2" r="1.55" fill="#9292bc" stroke="#696992" stroke-width="0.5"/>
<circle cx="175.88" cy="462.8" r="0.55" fill="#9292bc" stroke="#696992" stroke-width="0.5"/>
<circle cx="175.88" cy="482.4" r="2.05" fill="#9292bc" stroke="#696992" stroke-width="0.5"/>
<circle cx="175.88" cy="502.0" r="0.80" fill="#9292bc" stroke="#696992" stroke-width="0.5"/>
<text transform="translate(178.68,520.4) rotate(-86)" font-size="7.7" text-anchor="end" fill="#231f20" font-style="italic">Gnai2–P2ry12</text>
<line x1="183.92" y1="513.5" x2="183.92" y2="516.0" stroke="#231f20" stroke-width="1"/>
<circle cx="183.92" cy="443.2" r="3.05" fill="#9696c0" stroke="#6c6c95" stroke-width="0.5"/>
<circle cx="183.92" cy="462.8" r="1.05" fill="#9696c0" stroke="#6c6c95" stroke-width="0.5"/>
<circle cx="183.92" cy="482.4" r="2.80" fill="#9696c0" stroke="#6c6c95" stroke-width="0.5"/>
<circle cx="183.92" cy="502.0" r="1.80" fill="#9696c0" stroke="#6c6c95" stroke-width="0.5"/>
<text transform="translate(186.72,520.4) rotate(-86)" font-size="7.7" text-anchor="end" fill="#231f20" font-style="italic">Gnai2–S1pr1</text>
<line x1="191.96" y1="513.5" x2="191.96" y2="516.0" stroke="#231f20" stroke-width="1"/>
<circle cx="191.96" cy="443.2" r="0.55" fill="#9292bc" stroke="#696992" stroke-width="0.5"/>
<circle cx="191.96" cy="462.8" r="2.05" fill="#9292bc" stroke="#696992" stroke-width="0.5"/>
<circle cx="191.96" cy="482.4" r="1.30" fill="#9292bc" stroke="#696992" stroke-width="0.5"/>
<circle cx="191.96" cy="502.0" r="0.80" fill="#9292bc" stroke="#696992" stroke-width="0.5"/>
<text transform="translate(194.76,520.4) rotate(-86)" font-size="7.7" text-anchor="end" fill="#231f20" font-style="italic">Gnai2–S1pr3</text>
<line x1="200.00" y1="513.5" x2="200.00" y2="516.0" stroke="#231f20" stroke-width="1"/>
<circle cx="200.00" cy="443.2" r="2.30" fill="#9292bc" stroke="#696992" stroke-width="0.5"/>
<circle cx="200.00" cy="462.8" r="2.55" fill="#9292bc" stroke="#696992" stroke-width="0.5"/>
<circle cx="200.00" cy="482.4" r="1.30" fill="#9292bc" stroke="#696992" stroke-width="0.5"/>
<circle cx="200.00" cy="502.0" r="1.30" fill="#9292bc" stroke="#696992" stroke-width="0.5"/>
<text transform="translate(202.80,520.4) rotate(-86)" font-size="7.7" text-anchor="end" fill="#231f20" font-style="italic">Gnai2–Unc5b</text>
<line x1="208.04" y1="513.5" x2="208.04" y2="516.0" stroke="#231f20" stroke-width="1"/>
<circle cx="208.04" cy="443.2" r="1.05" fill="#9c9cca" stroke="#70709d" stroke-width="0.5"/>
<circle cx="208.04" cy="462.8" r="2.80" fill="#9c9cca" stroke="#70709d" stroke-width="0.5"/>
<circle cx="208.04" cy="482.4" r="2.80" fill="#9c9cca" stroke="#70709d" stroke-width="0.5"/>
<circle cx="208.04" cy="502.0" r="1.30" fill="#9c9cca" stroke="#70709d" stroke-width="0.5"/>
<text transform="translate(210.84,520.4) rotate(-86)" font-size="7.7" text-anchor="end" fill="#231f20" font-style="italic">Gnas–Adcy7</text>
<line x1="216.08" y1="513.5" x2="216.08" y2="516.0" stroke="#231f20" stroke-width="1"/>
<circle cx="216.08" cy="443.2" r="2.30" fill="#4c4c92" stroke="#363671" stroke-width="0.5"/>
<circle cx="216.08" cy="462.8" r="1.30" fill="#4c4c92" stroke="#363671" stroke-width="0.5"/>
<circle cx="216.08" cy="482.4" r="1.55" fill="#4c4c92" stroke="#363671" stroke-width="0.5"/>
<circle cx="216.08" cy="502.0" r="1.80" fill="#4c4c92" stroke="#363671" stroke-width="0.5"/>
<text transform="translate(218.88,520.4) rotate(-86)" font-size="7.7" text-anchor="end" fill="#231f20" font-style="italic">Lamc1–Itga1</text>
<line x1="224.12" y1="513.5" x2="224.12" y2="516.0" stroke="#231f20" stroke-width="1"/>
<circle cx="224.12" cy="443.2" r="2.05" fill="#5858a6" stroke="#3f3f81" stroke-width="0.5"/>
<circle cx="224.12" cy="462.8" r="1.05" fill="#5858a6" stroke="#3f3f81" stroke-width="0.5"/>
<circle cx="224.12" cy="482.4" r="2.80" fill="#5858a6" stroke="#3f3f81" stroke-width="0.5"/>
<circle cx="224.12" cy="502.0" r="1.05" fill="#5858a6" stroke="#3f3f81" stroke-width="0.5"/>
<text transform="translate(226.92,520.4) rotate(-86)" font-size="7.7" text-anchor="end" fill="#231f20" font-style="italic">Lamc1–Itga6</text>
<line x1="232.16" y1="513.5" x2="232.16" y2="516.0" stroke="#231f20" stroke-width="1"/>
<circle cx="232.16" cy="443.2" r="1.80" fill="#5c5cac" stroke="#424286" stroke-width="0.5"/>
<circle cx="232.16" cy="462.8" r="1.80" fill="#5c5cac" stroke="#424286" stroke-width="0.5"/>
<circle cx="232.16" cy="482.4" r="1.80" fill="#5c5cac" stroke="#424286" stroke-width="0.5"/>
<circle cx="232.16" cy="502.0" r="3.05" fill="#5c5cac" stroke="#424286" stroke-width="0.5"/>
<text transform="translate(234.96,520.4) rotate(-86)" font-size="7.7" text-anchor="end" fill="#231f20" font-style="italic">Lamc1–Itga7</text>
<line x1="240.20" y1="513.5" x2="240.20" y2="516.0" stroke="#231f20" stroke-width="1"/>
<circle cx="240.20" cy="443.2" r="1.55" fill="#5a5aa4" stroke="#40407f" stroke-width="0.5"/>
<circle cx="240.20" cy="462.8" r="2.55" fill="#5a5aa4" stroke="#40407f" stroke-width="0.5"/>
<circle cx="240.20" cy="482.4" r="2.55" fill="#5a5aa4" stroke="#40407f" stroke-width="0.5"/>
<circle cx="240.20" cy="502.0" r="1.55" fill="#5a5aa4" stroke="#40407f" stroke-width="0.5"/>
<text transform="translate(243.00,520.4) rotate(-86)" font-size="7.7" text-anchor="end" fill="#231f20" font-style="italic">Lamc1–Itgav</text>
<line x1="248.24" y1="513.5" x2="248.24" y2="516.0" stroke="#231f20" stroke-width="1"/>
<circle cx="248.24" cy="443.2" r="3.30" fill="#6464b0" stroke="#484889" stroke-width="0.5"/>
<circle cx="248.24" cy="462.8" r="3.30" fill="#6464b0" stroke="#484889" stroke-width="0.5"/>
<circle cx="248.24" cy="482.4" r="3.30" fill="#6464b0" stroke="#484889" stroke-width="0.5"/>
<circle cx="248.24" cy="502.0" r="3.30" fill="#6464b0" stroke="#484889" stroke-width="0.5"/>
<text transform="translate(251.04,520.4) rotate(-86)" font-size="7.7" text-anchor="end" fill="#231f20" font-style="italic">Lamc1–Itgb1</text>
<line x1="256.28" y1="513.5" x2="256.28" y2="516.0" stroke="#231f20" stroke-width="1"/>
<circle cx="256.28" cy="443.2" r="1.55" fill="#b6d6e0" stroke="#839aae" stroke-width="0.5"/>
<circle cx="256.28" cy="462.8" r="2.80" fill="#b6d6e0" stroke="#839aae" stroke-width="0.5"/>
<circle cx="256.28" cy="482.4" r="3.30" fill="#b6d6e0" stroke="#839aae" stroke-width="0.5"/>
<circle cx="256.28" cy="502.0" r="2.30" fill="#b6d6e0" stroke="#839aae" stroke-width="0.5"/>
<text transform="translate(259.08,520.4) rotate(-86)" font-size="7.7" text-anchor="end" fill="#231f20" font-style="italic">Ltbp1–Itgb5</text>
<line x1="264.32" y1="513.5" x2="264.32" y2="516.0" stroke="#231f20" stroke-width="1"/>
<circle cx="264.32" cy="443.2" r="1.30" fill="#404074" stroke="#2e2e5a" stroke-width="0.5"/>
<circle cx="264.32" cy="462.8" r="2.80" fill="#404074" stroke="#2e2e5a" stroke-width="0.5"/>
<circle cx="264.32" cy="482.4" r="1.30" fill="#404074" stroke="#2e2e5a" stroke-width="0.5"/>
<circle cx="264.32" cy="502.0" r="1.30" fill="#404074" stroke="#2e2e5a" stroke-width="0.5"/>
<text transform="translate(267.12,520.4) rotate(-86)" font-size="7.7" text-anchor="end" fill="#231f20" font-style="italic">Pdgfa–Pdgfra</text>
<line x1="272.36" y1="513.5" x2="272.36" y2="516.0" stroke="#231f20" stroke-width="1"/>
<circle cx="272.36" cy="443.2" r="0.45" fill="#404074" stroke="#2e2e5a" stroke-width="0.5"/>
<circle cx="272.36" cy="462.8" r="2.30" fill="#404074" stroke="#2e2e5a" stroke-width="0.5"/>
<circle cx="272.36" cy="482.4" r="1.30" fill="#404074" stroke="#2e2e5a" stroke-width="0.5"/>
<circle cx="272.36" cy="502.0" r="1.30" fill="#404074" stroke="#2e2e5a" stroke-width="0.5"/>
<text transform="translate(275.16,520.4) rotate(-86)" font-size="7.7" text-anchor="end" fill="#231f20" font-style="italic">Pdgfa–Pdgfrb</text>
<line x1="280.40" y1="513.5" x2="280.40" y2="516.0" stroke="#231f20" stroke-width="1"/>
<circle cx="280.40" cy="443.2" r="2.30" fill="#7070ae" stroke="#505087" stroke-width="0.5"/>
<circle cx="280.40" cy="462.8" r="2.55" fill="#7070ae" stroke="#505087" stroke-width="0.5"/>
<circle cx="280.40" cy="482.4" r="3.30" fill="#7070ae" stroke="#505087" stroke-width="0.5"/>
<circle cx="280.40" cy="502.0" r="1.80" fill="#7070ae" stroke="#505087" stroke-width="0.5"/>
<text transform="translate(283.20,520.4) rotate(-86)" font-size="7.7" text-anchor="end" fill="#231f20" font-style="italic">Pkm–Cd44</text>
<line x1="288.44" y1="513.5" x2="288.44" y2="516.0" stroke="#231f20" stroke-width="1"/>
<circle cx="288.44" cy="443.2" r="2.55" fill="#5c5ca8" stroke="#424283" stroke-width="0.5"/>
<circle cx="288.44" cy="462.8" r="2.55" fill="#5c5ca8" stroke="#424283" stroke-width="0.5"/>
<circle cx="288.44" cy="482.4" r="2.30" fill="#5c5ca8" stroke="#424283" stroke-width="0.5"/>
<circle cx="288.44" cy="502.0" r="0.55" fill="#5c5ca8" stroke="#424283" stroke-width="0.5"/>
<text transform="translate(291.24,520.4) rotate(-86)" font-size="7.7" text-anchor="end" fill="#231f20" font-style="italic">Tgfb1–Acvrl1</text>
<line x1="296.48" y1="513.5" x2="296.48" y2="516.0" stroke="#231f20" stroke-width="1"/>
<circle cx="296.48" cy="443.2" r="3.30" fill="#6666b4" stroke="#49498c" stroke-width="0.5"/>
<circle cx="296.48" cy="462.8" r="2.55" fill="#6666b4" stroke="#49498c" stroke-width="0.5"/>
<circle cx="296.48" cy="482.4" r="1.80" fill="#6666b4" stroke="#49498c" stroke-width="0.5"/>
<circle cx="296.48" cy="502.0" r="1.80" fill="#6666b4" stroke="#49498c" stroke-width="0.5"/>
<text transform="translate(299.28,520.4) rotate(-86)" font-size="7.7" text-anchor="end" fill="#231f20" font-style="italic">Tgfb1–Cav1</text>
<line x1="304.52" y1="513.5" x2="304.52" y2="516.0" stroke="#231f20" stroke-width="1"/>
<circle cx="304.52" cy="443.2" r="1.80" fill="#6262b0" stroke="#464689" stroke-width="0.5"/>
<circle cx="304.52" cy="462.8" r="1.80" fill="#6262b0" stroke="#464689" stroke-width="0.5"/>
<circle cx="304.52" cy="482.4" r="2.05" fill="#6262b0" stroke="#464689" stroke-width="0.5"/>
<circle cx="304.52" cy="502.0" r="1.05" fill="#6262b0" stroke="#464689" stroke-width="0.5"/>
<text transform="translate(307.32,520.4) rotate(-86)" font-size="7.7" text-anchor="end" fill="#231f20" font-style="italic">Tgfb1–Cd109</text>
<line x1="312.56" y1="513.5" x2="312.56" y2="516.0" stroke="#231f20" stroke-width="1"/>
<circle cx="312.56" cy="443.2" r="1.80" fill="#6262b0" stroke="#464689" stroke-width="0.5"/>
<circle cx="312.56" cy="462.8" r="0.45" fill="#6262b0" stroke="#464689" stroke-width="0.5"/>
<circle cx="312.56" cy="482.4" r="2.80" fill="#6262b0" stroke="#464689" stroke-width="0.5"/>
<circle cx="312.56" cy="502.0" r="1.55" fill="#6262b0" stroke="#464689" stroke-width="0.5"/>
<text transform="translate(315.36,520.4) rotate(-86)" font-size="7.7" text-anchor="end" fill="#231f20" font-style="italic">Tgfb1–Cxcr4</text>
<line x1="320.60" y1="513.5" x2="320.60" y2="516.0" stroke="#231f20" stroke-width="1"/>
<circle cx="320.60" cy="443.2" r="3.05" fill="#6666b4" stroke="#49498c" stroke-width="0.5"/>
<circle cx="320.60" cy="462.8" r="2.30" fill="#6666b4" stroke="#49498c" stroke-width="0.5"/>
<circle cx="320.60" cy="482.4" r="2.05" fill="#6666b4" stroke="#49498c" stroke-width="0.5"/>
<circle cx="320.60" cy="502.0" r="1.55" fill="#6666b4" stroke="#49498c" stroke-width="0.5"/>
<text transform="translate(323.40,520.4) rotate(-86)" font-size="7.7" text-anchor="end" fill="#231f20" font-style="italic">Tgfb1–Eng</text>
<line x1="328.64" y1="513.5" x2="328.64" y2="516.0" stroke="#231f20" stroke-width="1"/>
<circle cx="328.64" cy="443.2" r="1.55" fill="#6666b4" stroke="#49498c" stroke-width="0.5"/>
<circle cx="328.64" cy="462.8" r="2.80" fill="#6666b4" stroke="#49498c" stroke-width="0.5"/>
<circle cx="328.64" cy="482.4" r="2.55" fill="#6666b4" stroke="#49498c" stroke-width="0.5"/>
<circle cx="328.64" cy="502.0" r="1.55" fill="#6666b4" stroke="#49498c" stroke-width="0.5"/>
<text transform="translate(331.44,520.4) rotate(-86)" font-size="7.7" text-anchor="end" fill="#231f20" font-style="italic">Tgfb1–Itgav</text>
<line x1="336.68" y1="513.5" x2="336.68" y2="516.0" stroke="#231f20" stroke-width="1"/>
<circle cx="336.68" cy="443.2" r="0.45" fill="#6464b2" stroke="#48488a" stroke-width="0.5"/>
<circle cx="336.68" cy="462.8" r="3.30" fill="#6464b2" stroke="#48488a" stroke-width="0.5"/>
<circle cx="336.68" cy="482.4" r="1.30" fill="#6464b2" stroke="#48488a" stroke-width="0.5"/>
<circle cx="336.68" cy="502.0" r="1.80" fill="#6464b2" stroke="#48488a" stroke-width="0.5"/>
<text transform="translate(339.48,520.4) rotate(-86)" font-size="7.7" text-anchor="end" fill="#231f20" font-style="italic">Tgfb1–Sdc2</text>
<line x1="344.72" y1="513.5" x2="344.72" y2="516.0" stroke="#231f20" stroke-width="1"/>
<circle cx="344.72" cy="443.2" r="1.80" fill="#6464b2" stroke="#48488a" stroke-width="0.5"/>
<circle cx="344.72" cy="462.8" r="2.05" fill="#6464b2" stroke="#48488a" stroke-width="0.5"/>
<circle cx="344.72" cy="482.4" r="3.05" fill="#6464b2" stroke="#48488a" stroke-width="0.5"/>
<circle cx="344.72" cy="502.0" r="1.30" fill="#6464b2" stroke="#48488a" stroke-width="0.5"/>
<text transform="translate(347.52,520.4) rotate(-86)" font-size="7.7" text-anchor="end" fill="#231f20" font-style="italic">Tgfb1–Tgfbr1</text>
<line x1="352.76" y1="513.5" x2="352.76" y2="516.0" stroke="#231f20" stroke-width="1"/>
<circle cx="352.76" cy="443.2" r="2.80" fill="#6666b4" stroke="#49498c" stroke-width="0.5"/>
<circle cx="352.76" cy="462.8" r="2.55" fill="#6666b4" stroke="#49498c" stroke-width="0.5"/>
<circle cx="352.76" cy="482.4" r="3.05" fill="#6666b4" stroke="#49498c" stroke-width="0.5"/>
<circle cx="352.76" cy="502.0" r="1.55" fill="#6666b4" stroke="#49498c" stroke-width="0.5"/>
<text transform="translate(355.56,520.4) rotate(-86)" font-size="7.7" text-anchor="end" fill="#231f20" font-style="italic">Tgfb1–Tgfbr2</text>
<line x1="360.80" y1="513.5" x2="360.80" y2="516.0" stroke="#231f20" stroke-width="1"/>
<circle cx="360.80" cy="443.2" r="2.05" fill="#6464b2" stroke="#48488a" stroke-width="0.5"/>
<circle cx="360.80" cy="462.8" r="2.30" fill="#6464b2" stroke="#48488a" stroke-width="0.5"/>
<circle cx="360.80" cy="482.4" r="1.30" fill="#6464b2" stroke="#48488a" stroke-width="0.5"/>
<circle cx="360.80" cy="502.0" r="1.80" fill="#6464b2" stroke="#48488a" stroke-width="0.5"/>
<text transform="translate(363.60,520.4) rotate(-86)" font-size="7.7" text-anchor="end" fill="#231f20" font-style="italic">Tgfb1–Tgfbr3</text>
<line x1="368.84" y1="513.5" x2="368.84" y2="516.0" stroke="#231f20" stroke-width="1"/>
<circle cx="368.84" cy="443.2" r="3.30" fill="#6868b6" stroke="#4a4a8d" stroke-width="0.5"/>
<circle cx="368.84" cy="462.8" r="2.05" fill="#6868b6" stroke="#4a4a8d" stroke-width="0.5"/>
<circle cx="368.84" cy="482.4" r="3.30" fill="#6868b6" stroke="#4a4a8d" stroke-width="0.5"/>
<circle cx="368.84" cy="502.0" r="3.30" fill="#6868b6" stroke="#4a4a8d" stroke-width="0.5"/>
<text transform="translate(371.64,520.4) rotate(-86)" font-size="7.7" text-anchor="end" fill="#231f20" font-style="italic">Thbs1–Cd36</text>
<line x1="376.88" y1="513.5" x2="376.88" y2="516.0" stroke="#231f20" stroke-width="1"/>
<circle cx="376.88" cy="443.2" r="2.55" fill="#6868b6" stroke="#4a4a8d" stroke-width="0.5"/>
<circle cx="376.88" cy="462.8" r="2.80" fill="#6868b6" stroke="#4a4a8d" stroke-width="0.5"/>
<circle cx="376.88" cy="482.4" r="3.30" fill="#6868b6" stroke="#4a4a8d" stroke-width="0.5"/>
<circle cx="376.88" cy="502.0" r="2.30" fill="#6868b6" stroke="#4a4a8d" stroke-width="0.5"/>
<text transform="translate(379.68,520.4) rotate(-86)" font-size="7.7" text-anchor="end" fill="#231f20" font-style="italic">Thbs1–Cd47</text>
<line x1="384.92" y1="513.5" x2="384.92" y2="516.0" stroke="#231f20" stroke-width="1"/>
<circle cx="384.92" cy="443.2" r="1.55" fill="#6464b2" stroke="#48488a" stroke-width="0.5"/>
<circle cx="384.92" cy="462.8" r="1.30" fill="#6464b2" stroke="#48488a" stroke-width="0.5"/>
<circle cx="384.92" cy="482.4" r="2.80" fill="#6464b2" stroke="#48488a" stroke-width="0.5"/>
<circle cx="384.92" cy="502.0" r="1.30" fill="#6464b2" stroke="#48488a" stroke-width="0.5"/>
<text transform="translate(387.72,520.4) rotate(-86)" font-size="7.7" text-anchor="end" fill="#231f20" font-style="italic">Thbs1–Itga4</text>
<line x1="392.96" y1="513.5" x2="392.96" y2="516.0" stroke="#231f20" stroke-width="1"/>
<circle cx="392.96" cy="443.2" r="1.55" fill="#6464b2" stroke="#48488a" stroke-width="0.5"/>
<circle cx="392.96" cy="462.8" r="0.80" fill="#6464b2" stroke="#48488a" stroke-width="0.5"/>
<circle cx="392.96" cy="482.4" r="2.55" fill="#6464b2" stroke="#48488a" stroke-width="0.5"/>
<circle cx="392.96" cy="502.0" r="1.05" fill="#6464b2" stroke="#48488a" stroke-width="0.5"/>
<text transform="translate(395.76,520.4) rotate(-86)" font-size="7.7" text-anchor="end" fill="#231f20" font-style="italic">Thbs1–Itga6</text>
<line x1="401.00" y1="513.5" x2="401.00" y2="516.0" stroke="#231f20" stroke-width="1"/>
<circle cx="401.00" cy="443.2" r="3.30" fill="#6464b4" stroke="#48488c" stroke-width="0.5"/>
<circle cx="401.00" cy="462.8" r="3.30" fill="#6464b4" stroke="#48488c" stroke-width="0.5"/>
<circle cx="401.00" cy="482.4" r="3.30" fill="#6464b4" stroke="#48488c" stroke-width="0.5"/>
<circle cx="401.00" cy="502.0" r="3.30" fill="#6464b4" stroke="#48488c" stroke-width="0.5"/>
<text transform="translate(403.80,520.4) rotate(-86)" font-size="7.7" text-anchor="end" fill="#231f20" font-style="italic">Thbs1–Itgb1</text>
<line x1="409.04" y1="513.5" x2="409.04" y2="516.0" stroke="#231f20" stroke-width="1"/>
<circle cx="409.04" cy="443.2" r="2.30" fill="#6666b6" stroke="#49498d" stroke-width="0.5"/>
<circle cx="409.04" cy="462.8" r="3.30" fill="#6666b6" stroke="#49498d" stroke-width="0.5"/>
<circle cx="409.04" cy="482.4" r="3.30" fill="#6666b6" stroke="#49498d" stroke-width="0.5"/>
<circle cx="409.04" cy="502.0" r="2.30" fill="#6666b6" stroke="#49498d" stroke-width="0.5"/>
<text transform="translate(411.84,520.4) rotate(-86)" font-size="7.7" text-anchor="end" fill="#231f20" font-style="italic">Thbs1–Lrp1</text>
<line x1="417.08" y1="513.5" x2="417.08" y2="516.0" stroke="#231f20" stroke-width="1"/>
<circle cx="417.08" cy="443.2" r="1.80" fill="#6464b2" stroke="#48488a" stroke-width="0.5"/>
<circle cx="417.08" cy="462.8" r="2.05" fill="#6464b2" stroke="#48488a" stroke-width="0.5"/>
<circle cx="417.08" cy="482.4" r="1.80" fill="#6464b2" stroke="#48488a" stroke-width="0.5"/>
<circle cx="417.08" cy="502.0" r="1.55" fill="#6464b2" stroke="#48488a" stroke-width="0.5"/>
<text transform="translate(419.88,520.4) rotate(-86)" font-size="7.7" text-anchor="end" fill="#231f20" font-style="italic">Thbs1–Lrp5</text>
<line x1="425.12" y1="513.5" x2="425.12" y2="516.0" stroke="#231f20" stroke-width="1"/>
<circle cx="425.12" cy="443.2" r="2.80" fill="#6464b2" stroke="#48488a" stroke-width="0.5"/>
<circle cx="425.12" cy="462.8" r="0.80" fill="#6464b2" stroke="#48488a" stroke-width="0.5"/>
<circle cx="425.12" cy="482.4" r="2.30" fill="#6464b2" stroke="#48488a" stroke-width="0.5"/>
<circle cx="425.12" cy="502.0" r="1.30" fill="#6464b2" stroke="#48488a" stroke-width="0.5"/>
<text transform="translate(427.92,520.4) rotate(-86)" font-size="7.7" text-anchor="end" fill="#231f20" font-style="italic">Thbs1–Scarb1</text>
<line x1="433.16" y1="513.5" x2="433.16" y2="516.0" stroke="#231f20" stroke-width="1"/>
<circle cx="433.16" cy="443.2" r="0.55" fill="#6060ae" stroke="#454587" stroke-width="0.5"/>
<circle cx="433.16" cy="462.8" r="2.05" fill="#6060ae" stroke="#454587" stroke-width="0.5"/>
<circle cx="433.16" cy="482.4" r="1.55" fill="#6060ae" stroke="#454587" stroke-width="0.5"/>
<circle cx="433.16" cy="502.0" r="1.30" fill="#6060ae" stroke="#454587" stroke-width="0.5"/>
<text transform="translate(435.96,520.4) rotate(-86)" font-size="7.7" text-anchor="end" fill="#231f20" font-style="italic">Thbs1–Sdc1</text>
<line x1="441.20" y1="513.5" x2="441.20" y2="516.0" stroke="#231f20" stroke-width="1"/>
<circle cx="441.20" cy="443.2" r="1.30" fill="#6464b2" stroke="#48488a" stroke-width="0.5"/>
<circle cx="441.20" cy="462.8" r="2.05" fill="#6464b2" stroke="#48488a" stroke-width="0.5"/>
<circle cx="441.20" cy="482.4" r="2.05" fill="#6464b2" stroke="#48488a" stroke-width="0.5"/>
<circle cx="441.20" cy="502.0" r="1.55" fill="#6464b2" stroke="#48488a" stroke-width="0.5"/>
<text transform="translate(444.00,520.4) rotate(-86)" font-size="7.7" text-anchor="end" fill="#231f20" font-style="italic">Thbs1–Sdc4</text>
<text x="484.50" y="438.20" font-size="7.6" text-anchor="middle" fill="#231f20" stroke="#231f20" stroke-width="0.1" >Ligand</text>
<text x="484.6" y="447.9" font-size="7.6" text-anchor="middle" fill="#231f20">(log<tspan font-size="5.3" dy="1.6">2</tspan><tspan dy="-1.6"> fold change</tspan></text>
<text x="484.80" y="457.30" font-size="7.6" text-anchor="middle" fill="#231f20" stroke="#231f20" stroke-width="0.1" >RP vs. nonRP)</text>
<defs><linearGradient id="cb" x1="0" x2="1" y1="0" y2="0"><stop offset="0" stop-color="#93cbe3"/><stop offset="0.33" stop-color="#7f9ad6"/><stop offset="0.66" stop-color="#5656b8"/><stop offset="1" stop-color="#2b2b8e"/></linearGradient></defs>
<rect x="461.1" y="461.8" width="47" height="8.8" fill="url(#cb)"/>
<line x1="469.5" y1="461.8" x2="469.5" y2="463.2" stroke="#fff" stroke-width="0.6"/>
<line x1="469.5" y1="469.2" x2="469.5" y2="470.6" stroke="#fff" stroke-width="0.6"/>
<text transform="translate(472.10,473.6) rotate(-90)" font-size="7.3" text-anchor="end" fill="#231f20">2.0</text>
<line x1="482.3" y1="461.8" x2="482.3" y2="463.2" stroke="#fff" stroke-width="0.6"/>
<line x1="482.3" y1="469.2" x2="482.3" y2="470.6" stroke="#fff" stroke-width="0.6"/>
<text transform="translate(484.90,473.6) rotate(-90)" font-size="7.3" text-anchor="end" fill="#231f20">2.5</text>
<line x1="495.1" y1="461.8" x2="495.1" y2="463.2" stroke="#fff" stroke-width="0.6"/>
<line x1="495.1" y1="469.2" x2="495.1" y2="470.6" stroke="#fff" stroke-width="0.6"/>
<text transform="translate(497.70,473.6) rotate(-90)" font-size="7.3" text-anchor="end" fill="#231f20">3.0</text>
<line x1="507.6" y1="461.8" x2="507.6" y2="463.2" stroke="#fff" stroke-width="0.6"/>
<line x1="507.6" y1="469.2" x2="507.6" y2="470.6" stroke="#fff" stroke-width="0.6"/>
<text transform="translate(510.20,473.6) rotate(-90)" font-size="7.3" text-anchor="end" fill="#231f20">3.5</text>
<text x="484.60" y="499.60" font-size="7.6" text-anchor="middle" fill="#231f20" stroke="#231f20" stroke-width="0.1" >Receptor</text>
<text x="484.60" y="509.30" font-size="7.6" text-anchor="middle" fill="#231f20" stroke="#231f20" stroke-width="0.1" >(% of target cells</text>
<text x="484.60" y="519.60" font-size="7.6" text-anchor="middle" fill="#231f20" stroke="#231f20" stroke-width="0.1" >expressing)</text>
<circle cx="463.6" cy="528.3" r="0.6" fill="#000"/>
<text transform="translate(466.20,533.8) rotate(-90)" font-size="7.3" text-anchor="end" fill="#231f20">0</text>
<circle cx="473.3" cy="528.3" r="1.6" fill="#000"/>
<text transform="translate(475.90,533.8) rotate(-90)" font-size="7.3" text-anchor="end" fill="#231f20">20</text>
<circle cx="481.9" cy="528.3" r="2.15" fill="#000"/>
<text transform="translate(484.50,533.8) rotate(-90)" font-size="7.3" text-anchor="end" fill="#231f20">40</text>
<circle cx="491.6" cy="528.3" r="2.65" fill="#000"/>
<text transform="translate(494.20,533.8) rotate(-90)" font-size="7.3" text-anchor="end" fill="#231f20">60</text>
<circle cx="501.0" cy="528.3" r="3.15" fill="#000"/>
<text transform="translate(503.60,533.8) rotate(-90)" font-size="7.3" text-anchor="end" fill="#231f20">80</text>
</g>
</svg></div></body></html>
